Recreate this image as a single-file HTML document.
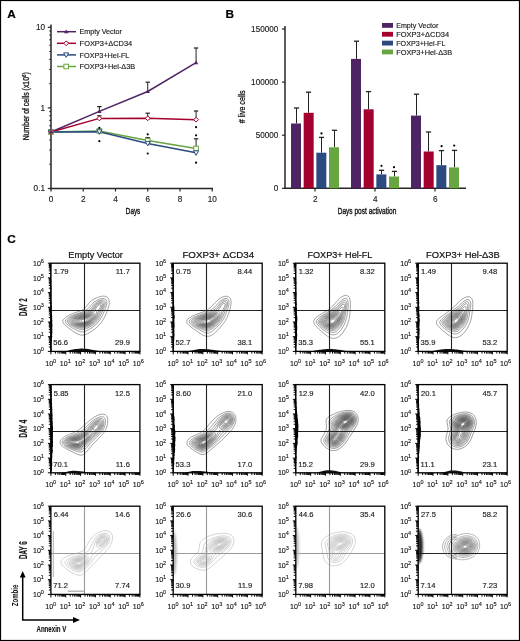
<!DOCTYPE html>
<html><head><meta charset="utf-8"><style>
html,body{margin:0;padding:0;background:#fff;}
svg{display:block;font-family:"Liberation Sans", sans-serif;will-change:transform;}
</style></head><body>
<svg width="520" height="641" viewBox="0 0 520 641">
<defs><filter id="bl" x="-50%" y="-20%" width="200%" height="140%"><feGaussianBlur stdDeviation="1.1"/></filter></defs>
<rect x="0.5" y="0.5" width="519" height="640" fill="#fff" stroke="#000" stroke-width="1.2"/>
<text x="7.20" y="17.60" font-size="11.8" font-weight="bold" fill="#000" stroke="#000" stroke-width="0.2" >A</text>
<text x="225.60" y="17.60" font-size="11.8" font-weight="bold" fill="#000" stroke="#000" stroke-width="0.2" >B</text>
<text x="7.20" y="243.30" font-size="11.8" font-weight="bold" fill="#000" stroke="#000" stroke-width="0.2" >C</text>
<line x1="51.0" y1="24.5" x2="51.0" y2="189.2" stroke="#262626" stroke-width="1.5"/>
<line x1="50.3" y1="188.6" x2="213" y2="188.6" stroke="#262626" stroke-width="1.5"/>
<line x1="47.8" y1="27.30" x2="51.0" y2="27.30" stroke="#262626" stroke-width="1.2"/>
<line x1="47.8" y1="107.90" x2="51.0" y2="107.90" stroke="#262626" stroke-width="1.2"/>
<line x1="47.8" y1="188.50" x2="51.0" y2="188.50" stroke="#262626" stroke-width="1.2"/>
<line x1="49.2" y1="164.24" x2="51.0" y2="164.24" stroke="#262626" stroke-width="1"/>
<line x1="49.2" y1="150.04" x2="51.0" y2="150.04" stroke="#262626" stroke-width="1"/>
<line x1="49.2" y1="139.97" x2="51.0" y2="139.97" stroke="#262626" stroke-width="1"/>
<line x1="49.2" y1="132.16" x2="51.0" y2="132.16" stroke="#262626" stroke-width="1"/>
<line x1="49.2" y1="125.78" x2="51.0" y2="125.78" stroke="#262626" stroke-width="1"/>
<line x1="49.2" y1="120.39" x2="51.0" y2="120.39" stroke="#262626" stroke-width="1"/>
<line x1="49.2" y1="115.71" x2="51.0" y2="115.71" stroke="#262626" stroke-width="1"/>
<line x1="49.2" y1="111.59" x2="51.0" y2="111.59" stroke="#262626" stroke-width="1"/>
<line x1="49.2" y1="83.64" x2="51.0" y2="83.64" stroke="#262626" stroke-width="1"/>
<line x1="49.2" y1="69.44" x2="51.0" y2="69.44" stroke="#262626" stroke-width="1"/>
<line x1="49.2" y1="59.37" x2="51.0" y2="59.37" stroke="#262626" stroke-width="1"/>
<line x1="49.2" y1="51.56" x2="51.0" y2="51.56" stroke="#262626" stroke-width="1"/>
<line x1="49.2" y1="45.18" x2="51.0" y2="45.18" stroke="#262626" stroke-width="1"/>
<line x1="49.2" y1="39.79" x2="51.0" y2="39.79" stroke="#262626" stroke-width="1"/>
<line x1="49.2" y1="35.11" x2="51.0" y2="35.11" stroke="#262626" stroke-width="1"/>
<line x1="49.2" y1="30.99" x2="51.0" y2="30.99" stroke="#262626" stroke-width="1"/>
<text x="45.00" y="30.20" font-size="8.2" text-anchor="end" fill="#222" stroke="#222" stroke-width="0.15" >10</text>
<text x="45.00" y="110.80" font-size="8.2" text-anchor="end" fill="#222" stroke="#222" stroke-width="0.15" >1</text>
<text x="45.00" y="191.40" font-size="8.2" text-anchor="end" fill="#222" stroke="#222" stroke-width="0.15" >0.1</text>
<line x1="51.00" y1="188.6" x2="51.00" y2="191.5" stroke="#262626" stroke-width="1.2"/>
<text x="51.00" y="201.60" font-size="8.2" text-anchor="middle" fill="#222" stroke="#222" stroke-width="0.15" >0</text>
<line x1="83.24" y1="188.6" x2="83.24" y2="191.5" stroke="#262626" stroke-width="1.2"/>
<text x="83.24" y="201.60" font-size="8.2" text-anchor="middle" fill="#222" stroke="#222" stroke-width="0.15" >2</text>
<line x1="115.48" y1="188.6" x2="115.48" y2="191.5" stroke="#262626" stroke-width="1.2"/>
<text x="115.48" y="201.60" font-size="8.2" text-anchor="middle" fill="#222" stroke="#222" stroke-width="0.15" >4</text>
<line x1="147.72" y1="188.6" x2="147.72" y2="191.5" stroke="#262626" stroke-width="1.2"/>
<text x="147.72" y="201.60" font-size="8.2" text-anchor="middle" fill="#222" stroke="#222" stroke-width="0.15" >6</text>
<line x1="179.96" y1="188.6" x2="179.96" y2="191.5" stroke="#262626" stroke-width="1.2"/>
<text x="179.96" y="201.60" font-size="8.2" text-anchor="middle" fill="#222" stroke="#222" stroke-width="0.15" >8</text>
<line x1="212.20" y1="188.6" x2="212.20" y2="191.5" stroke="#262626" stroke-width="1.2"/>
<text x="212.20" y="201.60" font-size="8.2" text-anchor="middle" fill="#222" stroke="#222" stroke-width="0.15" >10</text>
<text x="125.80" y="214.40" font-size="9.2" fill="#111" stroke="#111" stroke-width="0.35" textLength="14.5" lengthAdjust="spacingAndGlyphs" >Days</text>
<text transform="translate(29.3,140.3) rotate(-90)" font-size="9" fill="#111" stroke="#111" stroke-width="0.3" textLength="68" lengthAdjust="spacingAndGlyphs">Number of cells (x10<tspan dy="-3" font-size="5.5">6</tspan><tspan dy="3">)</tspan></text>
<line x1="99.36" y1="106.6" x2="99.36" y2="111.4" stroke="#222" stroke-width="1"/>
<line x1="97.16" y1="106.6" x2="101.56" y2="106.6" stroke="#222" stroke-width="1.2"/>
<line x1="147.72" y1="82.2" x2="147.72" y2="91.5" stroke="#222" stroke-width="1"/>
<line x1="145.52" y1="82.2" x2="149.92" y2="82.2" stroke="#222" stroke-width="1.2"/>
<line x1="196.08" y1="48.0" x2="196.08" y2="62.6" stroke="#222" stroke-width="1"/>
<line x1="193.88" y1="48.0" x2="198.28" y2="48.0" stroke="#222" stroke-width="1.2"/>
<line x1="99.36" y1="115.8" x2="99.36" y2="118.4" stroke="#222" stroke-width="1"/>
<line x1="97.16" y1="115.8" x2="101.56" y2="115.8" stroke="#222" stroke-width="1.2"/>
<line x1="147.72" y1="113.2" x2="147.72" y2="118.3" stroke="#222" stroke-width="1"/>
<line x1="145.52" y1="113.2" x2="149.92" y2="113.2" stroke="#222" stroke-width="1.2"/>
<line x1="196.08" y1="111.0" x2="196.08" y2="119.7" stroke="#222" stroke-width="1"/>
<line x1="193.88" y1="111.0" x2="198.28" y2="111.0" stroke="#222" stroke-width="1.2"/>
<line x1="147.72" y1="137.6" x2="147.72" y2="140.6" stroke="#222" stroke-width="1"/>
<line x1="145.52" y1="137.6" x2="149.92" y2="137.6" stroke="#222" stroke-width="1.2"/>
<line x1="196.08" y1="138.8" x2="196.08" y2="148.5" stroke="#222" stroke-width="1"/>
<line x1="193.88" y1="138.8" x2="198.28" y2="138.8" stroke="#222" stroke-width="1.2"/>
<polyline points="51.00,132 99.36,111.4 147.72,91.5 196.08,62.6" fill="none" stroke="#4f2465" stroke-width="1.5"/>
<polyline points="51.00,132 99.36,118.4 147.72,118.3 196.08,119.7" fill="none" stroke="#a3002e" stroke-width="1.5"/>
<polyline points="51.00,132 99.36,131.0 147.72,140.6 196.08,148.5" fill="none" stroke="#66a540" stroke-width="1.5"/>
<polyline points="51.00,132 99.36,131.8 147.72,143.4 196.08,152.8" fill="none" stroke="#2b4a80" stroke-width="1.5"/>
<rect x="48.70" y="129.70" width="4.6" height="4.6" fill="#fff" stroke="#66a540" stroke-width="1"/>
<rect x="97.06" y="128.70" width="4.6" height="4.6" fill="#fff" stroke="#66a540" stroke-width="1"/>
<rect x="145.42" y="138.30" width="4.6" height="4.6" fill="#fff" stroke="#66a540" stroke-width="1"/>
<rect x="193.78" y="146.20" width="4.6" height="4.6" fill="#fff" stroke="#66a540" stroke-width="1"/>
<path d="M48.50,130.00 L53.50,130.00 L51.00,134.50 Z" fill="#fff" stroke="#2b4a80" stroke-width="1"/>
<path d="M96.86,129.80 L101.86,129.80 L99.36,134.30 Z" fill="#fff" stroke="#2b4a80" stroke-width="1"/>
<path d="M145.22,141.40 L150.22,141.40 L147.72,145.90 Z" fill="#fff" stroke="#2b4a80" stroke-width="1"/>
<path d="M193.58,150.80 L198.58,150.80 L196.08,155.30 Z" fill="#fff" stroke="#2b4a80" stroke-width="1"/>
<path d="M51.00,129.60 L53.40,132.00 L51.00,134.40 L48.60,132.00 Z" fill="#fff" stroke="#a3002e" stroke-width="1"/>
<path d="M99.36,116.00 L101.76,118.40 L99.36,120.80 L96.96,118.40 Z" fill="#fff" stroke="#a3002e" stroke-width="1"/>
<path d="M147.72,115.90 L150.12,118.30 L147.72,120.70 L145.32,118.30 Z" fill="#fff" stroke="#a3002e" stroke-width="1"/>
<path d="M196.08,117.30 L198.48,119.70 L196.08,122.10 L193.68,119.70 Z" fill="#fff" stroke="#a3002e" stroke-width="1"/>
<path d="M48.80,133.60 L53.20,133.60 L51.00,129.80 Z" fill="#4f2465"/>
<path d="M97.16,113.00 L101.56,113.00 L99.36,109.20 Z" fill="#4f2465"/>
<path d="M145.52,93.10 L149.92,93.10 L147.72,89.30 Z" fill="#4f2465"/>
<path d="M193.88,64.20 L198.28,64.20 L196.08,60.40 Z" fill="#4f2465"/>
<circle cx="99.36" cy="127.8" r="1.1" fill="#000"/>
<circle cx="99.36" cy="141.2" r="1.1" fill="#000"/>
<circle cx="147.72" cy="134.3" r="1.1" fill="#000"/>
<circle cx="147.72" cy="153.5" r="1.1" fill="#000"/>
<circle cx="196.08" cy="127.2" r="1.1" fill="#000"/>
<circle cx="196.08" cy="135.3" r="1.1" fill="#000"/>
<circle cx="196.08" cy="162.7" r="1.1" fill="#000"/>
<line x1="57" y1="31.70" x2="76" y2="31.70" stroke="#4f2465" stroke-width="1.5"/>
<path d="M64.00,33.30 L68.40,33.30 L66.20,29.50 Z" fill="#4f2465"/>
<text x="79.60" y="34.40" font-size="7.5" fill="#1a1a1a" stroke="#1a1a1a" stroke-width="0.15" textLength="42.3" lengthAdjust="spacingAndGlyphs" >Empty Vector</text>
<line x1="57" y1="43.30" x2="76" y2="43.30" stroke="#a3002e" stroke-width="1.5"/>
<path d="M66.20,40.90 L68.60,43.30 L66.20,45.70 L63.80,43.30 Z" fill="#fff" stroke="#a3002e" stroke-width="1"/>
<text x="79.60" y="46.00" font-size="7.5" fill="#1a1a1a" stroke="#1a1a1a" stroke-width="0.15" textLength="52.6" lengthAdjust="spacingAndGlyphs" >FOXP3+ΔCD34</text>
<line x1="57" y1="54.90" x2="76" y2="54.90" stroke="#2b4a80" stroke-width="1.5"/>
<path d="M63.70,52.90 L68.70,52.90 L66.20,57.40 Z" fill="#fff" stroke="#2b4a80" stroke-width="1"/>
<text x="79.60" y="57.60" font-size="7.5" fill="#1a1a1a" stroke="#1a1a1a" stroke-width="0.15" textLength="49.8" lengthAdjust="spacingAndGlyphs" >FOXP3+Hel-FL</text>
<line x1="57" y1="66.50" x2="76" y2="66.50" stroke="#66a540" stroke-width="1.5"/>
<rect x="63.90" y="64.20" width="4.6" height="4.6" fill="#fff" stroke="#66a540" stroke-width="1"/>
<text x="79.60" y="69.20" font-size="7.5" fill="#1a1a1a" stroke="#1a1a1a" stroke-width="0.15" textLength="55.6" lengthAdjust="spacingAndGlyphs" >FOXP3+Hel-Δ3B</text>
<line x1="285.0" y1="26" x2="285.0" y2="189" stroke="#262626" stroke-width="1.5"/>
<line x1="284.3" y1="188.3" x2="466" y2="188.3" stroke="#262626" stroke-width="1.5"/>
<line x1="282.0" y1="188.30" x2="285.0" y2="188.30" stroke="#262626" stroke-width="1.2"/>
<text x="278.30" y="191.20" font-size="8.3" text-anchor="end" fill="#1a1a1a" stroke="#1a1a1a" stroke-width="0.15" textLength="4.6" lengthAdjust="spacingAndGlyphs" >0</text>
<line x1="282.0" y1="135.20" x2="285.0" y2="135.20" stroke="#262626" stroke-width="1.2"/>
<text x="278.30" y="138.10" font-size="8.3" text-anchor="end" fill="#1a1a1a" stroke="#1a1a1a" stroke-width="0.15" textLength="22.6" lengthAdjust="spacingAndGlyphs" >50000</text>
<line x1="282.0" y1="82.10" x2="285.0" y2="82.10" stroke="#262626" stroke-width="1.2"/>
<text x="278.30" y="85.00" font-size="8.3" text-anchor="end" fill="#1a1a1a" stroke="#1a1a1a" stroke-width="0.15" textLength="27.2" lengthAdjust="spacingAndGlyphs" >100000</text>
<line x1="282.0" y1="29.00" x2="285.0" y2="29.00" stroke="#262626" stroke-width="1.2"/>
<text x="278.30" y="31.90" font-size="8.3" text-anchor="end" fill="#1a1a1a" stroke="#1a1a1a" stroke-width="0.15" textLength="27.2" lengthAdjust="spacingAndGlyphs" >150000</text>
<line x1="315" y1="188.3" x2="315" y2="191.6" stroke="#262626" stroke-width="1.2"/>
<text x="315.20" y="201.50" font-size="8.2" text-anchor="middle" fill="#222" stroke="#222" stroke-width="0.15" >2</text>
<line x1="375" y1="188.3" x2="375" y2="191.6" stroke="#262626" stroke-width="1.2"/>
<text x="375.20" y="201.50" font-size="8.2" text-anchor="middle" fill="#222" stroke="#222" stroke-width="0.15" >4</text>
<line x1="435" y1="188.3" x2="435" y2="191.6" stroke="#262626" stroke-width="1.2"/>
<text x="435.20" y="201.50" font-size="8.2" text-anchor="middle" fill="#222" stroke="#222" stroke-width="0.15" >6</text>
<text x="337.70" y="214.20" font-size="9.2" fill="#111" stroke="#111" stroke-width="0.35" textLength="58.6" lengthAdjust="spacingAndGlyphs" >Days post activation</text>
<text transform="translate(245.0,123.2) rotate(-90)" font-size="9" fill="#111" stroke="#111" stroke-width="0.3" textLength="32.8" lengthAdjust="spacingAndGlyphs"># live cells</text>
<line x1="296.50" y1="108.0" x2="296.50" y2="123.5" stroke="#222" stroke-width="1"/>
<line x1="293.90" y1="108.0" x2="299.10" y2="108.0" stroke="#222" stroke-width="1.3"/>
<rect x="291.00" y="123.5" width="10" height="64.80" fill="#4f2465"/>
<line x1="308.50" y1="92.2" x2="308.50" y2="112.8" stroke="#222" stroke-width="1"/>
<line x1="305.90" y1="92.2" x2="311.10" y2="92.2" stroke="#222" stroke-width="1.3"/>
<rect x="303.67" y="112.8" width="10" height="75.50" fill="#a3002e"/>
<line x1="321.50" y1="137.4" x2="321.50" y2="152.7" stroke="#222" stroke-width="1"/>
<line x1="318.90" y1="137.4" x2="324.10" y2="137.4" stroke="#222" stroke-width="1.3"/>
<rect x="316.34" y="152.7" width="10" height="35.60" fill="#2b4a80"/>
<line x1="334.50" y1="130.3" x2="334.50" y2="147.3" stroke="#222" stroke-width="1"/>
<line x1="331.90" y1="130.3" x2="337.10" y2="130.3" stroke="#222" stroke-width="1.3"/>
<rect x="329.01" y="147.3" width="10" height="41.00" fill="#66a540"/>
<line x1="356.50" y1="41.2" x2="356.50" y2="58.9" stroke="#222" stroke-width="1"/>
<line x1="353.90" y1="41.2" x2="359.10" y2="41.2" stroke="#222" stroke-width="1.3"/>
<rect x="351.00" y="58.9" width="10" height="129.40" fill="#4f2465"/>
<line x1="368.50" y1="91.6" x2="368.50" y2="109.3" stroke="#222" stroke-width="1"/>
<line x1="365.90" y1="91.6" x2="371.10" y2="91.6" stroke="#222" stroke-width="1.3"/>
<rect x="363.67" y="109.3" width="10" height="79.00" fill="#a3002e"/>
<line x1="381.50" y1="170.3" x2="381.50" y2="174.4" stroke="#222" stroke-width="1"/>
<line x1="378.90" y1="170.3" x2="384.10" y2="170.3" stroke="#222" stroke-width="1.3"/>
<rect x="376.34" y="174.4" width="10" height="13.90" fill="#2b4a80"/>
<line x1="394.50" y1="171.4" x2="394.50" y2="176.5" stroke="#222" stroke-width="1"/>
<line x1="391.90" y1="171.4" x2="397.10" y2="171.4" stroke="#222" stroke-width="1.3"/>
<rect x="389.01" y="176.5" width="10" height="11.80" fill="#66a540"/>
<line x1="416.50" y1="94.2" x2="416.50" y2="115.6" stroke="#222" stroke-width="1"/>
<line x1="413.90" y1="94.2" x2="419.10" y2="94.2" stroke="#222" stroke-width="1.3"/>
<rect x="411.00" y="115.6" width="10" height="72.70" fill="#4f2465"/>
<line x1="428.50" y1="132.0" x2="428.50" y2="151.5" stroke="#222" stroke-width="1"/>
<line x1="425.90" y1="132.0" x2="431.10" y2="132.0" stroke="#222" stroke-width="1.3"/>
<rect x="423.67" y="151.5" width="10" height="36.80" fill="#a3002e"/>
<line x1="441.50" y1="150.6" x2="441.50" y2="165.2" stroke="#222" stroke-width="1"/>
<line x1="438.90" y1="150.6" x2="444.10" y2="150.6" stroke="#222" stroke-width="1.3"/>
<rect x="436.34" y="165.2" width="10" height="23.10" fill="#2b4a80"/>
<line x1="454.50" y1="150.4" x2="454.50" y2="167.4" stroke="#222" stroke-width="1"/>
<line x1="451.90" y1="150.4" x2="457.10" y2="150.4" stroke="#222" stroke-width="1.3"/>
<rect x="449.01" y="167.4" width="10" height="20.90" fill="#66a540"/>
<circle cx="321.5" cy="133.4" r="1.1" fill="#000"/>
<circle cx="381.5" cy="165.8" r="1.1" fill="#000"/>
<circle cx="394" cy="167.2" r="1.1" fill="#000"/>
<circle cx="441.6" cy="146.2" r="1.1" fill="#000"/>
<circle cx="454.2" cy="145.6" r="1.1" fill="#000"/>
<rect x="382" y="23.00" width="11" height="4.8" fill="#4f2465"/>
<text x="396.20" y="28.00" font-size="7.4" fill="#1a1a1a" stroke="#1a1a1a" stroke-width="0.15" textLength="42.1" lengthAdjust="spacingAndGlyphs" >Empty Vector</text>
<rect x="382" y="31.85" width="11" height="4.8" fill="#a3002e"/>
<text x="396.20" y="36.85" font-size="7.4" fill="#1a1a1a" stroke="#1a1a1a" stroke-width="0.15" textLength="52.9" lengthAdjust="spacingAndGlyphs" >FOXP3+ΔCD34</text>
<rect x="382" y="40.70" width="11" height="4.8" fill="#2b4a80"/>
<text x="396.20" y="45.70" font-size="7.4" fill="#1a1a1a" stroke="#1a1a1a" stroke-width="0.15" textLength="49.2" lengthAdjust="spacingAndGlyphs" >FOXP3+Hel-FL</text>
<rect x="382" y="49.55" width="11" height="4.8" fill="#66a540"/>
<text x="396.20" y="54.55" font-size="7.4" fill="#1a1a1a" stroke="#1a1a1a" stroke-width="0.15" textLength="55.9" lengthAdjust="spacingAndGlyphs" >FOXP3+Hel-Δ3B</text>
<text x="68.30" y="258.30" font-size="9.1" fill="#111" stroke="#111" stroke-width="0.2" textLength="54.6" lengthAdjust="spacingAndGlyphs" >Empty Vector</text>
<text x="182.40" y="258.30" font-size="9.1" fill="#111" stroke="#111" stroke-width="0.2" textLength="71.8" lengthAdjust="spacingAndGlyphs" >FOXP3+ ΔCD34</text>
<text x="307.50" y="258.30" font-size="9.1" fill="#111" stroke="#111" stroke-width="0.2" textLength="64.9" lengthAdjust="spacingAndGlyphs" >FOXP3+ Hel-FL</text>
<text x="426.00" y="258.30" font-size="9.1" fill="#111" stroke="#111" stroke-width="0.2" textLength="73.8" lengthAdjust="spacingAndGlyphs" >FOXP3+ Hel-Δ3B</text>
<text transform="translate(27.3,307.20) rotate(-90)" font-size="10.6" font-weight="bold" fill="#111" stroke="#111" stroke-width="0.15" text-anchor="middle" textLength="17.8" lengthAdjust="spacingAndGlyphs">DAY 2</text>
<text transform="translate(27.3,428.60) rotate(-90)" font-size="10.6" font-weight="bold" fill="#111" stroke="#111" stroke-width="0.15" text-anchor="middle" textLength="17.8" lengthAdjust="spacingAndGlyphs">DAY 4</text>
<text transform="translate(27.3,550.20) rotate(-90)" font-size="10.6" font-weight="bold" fill="#111" stroke="#111" stroke-width="0.15" text-anchor="middle" textLength="17.8" lengthAdjust="spacingAndGlyphs">DAY 6</text>
<path d="M82.9 335.2 80.2 335.0 77.2 333.8 73.2 331.4 67.2 327.0 64.6 324.7 63.0 322.7 62.7 321.2 63.2 319.7 65.8 317.2 69.2 315.0 72.4 313.6 80.5 310.9 83.4 309.4 85.4 307.7 88.5 303.7 90.1 301.9 92.4 300.1 94.9 298.6 98.7 297.0 102.2 296.1 104.9 296.2 106.9 296.9 108.2 298.2 109.0 299.9 109.3 302.2 109.1 304.7 108.2 308.2 106.5 312.9 104.7 316.9 103.0 319.9 101.1 322.7 98.9 325.3 94.2 329.6 87.9 333.6 85.2 334.7 82.9 335.2Z M82.7 332.0 80.7 331.8 77.9 330.8 72.4 327.9 68.4 325.3 66.5 323.7 65.5 322.2 65.4 320.9 66.0 319.7 68.2 317.6 71.2 315.8 74.2 314.6 82.4 311.9 86.0 310.2 88.5 308.2 93.1 302.9 95.2 301.3 97.2 300.1 99.7 299.0 101.9 298.5 103.9 298.5 105.4 299.1 106.3 300.2 106.8 301.7 106.8 303.7 106.3 305.9 105.3 308.9 102.2 315.9 99.7 320.4 96.4 324.2 92.4 327.4 86.4 330.8 84.4 331.6 82.7 332.0Z M82.9 329.7 80.9 329.7 78.2 328.8 73.9 327.0 70.4 325.1 68.5 323.7 67.5 322.4 67.2 321.2 67.7 319.9 69.7 318.0 72.7 316.2 76.4 314.8 84.1 312.4 88.3 310.4 90.5 308.7 94.6 303.7 97.9 301.3 99.9 300.4 101.7 300.0 103.2 300.0 104.2 300.4 105.0 301.4 105.3 302.7 105.2 304.2 104.8 306.2 99.6 317.4 98.0 320.2 95.2 323.3 91.7 325.9 86.4 328.6 82.9 329.7Z M83.4 328.2 81.4 328.3 79.2 327.9 75.4 326.6 72.2 325.0 70.1 323.7 69.0 322.4 68.6 321.4 69.0 320.2 70.7 318.4 73.7 316.7 77.4 315.3 85.1 312.9 89.9 310.9 91.9 309.2 95.4 304.4 98.4 302.2 99.9 301.5 101.4 301.2 102.7 301.3 103.4 301.7 103.9 302.4 104.1 303.4 103.6 306.4 102.5 308.7 99.9 313.2 97.9 317.9 96.5 320.2 94.2 322.7 91.2 324.9 86.9 327.0 83.4 328.2Z M83.4 327.2 81.4 327.4 79.4 327.0 76.2 326.0 73.4 324.8 71.5 323.7 70.4 322.7 69.9 321.7 70.1 320.4 71.6 318.7 74.7 317.0 78.4 315.6 86.5 313.2 90.9 311.4 92.7 310.0 95.3 305.9 97.4 303.8 100.2 302.4 101.4 302.3 102.4 302.6 102.9 303.2 103.1 304.2 102.5 306.7 101.5 308.7 98.9 312.7 97.0 317.4 95.6 319.9 93.4 322.2 90.4 324.4 86.9 326.1 83.4 327.2Z M83.7 326.5 81.9 326.7 79.9 326.4 76.9 325.6 74.4 324.6 72.4 323.4 71.4 322.4 71.0 321.4 71.2 320.4 72.9 318.7 75.9 317.1 78.9 316.0 88.7 313.2 91.8 311.9 93.6 310.4 95.9 306.6 97.6 304.7 99.9 303.5 100.9 303.4 101.6 303.7 101.9 304.2 102.0 304.9 101.6 306.7 100.7 308.5 97.8 312.4 96.1 317.4 94.6 319.9 92.7 321.9 90.2 323.7 86.9 325.4 83.7 326.5Z M83.2 326.0 81.4 326.1 79.4 325.8 74.7 324.1 73.2 323.2 72.2 322.2 72.0 321.4 72.2 320.4 74.0 318.7 77.4 317.1 90.4 313.3 93.3 312.2 94.9 310.9 96.4 307.6 97.7 305.9 99.4 304.8 100.2 304.7 100.6 304.9 100.8 305.7 100.5 306.9 99.4 308.7 96.6 311.9 95.3 317.2 94.6 318.7 93.6 320.2 91.7 322.0 89.2 323.7 85.9 325.2 83.2 326.0Z M82.9 325.5 79.7 325.3 75.6 323.9 73.4 322.4 73.0 321.7 73.1 320.7 73.8 319.7 75.2 318.7 79.4 316.9 92.4 313.6 93.7 313.4 94.5 313.7 94.9 315.2 94.6 317.2 93.7 318.9 92.3 320.7 90.4 322.3 88.2 323.6 85.4 324.8 82.9 325.5Z M83.2 325.0 80.2 324.9 76.3 323.7 75.0 322.9 74.2 322.2 73.9 321.4 74.0 320.7 74.9 319.7 76.2 318.8 80.7 317.0 90.9 314.6 92.7 314.4 93.7 314.9 94.0 316.2 93.7 317.7 92.9 319.2 91.6 320.7 89.9 322.1 87.9 323.3 85.4 324.4 83.2 325.0Z M83.4 324.5 80.7 324.6 77.2 323.5 75.2 322.2 74.9 321.4 75.0 320.7 75.9 319.7 77.4 318.8 81.5 317.2 89.9 315.3 91.7 315.2 92.8 315.7 93.1 316.7 92.9 317.9 92.0 319.4 90.9 320.7 87.6 322.9 83.4 324.5Z M82.4 324.2 79.9 324.0 77.2 322.9 76.0 321.9 75.8 321.4 76.0 320.7 76.7 319.9 78.2 318.9 82.4 317.4 89.7 315.9 91.2 316.0 92.0 316.4 92.3 317.2 92.0 318.4 91.2 319.7 89.9 321.0 88.2 322.2 86.2 323.2 84.2 323.9 82.4 324.2Z M83.2 323.7 80.9 323.7 78.7 323.1 77.2 322.0 76.9 321.4 77.0 320.9 77.5 320.2 78.9 319.2 82.4 317.9 88.9 316.6 90.4 316.6 91.2 317.0 91.4 317.7 91.2 318.7 89.5 320.7 86.7 322.5 83.2 323.7Z M83.4 323.2 81.4 323.3 79.7 322.9 78.2 321.9 78.1 320.9 78.6 320.2 79.8 319.4 83.2 318.2 88.2 317.3 89.4 317.3 90.3 317.7 90.4 318.2 90.3 318.9 88.8 320.7 86.4 322.2 83.4 323.2Z M83.4 322.7 81.9 322.8 80.3 322.4 79.4 321.7 79.3 320.9 80.7 319.7 83.7 318.6 87.7 318.0 88.7 318.1 89.2 318.4 89.3 318.9 88.9 319.7 87.6 320.9 85.7 322.0 83.4 322.7Z M84.2 322.0 82.7 322.2 81.7 322.0 80.9 321.6 80.8 320.9 82.0 319.9 84.2 319.2 86.7 318.9 87.7 319.2 87.6 319.9 86.8 320.7 84.2 322.0Z" fill="none" stroke="#484848" stroke-width="0.5"/>
<line x1="84.5" y1="263.2" x2="84.5" y2="351.4" stroke="#222" stroke-width="1.1"/>
<line x1="50.9" y1="310.5" x2="139.9" y2="310.5" stroke="#222" stroke-width="1.1"/>
<path d="M50.30,263.20 L51.21,263.20 L51.13,264.67 L51.38,266.14 L51.10,267.61 L51.32,269.08 L51.23,270.55 L51.10,272.02 L51.31,273.49 L51.10,274.96 L51.27,276.43 L51.10,277.90 L51.11,279.37 L51.28,280.84 L51.49,282.31 L51.14,283.78 L51.20,285.25 L51.41,286.72 L51.58,288.19 L51.41,289.66 L51.34,291.13 L51.65,292.60 L51.21,294.07 L51.64,295.54 L51.39,297.01 L51.35,298.48 L51.38,299.95 L51.52,301.42 L51.82,302.89 L51.55,304.36 L51.80,305.83 L51.89,307.30 L51.81,308.77 L51.95,310.24 L51.77,311.71 L51.82,313.18 L51.95,314.65 L52.23,316.12 L52.15,317.59 L52.13,319.06 L52.30,320.53 L52.26,322.00 L52.19,323.47 L52.45,324.94 L52.40,326.41 L52.16,327.88 L52.30,329.35 L52.25,330.82 L52.39,332.29 L52.27,333.76 L52.01,335.23 L52.30,336.70 L51.82,338.17 L51.91,339.64 L52.02,341.11 L51.66,342.58 L51.77,344.05 L51.50,345.52 L51.76,346.99 L51.76,348.46 L51.62,349.93 L51.73,351.40 L50.30,351.40Z" fill="#000"/>
<path d="M61.90,351.40 L61.90,351.40 L63.27,351.30 L64.63,351.12 L66.00,350.90 L67.37,350.65 L68.73,350.38 L70.10,350.10 L71.47,349.82 L72.83,349.56 L74.20,349.31 L75.57,349.09 L76.93,348.91 L78.30,348.77 L79.67,348.66 L81.03,348.61 L82.40,348.60 L83.77,348.64 L85.13,348.72 L86.50,348.84 L87.87,349.00 L89.23,349.19 L90.60,349.41 L91.97,349.65 L93.33,349.91 L94.70,350.18 L96.07,350.44 L97.43,350.70 L98.80,350.94 L100.17,351.14 L101.53,351.31 L102.90,351.40Z" fill="#111"/>
<rect x="50.9" y="263.2" width="89.0" height="88.2" fill="none" stroke="#000" stroke-width="1.3"/>
<path d="M47.90 351.40H50.90M50.90 351.40V354.40M48.80 346.97H50.90M55.37 351.40V353.60M48.80 344.39H50.90M57.98 351.40V353.60M48.80 342.55H50.90M59.83 351.40V353.60M48.80 341.13H50.90M61.27 351.40V353.60M48.80 339.96H50.90M62.44 351.40V353.60M48.80 338.98H50.90M63.44 351.40V353.60M48.80 338.12H50.90M64.30 351.40V353.60M48.80 337.37H50.90M65.05 351.40V353.60M47.90 336.70H50.90M65.73 351.40V354.40M48.80 332.27H50.90M70.20 351.40V353.60M48.80 329.69H50.90M72.81 351.40V353.60M48.80 327.85H50.90M74.66 351.40V353.60M48.80 326.43H50.90M76.10 351.40V353.60M48.80 325.26H50.90M77.28 351.40V353.60M48.80 324.28H50.90M78.27 351.40V353.60M48.80 323.42H50.90M79.13 351.40V353.60M48.80 322.67H50.90M79.89 351.40V353.60M47.90 322.00H50.90M80.57 351.40V354.40M48.80 317.57H50.90M85.03 351.40V353.60M48.80 314.99H50.90M87.64 351.40V353.60M48.80 313.15H50.90M89.50 351.40V353.60M48.80 311.73H50.90M90.93 351.40V353.60M48.80 310.56H50.90M92.11 351.40V353.60M48.80 309.58H50.90M93.10 351.40V353.60M48.80 308.72H50.90M93.96 351.40V353.60M48.80 307.97H50.90M94.72 351.40V353.60M47.90 307.30H50.90M95.40 351.40V354.40M48.80 302.87H50.90M99.87 351.40V353.60M48.80 300.29H50.90M102.48 351.40V353.60M48.80 298.45H50.90M104.33 351.40V353.60M48.80 297.03H50.90M105.77 351.40V353.60M48.80 295.86H50.90M106.94 351.40V353.60M48.80 294.88H50.90M107.94 351.40V353.60M48.80 294.02H50.90M108.80 351.40V353.60M48.80 293.27H50.90M109.55 351.40V353.60M47.90 292.60H50.90M110.23 351.40V354.40M48.80 288.17H50.90M114.70 351.40V353.60M48.80 285.59H50.90M117.31 351.40V353.60M48.80 283.75H50.90M119.16 351.40V353.60M48.80 282.33H50.90M120.60 351.40V353.60M48.80 281.16H50.90M121.78 351.40V353.60M48.80 280.18H50.90M122.77 351.40V353.60M48.80 279.32H50.90M123.63 351.40V353.60M48.80 278.57H50.90M124.39 351.40V353.60M47.90 277.90H50.90M125.07 351.40V354.40M48.80 273.47H50.90M129.53 351.40V353.60M48.80 270.89H50.90M132.14 351.40V353.60M48.80 269.05H50.90M134.00 351.40V353.60M48.80 267.63H50.90M135.43 351.40V353.60M48.80 266.46H50.90M136.61 351.40V353.60M48.80 265.48H50.90M137.60 351.40V353.60M48.80 264.62H50.90M138.46 351.40V353.60M48.80 263.87H50.90M139.22 351.40V353.60M47.90 263.20H50.90M139.90 351.40V354.40" stroke="#000" stroke-width="1" fill="none"/>
<g font-size="7.1" fill="#111" stroke="#111" stroke-width="0.12"><text x="33.00" y="354.00" textLength="7.9" lengthAdjust="spacingAndGlyphs">10</text><text x="40.80" y="351.10" font-size="5.5">0</text><text x="45.20" y="365.70" textLength="7.9" lengthAdjust="spacingAndGlyphs">10</text><text x="53.10" y="363.00" font-size="5.5">0</text><text x="33.00" y="339.30" textLength="7.9" lengthAdjust="spacingAndGlyphs">10</text><text x="40.80" y="336.40" font-size="5.5">1</text><text x="59.80" y="365.70" textLength="7.9" lengthAdjust="spacingAndGlyphs">10</text><text x="67.70" y="363.00" font-size="5.5">1</text><text x="33.00" y="324.60" textLength="7.9" lengthAdjust="spacingAndGlyphs">10</text><text x="40.80" y="321.70" font-size="5.5">2</text><text x="74.40" y="365.70" textLength="7.9" lengthAdjust="spacingAndGlyphs">10</text><text x="82.30" y="363.00" font-size="5.5">2</text><text x="33.00" y="309.90" textLength="7.9" lengthAdjust="spacingAndGlyphs">10</text><text x="40.80" y="307.00" font-size="5.5">3</text><text x="89.00" y="365.70" textLength="7.9" lengthAdjust="spacingAndGlyphs">10</text><text x="96.90" y="363.00" font-size="5.5">3</text><text x="33.00" y="295.20" textLength="7.9" lengthAdjust="spacingAndGlyphs">10</text><text x="40.80" y="292.30" font-size="5.5">4</text><text x="103.60" y="365.70" textLength="7.9" lengthAdjust="spacingAndGlyphs">10</text><text x="111.50" y="363.00" font-size="5.5">4</text><text x="33.00" y="280.50" textLength="7.9" lengthAdjust="spacingAndGlyphs">10</text><text x="40.80" y="277.60" font-size="5.5">5</text><text x="118.20" y="365.70" textLength="7.9" lengthAdjust="spacingAndGlyphs">10</text><text x="126.10" y="363.00" font-size="5.5">5</text><text x="33.00" y="265.80" textLength="7.9" lengthAdjust="spacingAndGlyphs">10</text><text x="40.80" y="262.90" font-size="5.5">6</text><text x="132.80" y="365.70" textLength="7.9" lengthAdjust="spacingAndGlyphs">10</text><text x="140.70" y="363.00" font-size="5.5">6</text></g>
<g font-size="7.6" fill="#1a1a1a" stroke="#1a1a1a" stroke-width="0.1">
<text x="53.80" y="274.40" font-size="7.6" fill="#1a1a1a" stroke="#1a1a1a" stroke-width="0.15" >1.79</text>
<text x="129.90" y="274.40" font-size="7.6" text-anchor="end" fill="#1a1a1a" stroke="#1a1a1a" stroke-width="0.15" >11.7</text>
<text x="53.30" y="345.10" font-size="7.6" fill="#1a1a1a" stroke="#1a1a1a" stroke-width="0.15" >56.6</text>
<text x="129.90" y="345.10" font-size="7.6" text-anchor="end" fill="#1a1a1a" stroke="#1a1a1a" stroke-width="0.15" >29.9</text>
</g>
<path d="M209.2 336.2 206.4 336.4 203.4 335.4 200.4 333.6 192.7 328.3 189.2 325.6 187.5 323.9 186.7 322.2 187.0 320.4 187.7 319.3 188.9 318.2 192.7 315.9 195.7 314.6 204.4 311.4 207.7 309.7 210.8 307.2 217.9 299.9 220.9 297.7 222.9 296.8 224.9 296.3 226.7 296.2 228.2 296.6 229.4 297.5 230.4 298.9 231.0 300.9 231.1 303.4 230.6 306.7 229.8 309.9 228.6 313.9 227.0 317.7 225.4 320.7 223.6 323.4 218.1 329.9 213.2 334.2 211.2 335.5 209.2 336.2Z M208.7 333.0 206.7 333.1 204.7 332.6 194.4 327.1 191.7 325.2 189.9 323.4 189.2 321.9 189.4 320.7 191.2 318.8 194.4 316.8 197.9 315.3 206.7 312.2 211.8 309.4 214.7 307.2 219.6 301.7 222.2 299.6 224.9 298.5 226.2 298.5 227.2 298.8 228.2 299.6 228.8 300.9 229.0 302.7 228.9 304.9 227.8 308.7 224.8 316.4 223.7 318.9 220.8 323.2 216.7 327.5 211.9 331.4 210.2 332.4 208.7 333.0Z M208.4 330.8 206.7 330.9 204.7 330.4 199.7 328.4 195.7 326.4 193.2 324.7 191.6 323.2 191.0 321.9 191.3 320.7 193.0 318.9 196.2 317.1 208.2 312.7 214.0 309.9 216.7 307.8 220.2 303.2 222.0 301.4 224.4 300.2 225.4 300.1 226.4 300.4 227.2 301.2 227.6 302.4 227.6 303.9 227.3 305.7 222.8 316.9 221.6 319.4 219.2 322.8 215.9 326.0 211.7 329.1 208.4 330.8Z M208.4 329.2 206.7 329.4 204.7 329.1 200.9 327.8 197.2 326.1 194.7 324.6 193.1 323.2 192.5 321.9 192.7 320.9 194.4 319.1 197.7 317.3 209.2 313.2 215.6 310.4 217.9 308.5 220.7 304.4 222.2 302.7 224.2 301.6 224.9 301.6 225.7 301.8 226.2 302.4 226.4 303.4 226.1 305.9 223.1 312.2 221.4 317.2 220.1 319.7 217.8 322.7 214.9 325.4 211.4 327.8 208.4 329.2Z M208.2 328.2 206.4 328.4 204.4 328.0 200.7 326.9 197.7 325.6 195.7 324.4 194.4 323.2 193.8 321.9 194.0 320.9 195.8 319.2 199.2 317.4 214.2 312.2 217.0 310.9 219.1 309.2 221.3 305.4 222.4 304.1 223.7 303.3 224.7 303.4 225.1 304.4 224.8 306.2 221.9 311.4 220.4 316.9 218.9 319.9 216.9 322.4 214.2 324.9 210.9 327.0 208.2 328.2Z M207.9 327.5 206.2 327.6 204.2 327.3 200.9 326.3 198.2 325.1 196.4 323.9 195.3 322.9 194.9 321.9 195.1 320.9 196.0 319.9 197.4 319.0 201.9 316.9 217.7 312.0 218.7 311.7 219.4 311.8 219.7 312.2 219.9 313.2 219.7 315.9 219.0 318.2 217.7 320.4 215.7 322.7 213.2 324.8 210.2 326.6 207.9 327.5Z M206.9 327.0 205.2 326.9 202.9 326.3 198.7 324.7 196.4 322.9 195.9 321.9 196.1 321.2 196.9 320.2 198.3 319.2 203.4 316.9 214.7 313.6 216.9 313.3 218.2 313.5 218.8 314.7 218.6 316.9 217.8 318.9 216.3 321.2 214.2 323.3 211.7 325.1 208.9 326.5 206.9 327.0Z M207.9 326.3 206.4 326.4 204.7 326.2 199.9 324.7 198.4 323.9 197.4 322.9 196.9 321.9 197.1 321.2 198.0 320.2 199.5 319.2 204.7 317.0 214.4 314.4 216.4 314.2 217.4 314.7 217.9 315.7 217.7 317.4 217.0 319.2 215.8 320.9 214.1 322.7 211.9 324.3 209.7 325.6 207.9 326.3Z M207.9 325.8 206.4 325.9 204.9 325.8 200.9 324.6 199.4 323.9 198.3 322.9 197.9 322.2 198.0 321.4 198.7 320.4 200.2 319.4 204.9 317.4 213.7 315.2 215.4 315.0 216.6 315.4 217.1 316.4 216.9 317.7 216.3 319.2 215.1 320.9 213.6 322.4 211.7 323.9 209.7 325.1 207.9 325.8Z M206.9 325.5 204.2 325.2 200.9 324.1 199.1 322.7 198.9 322.2 199.0 321.4 199.8 320.4 201.2 319.5 205.7 317.7 213.2 315.9 214.9 315.8 215.8 316.2 216.2 317.2 216.0 318.4 215.2 319.9 214.0 321.4 212.3 322.9 210.4 324.2 208.7 325.1 206.9 325.5Z M207.4 325.0 204.9 324.9 201.8 323.9 200.1 322.7 199.9 322.2 200.0 321.4 200.6 320.7 202.0 319.7 206.4 317.9 212.7 316.5 214.2 316.5 215.1 316.9 215.4 317.7 215.2 318.7 214.6 319.9 213.4 321.4 210.4 323.7 207.4 325.0Z M207.7 324.5 205.4 324.6 202.5 323.7 201.1 322.7 200.9 322.2 201.0 321.4 201.6 320.7 202.9 319.8 206.7 318.4 211.9 317.2 213.4 317.2 214.2 317.6 214.5 318.2 214.4 318.9 213.0 321.2 210.4 323.3 207.7 324.5Z M207.9 324.0 206.2 324.2 203.9 323.7 202.3 322.7 202.0 321.7 202.5 320.9 203.6 320.2 206.6 318.9 210.9 318.0 212.4 317.9 213.2 318.2 213.5 318.7 213.5 319.4 212.3 321.2 210.2 322.9 207.9 324.0Z M207.7 323.5 206.2 323.6 204.4 323.2 203.3 322.4 203.2 321.7 204.5 320.4 206.9 319.4 210.4 318.7 211.4 318.7 212.2 319.0 212.4 319.4 212.4 319.9 211.3 321.4 209.6 322.7 207.7 323.5Z M207.2 323.0 206.2 322.9 205.2 322.6 204.7 322.0 204.9 321.4 205.9 320.6 207.9 319.9 209.9 319.6 210.9 319.9 210.9 320.7 210.0 321.7 208.7 322.5 207.2 323.0Z" fill="none" stroke="#484848" stroke-width="0.5"/>
<line x1="206.5" y1="263.2" x2="206.5" y2="351.4" stroke="#222" stroke-width="1.1"/>
<line x1="173.2" y1="310.5" x2="262.2" y2="310.5" stroke="#222" stroke-width="1.1"/>
<path d="M172.60,263.20 L173.51,263.20 L173.70,264.67 L173.65,266.14 L173.64,267.61 L173.58,269.08 L173.77,270.55 L173.83,272.02 L173.59,273.49 L173.69,274.96 L173.40,276.43 L173.72,277.90 L173.69,279.37 L173.87,280.84 L173.79,282.31 L173.53,283.78 L173.59,285.25 L173.75,286.72 L173.44,288.19 L173.68,289.66 L173.55,291.13 L173.55,292.60 L173.55,294.07 L173.94,295.54 L173.66,297.01 L173.76,298.48 L173.87,299.95 L174.16,301.42 L173.82,302.89 L174.05,304.36 L174.16,305.83 L174.38,307.30 L174.41,308.77 L174.49,310.24 L174.25,311.71 L174.37,313.18 L174.39,314.65 L174.69,316.12 L174.77,317.59 L174.39,319.06 L174.42,320.53 L174.46,322.00 L174.47,323.47 L174.59,324.94 L174.62,326.41 L174.44,327.88 L174.28,329.35 L174.45,330.82 L174.38,332.29 L174.43,333.76 L174.57,335.23 L174.38,336.70 L174.24,338.17 L174.23,339.64 L174.20,341.11 L173.84,342.58 L174.21,344.05 L174.10,345.52 L174.10,346.99 L174.02,348.46 L173.77,349.93 L173.74,351.40 L172.60,351.40Z" fill="#000"/>
<path d="M186.20,351.40 L186.20,351.40 L187.52,351.28 L188.84,351.07 L190.16,350.81 L191.48,350.53 L192.80,350.23 L194.12,349.94 L195.44,349.67 L196.76,349.43 L198.08,349.24 L199.40,349.10 L200.72,349.02 L202.04,349.00 L203.36,349.02 L204.68,349.07 L206.00,349.14 L207.32,349.23 L208.64,349.35 L209.96,349.49 L211.28,349.65 L212.60,349.82 L213.92,350.00 L215.24,350.18 L216.56,350.38 L217.88,350.57 L219.20,350.75 L220.52,350.93 L221.84,351.09 L223.16,351.23 L224.48,351.34 L225.80,351.40Z" fill="#111"/>
<rect x="173.2" y="263.2" width="89.0" height="88.2" fill="none" stroke="#000" stroke-width="1.3"/>
<path d="M170.20 351.40H173.20M173.20 351.40V354.40M171.10 346.97H173.20M177.67 351.40V353.60M171.10 344.39H173.20M180.28 351.40V353.60M171.10 342.55H173.20M182.13 351.40V353.60M171.10 341.13H173.20M183.57 351.40V353.60M171.10 339.96H173.20M184.74 351.40V353.60M171.10 338.98H173.20M185.74 351.40V353.60M171.10 338.12H173.20M186.60 351.40V353.60M171.10 337.37H173.20M187.35 351.40V353.60M170.20 336.70H173.20M188.03 351.40V354.40M171.10 332.27H173.20M192.50 351.40V353.60M171.10 329.69H173.20M195.11 351.40V353.60M171.10 327.85H173.20M196.96 351.40V353.60M171.10 326.43H173.20M198.40 351.40V353.60M171.10 325.26H173.20M199.58 351.40V353.60M171.10 324.28H173.20M200.57 351.40V353.60M171.10 323.42H173.20M201.43 351.40V353.60M171.10 322.67H173.20M202.19 351.40V353.60M170.20 322.00H173.20M202.87 351.40V354.40M171.10 317.57H173.20M207.33 351.40V353.60M171.10 314.99H173.20M209.94 351.40V353.60M171.10 313.15H173.20M211.80 351.40V353.60M171.10 311.73H173.20M213.23 351.40V353.60M171.10 310.56H173.20M214.41 351.40V353.60M171.10 309.58H173.20M215.40 351.40V353.60M171.10 308.72H173.20M216.26 351.40V353.60M171.10 307.97H173.20M217.02 351.40V353.60M170.20 307.30H173.20M217.70 351.40V354.40M171.10 302.87H173.20M222.17 351.40V353.60M171.10 300.29H173.20M224.78 351.40V353.60M171.10 298.45H173.20M226.63 351.40V353.60M171.10 297.03H173.20M228.07 351.40V353.60M171.10 295.86H173.20M229.24 351.40V353.60M171.10 294.88H173.20M230.24 351.40V353.60M171.10 294.02H173.20M231.10 351.40V353.60M171.10 293.27H173.20M231.85 351.40V353.60M170.20 292.60H173.20M232.53 351.40V354.40M171.10 288.17H173.20M237.00 351.40V353.60M171.10 285.59H173.20M239.61 351.40V353.60M171.10 283.75H173.20M241.46 351.40V353.60M171.10 282.33H173.20M242.90 351.40V353.60M171.10 281.16H173.20M244.08 351.40V353.60M171.10 280.18H173.20M245.07 351.40V353.60M171.10 279.32H173.20M245.93 351.40V353.60M171.10 278.57H173.20M246.69 351.40V353.60M170.20 277.90H173.20M247.37 351.40V354.40M171.10 273.47H173.20M251.83 351.40V353.60M171.10 270.89H173.20M254.44 351.40V353.60M171.10 269.05H173.20M256.30 351.40V353.60M171.10 267.63H173.20M257.73 351.40V353.60M171.10 266.46H173.20M258.91 351.40V353.60M171.10 265.48H173.20M259.90 351.40V353.60M171.10 264.62H173.20M260.76 351.40V353.60M171.10 263.87H173.20M261.52 351.40V353.60M170.20 263.20H173.20M262.20 351.40V354.40" stroke="#000" stroke-width="1" fill="none"/>
<g font-size="7.1" fill="#111" stroke="#111" stroke-width="0.12"><text x="155.30" y="354.00" textLength="7.9" lengthAdjust="spacingAndGlyphs">10</text><text x="163.10" y="351.10" font-size="5.5">0</text><text x="167.50" y="365.70" textLength="7.9" lengthAdjust="spacingAndGlyphs">10</text><text x="175.40" y="363.00" font-size="5.5">0</text><text x="155.30" y="339.30" textLength="7.9" lengthAdjust="spacingAndGlyphs">10</text><text x="163.10" y="336.40" font-size="5.5">1</text><text x="182.10" y="365.70" textLength="7.9" lengthAdjust="spacingAndGlyphs">10</text><text x="190.00" y="363.00" font-size="5.5">1</text><text x="155.30" y="324.60" textLength="7.9" lengthAdjust="spacingAndGlyphs">10</text><text x="163.10" y="321.70" font-size="5.5">2</text><text x="196.70" y="365.70" textLength="7.9" lengthAdjust="spacingAndGlyphs">10</text><text x="204.60" y="363.00" font-size="5.5">2</text><text x="155.30" y="309.90" textLength="7.9" lengthAdjust="spacingAndGlyphs">10</text><text x="163.10" y="307.00" font-size="5.5">3</text><text x="211.30" y="365.70" textLength="7.9" lengthAdjust="spacingAndGlyphs">10</text><text x="219.20" y="363.00" font-size="5.5">3</text><text x="155.30" y="295.20" textLength="7.9" lengthAdjust="spacingAndGlyphs">10</text><text x="163.10" y="292.30" font-size="5.5">4</text><text x="225.90" y="365.70" textLength="7.9" lengthAdjust="spacingAndGlyphs">10</text><text x="233.80" y="363.00" font-size="5.5">4</text><text x="155.30" y="280.50" textLength="7.9" lengthAdjust="spacingAndGlyphs">10</text><text x="163.10" y="277.60" font-size="5.5">5</text><text x="240.50" y="365.70" textLength="7.9" lengthAdjust="spacingAndGlyphs">10</text><text x="248.40" y="363.00" font-size="5.5">5</text><text x="155.30" y="265.80" textLength="7.9" lengthAdjust="spacingAndGlyphs">10</text><text x="163.10" y="262.90" font-size="5.5">6</text><text x="255.10" y="365.70" textLength="7.9" lengthAdjust="spacingAndGlyphs">10</text><text x="263.00" y="363.00" font-size="5.5">6</text></g>
<g font-size="7.6" fill="#1a1a1a" stroke="#1a1a1a" stroke-width="0.1">
<text x="176.10" y="274.40" font-size="7.6" fill="#1a1a1a" stroke="#1a1a1a" stroke-width="0.15" >0.75</text>
<text x="252.20" y="274.40" font-size="7.6" text-anchor="end" fill="#1a1a1a" stroke="#1a1a1a" stroke-width="0.15" >8.44</text>
<text x="175.60" y="345.10" font-size="7.6" fill="#1a1a1a" stroke="#1a1a1a" stroke-width="0.15" >52.7</text>
<text x="252.20" y="345.10" font-size="7.6" text-anchor="end" fill="#1a1a1a" stroke="#1a1a1a" stroke-width="0.15" >38.1</text>
</g>
<path d="M335.1 338.2 332.6 338.4 330.1 337.7 327.6 336.3 324.1 333.6 318.6 328.9 315.3 325.4 313.8 322.9 313.7 320.9 314.7 318.9 317.3 316.6 319.8 314.9 326.6 310.9 330.3 308.2 334.0 304.7 338.9 299.2 341.1 297.2 344.1 295.6 345.6 295.3 346.8 295.4 348.3 296.3 349.3 297.7 350.0 299.7 350.4 302.7 350.4 306.4 349.9 313.7 349.4 317.7 348.7 320.9 347.6 324.2 346.2 327.4 342.7 332.9 340.9 334.9 339.1 336.4 337.1 337.6 335.1 338.2Z M334.8 334.7 332.8 334.9 330.6 334.3 326.3 331.8 322.6 329.3 319.6 326.8 317.4 324.4 316.4 322.7 316.3 320.9 317.4 319.2 320.1 316.8 329.5 310.9 335.2 306.7 342.1 299.6 344.1 298.4 345.8 298.3 346.8 298.9 347.6 300.2 348.1 302.2 348.3 304.7 348.2 307.2 346.9 316.2 345.9 320.4 343.9 325.2 340.8 330.1 337.8 333.2 336.3 334.1 334.8 334.7Z M333.6 332.5 331.8 332.3 329.3 331.3 325.3 329.3 322.3 327.3 320.1 325.4 318.6 323.7 318.0 322.2 318.2 320.9 319.3 319.2 321.8 316.9 336.4 307.7 338.1 306.1 341.1 302.4 342.6 301.1 344.1 300.4 345.3 300.4 346.1 301.1 346.6 302.2 346.9 303.9 346.9 305.9 344.9 317.4 343.9 320.9 341.9 324.9 339.0 328.9 336.1 331.6 334.8 332.2 333.6 332.5Z M333.6 330.7 331.8 330.6 329.3 329.8 326.1 328.4 323.3 326.7 321.3 325.1 319.9 323.4 319.4 322.2 319.6 320.9 320.7 319.2 322.8 317.4 326.3 315.0 336.3 309.2 338.4 307.4 342.3 303.0 343.6 302.3 344.6 302.3 345.1 302.7 345.5 303.7 345.7 306.4 343.7 317.4 342.7 320.7 340.9 324.2 338.4 327.4 335.8 329.8 333.6 330.7Z M333.3 329.5 331.6 329.4 328.8 328.6 326.3 327.5 324.1 326.2 322.3 324.9 321.0 323.4 320.5 322.2 320.7 320.9 322.0 319.2 324.3 317.2 328.8 314.4 337.3 309.7 339.1 308.2 342.1 304.8 343.1 304.2 343.8 304.2 344.5 305.2 344.5 306.9 342.7 317.4 341.7 320.7 340.1 323.7 337.8 326.5 335.3 328.7 333.3 329.5Z M333.3 328.5 331.6 328.5 329.3 327.9 327.1 327.1 324.8 325.9 322.9 324.4 321.9 323.2 321.5 321.9 321.7 320.9 323.3 318.9 326.1 316.8 330.6 314.1 337.9 310.4 339.6 309.2 341.8 307.2 342.6 306.9 342.9 307.2 343.0 308.2 342.2 315.4 341.7 318.2 341.0 320.4 339.5 323.2 337.5 325.7 335.3 327.6 333.3 328.5Z M333.1 327.7 331.3 327.7 329.1 327.1 327.1 326.4 325.1 325.3 323.7 324.2 322.7 322.9 322.4 321.9 322.7 320.9 323.6 319.7 324.9 318.4 329.1 315.6 333.8 313.2 339.8 310.6 340.8 310.5 341.3 310.9 341.5 311.7 341.5 314.9 341.1 317.7 340.2 320.4 338.8 323.0 336.8 325.4 334.8 327.0 333.1 327.7Z M333.3 327.0 331.8 327.1 329.8 326.7 327.8 326.1 325.8 325.1 324.3 323.9 323.6 322.9 323.3 321.9 323.6 321.0 324.5 319.7 325.9 318.4 330.3 315.6 336.6 312.9 338.8 312.2 339.8 312.3 340.5 313.2 340.8 315.2 340.5 317.7 339.7 320.2 338.5 322.4 336.8 324.6 335.1 326.1 333.3 327.0Z M332.8 326.5 331.3 326.5 329.6 326.1 326.1 324.6 325.0 323.7 324.3 322.7 324.2 321.9 324.4 320.9 325.4 319.7 326.8 318.4 331.1 315.8 336.1 313.8 338.1 313.4 339.1 313.5 339.8 314.3 340.1 316.2 339.7 318.4 338.9 320.7 337.7 322.7 335.9 324.7 334.3 325.9 332.8 326.5Z M332.3 326.0 329.3 325.5 326.5 324.2 325.1 322.7 325.0 321.9 325.3 320.9 326.3 319.7 327.6 318.6 331.6 316.2 336.1 314.5 337.6 314.3 338.6 314.5 339.2 315.4 339.4 316.9 339.0 318.9 338.2 320.9 336.9 322.9 335.3 324.6 333.8 325.6 332.3 326.0Z M332.3 325.5 329.6 325.1 327.1 323.9 326.3 323.2 325.9 322.4 325.9 321.7 326.1 320.9 328.3 318.7 331.8 316.7 335.6 315.4 337.1 315.2 337.9 315.4 338.6 316.2 338.7 317.7 338.3 319.4 337.6 321.1 336.5 322.7 335.0 324.2 333.8 325.0 332.3 325.5Z M332.1 325.0 329.6 324.6 327.6 323.5 326.7 322.2 327.0 320.9 329.0 318.9 332.1 317.2 335.3 316.1 336.6 316.1 337.3 316.3 337.9 316.9 338.0 318.2 337.7 319.7 337.0 321.2 335.9 322.7 334.6 324.0 333.3 324.7 332.1 325.0Z M333.1 324.2 331.1 324.4 329.0 323.7 328.3 323.2 327.7 322.4 327.8 321.2 329.3 319.6 331.9 317.9 334.8 317.0 336.6 317.1 337.1 317.5 337.3 318.4 336.6 320.7 335.0 322.9 333.1 324.2Z M332.8 323.7 331.1 323.8 329.5 323.2 328.7 322.2 328.9 321.2 330.1 319.9 332.1 318.6 334.3 317.9 335.8 318.0 336.2 318.4 336.4 319.2 335.8 320.9 334.5 322.7 332.8 323.7Z M332.8 323.0 331.6 323.1 330.5 322.7 330.0 321.9 330.2 321.2 331.1 320.2 332.4 319.4 333.8 319.0 334.8 319.1 335.3 319.7 335.0 320.9 334.0 322.2 332.8 323.0Z" fill="none" stroke="#484848" stroke-width="0.5"/>
<line x1="329.5" y1="263.2" x2="329.5" y2="351.4" stroke="#222" stroke-width="1.1"/>
<line x1="295.8" y1="310.5" x2="384.8" y2="310.5" stroke="#222" stroke-width="1.1"/>
<path d="M295.20,263.20 L296.00,263.20 L296.27,264.67 L296.00,266.14 L296.00,267.61 L296.06,269.08 L296.03,270.55 L296.12,272.02 L296.00,273.49 L296.00,274.96 L296.04,276.43 L296.02,277.90 L296.15,279.37 L296.00,280.84 L296.42,282.31 L296.30,283.78 L296.08,285.25 L296.14,286.72 L296.20,288.19 L296.23,289.66 L296.13,291.13 L296.52,292.60 L296.62,294.07 L296.39,295.54 L296.43,297.01 L296.28,298.48 L296.33,299.95 L296.50,301.42 L296.51,302.89 L296.84,304.36 L296.57,305.83 L296.55,307.30 L297.08,308.77 L296.92,310.24 L296.78,311.71 L297.03,313.18 L296.82,314.65 L297.12,316.12 L297.38,317.59 L297.35,319.06 L297.28,320.53 L297.08,322.00 L297.13,323.47 L297.03,324.94 L297.31,326.41 L297.17,327.88 L297.26,329.35 L297.00,330.82 L296.90,332.29 L297.15,333.76 L297.18,335.23 L297.06,336.70 L296.98,338.17 L296.93,339.64 L296.84,341.11 L296.52,342.58 L296.62,344.05 L296.49,345.52 L296.28,346.99 L296.23,348.46 L296.32,349.93 L296.27,351.40 L295.20,351.40Z" fill="#000"/>
<path d="M308.30,351.40 L308.30,351.40 L309.71,351.32 L311.12,351.17 L312.53,350.99 L313.94,350.78 L315.35,350.55 L316.76,350.32 L318.17,350.08 L319.58,349.86 L320.99,349.65 L322.40,349.46 L323.81,349.30 L325.22,349.17 L326.63,349.08 L328.04,349.02 L329.45,349.00 L330.86,349.02 L332.27,349.08 L333.68,349.18 L335.09,349.31 L336.50,349.47 L337.91,349.66 L339.32,349.87 L340.73,350.09 L342.14,350.32 L343.55,350.55 L344.96,350.78 L346.37,350.99 L347.78,351.17 L349.19,351.32 L350.60,351.40Z" fill="#111"/>
<rect x="295.8" y="263.2" width="89.0" height="88.2" fill="none" stroke="#000" stroke-width="1.3"/>
<path d="M292.80 351.40H295.80M295.80 351.40V354.40M293.70 346.97H295.80M300.27 351.40V353.60M293.70 344.39H295.80M302.88 351.40V353.60M293.70 342.55H295.80M304.73 351.40V353.60M293.70 341.13H295.80M306.17 351.40V353.60M293.70 339.96H295.80M307.34 351.40V353.60M293.70 338.98H295.80M308.34 351.40V353.60M293.70 338.12H295.80M309.20 351.40V353.60M293.70 337.37H295.80M309.95 351.40V353.60M292.80 336.70H295.80M310.63 351.40V354.40M293.70 332.27H295.80M315.10 351.40V353.60M293.70 329.69H295.80M317.71 351.40V353.60M293.70 327.85H295.80M319.56 351.40V353.60M293.70 326.43H295.80M321.00 351.40V353.60M293.70 325.26H295.80M322.18 351.40V353.60M293.70 324.28H295.80M323.17 351.40V353.60M293.70 323.42H295.80M324.03 351.40V353.60M293.70 322.67H295.80M324.79 351.40V353.60M292.80 322.00H295.80M325.47 351.40V354.40M293.70 317.57H295.80M329.93 351.40V353.60M293.70 314.99H295.80M332.54 351.40V353.60M293.70 313.15H295.80M334.40 351.40V353.60M293.70 311.73H295.80M335.83 351.40V353.60M293.70 310.56H295.80M337.01 351.40V353.60M293.70 309.58H295.80M338.00 351.40V353.60M293.70 308.72H295.80M338.86 351.40V353.60M293.70 307.97H295.80M339.62 351.40V353.60M292.80 307.30H295.80M340.30 351.40V354.40M293.70 302.87H295.80M344.77 351.40V353.60M293.70 300.29H295.80M347.38 351.40V353.60M293.70 298.45H295.80M349.23 351.40V353.60M293.70 297.03H295.80M350.67 351.40V353.60M293.70 295.86H295.80M351.84 351.40V353.60M293.70 294.88H295.80M352.84 351.40V353.60M293.70 294.02H295.80M353.70 351.40V353.60M293.70 293.27H295.80M354.45 351.40V353.60M292.80 292.60H295.80M355.13 351.40V354.40M293.70 288.17H295.80M359.60 351.40V353.60M293.70 285.59H295.80M362.21 351.40V353.60M293.70 283.75H295.80M364.06 351.40V353.60M293.70 282.33H295.80M365.50 351.40V353.60M293.70 281.16H295.80M366.68 351.40V353.60M293.70 280.18H295.80M367.67 351.40V353.60M293.70 279.32H295.80M368.53 351.40V353.60M293.70 278.57H295.80M369.29 351.40V353.60M292.80 277.90H295.80M369.97 351.40V354.40M293.70 273.47H295.80M374.43 351.40V353.60M293.70 270.89H295.80M377.04 351.40V353.60M293.70 269.05H295.80M378.90 351.40V353.60M293.70 267.63H295.80M380.33 351.40V353.60M293.70 266.46H295.80M381.51 351.40V353.60M293.70 265.48H295.80M382.50 351.40V353.60M293.70 264.62H295.80M383.36 351.40V353.60M293.70 263.87H295.80M384.12 351.40V353.60M292.80 263.20H295.80M384.80 351.40V354.40" stroke="#000" stroke-width="1" fill="none"/>
<g font-size="7.1" fill="#111" stroke="#111" stroke-width="0.12"><text x="277.90" y="354.00" textLength="7.9" lengthAdjust="spacingAndGlyphs">10</text><text x="285.70" y="351.10" font-size="5.5">0</text><text x="290.10" y="365.70" textLength="7.9" lengthAdjust="spacingAndGlyphs">10</text><text x="298.00" y="363.00" font-size="5.5">0</text><text x="277.90" y="339.30" textLength="7.9" lengthAdjust="spacingAndGlyphs">10</text><text x="285.70" y="336.40" font-size="5.5">1</text><text x="304.70" y="365.70" textLength="7.9" lengthAdjust="spacingAndGlyphs">10</text><text x="312.60" y="363.00" font-size="5.5">1</text><text x="277.90" y="324.60" textLength="7.9" lengthAdjust="spacingAndGlyphs">10</text><text x="285.70" y="321.70" font-size="5.5">2</text><text x="319.30" y="365.70" textLength="7.9" lengthAdjust="spacingAndGlyphs">10</text><text x="327.20" y="363.00" font-size="5.5">2</text><text x="277.90" y="309.90" textLength="7.9" lengthAdjust="spacingAndGlyphs">10</text><text x="285.70" y="307.00" font-size="5.5">3</text><text x="333.90" y="365.70" textLength="7.9" lengthAdjust="spacingAndGlyphs">10</text><text x="341.80" y="363.00" font-size="5.5">3</text><text x="277.90" y="295.20" textLength="7.9" lengthAdjust="spacingAndGlyphs">10</text><text x="285.70" y="292.30" font-size="5.5">4</text><text x="348.50" y="365.70" textLength="7.9" lengthAdjust="spacingAndGlyphs">10</text><text x="356.40" y="363.00" font-size="5.5">4</text><text x="277.90" y="280.50" textLength="7.9" lengthAdjust="spacingAndGlyphs">10</text><text x="285.70" y="277.60" font-size="5.5">5</text><text x="363.10" y="365.70" textLength="7.9" lengthAdjust="spacingAndGlyphs">10</text><text x="371.00" y="363.00" font-size="5.5">5</text><text x="277.90" y="265.80" textLength="7.9" lengthAdjust="spacingAndGlyphs">10</text><text x="285.70" y="262.90" font-size="5.5">6</text><text x="377.70" y="365.70" textLength="7.9" lengthAdjust="spacingAndGlyphs">10</text><text x="385.60" y="363.00" font-size="5.5">6</text></g>
<g font-size="7.6" fill="#1a1a1a" stroke="#1a1a1a" stroke-width="0.1">
<text x="298.70" y="274.40" font-size="7.6" fill="#1a1a1a" stroke="#1a1a1a" stroke-width="0.15" >1.32</text>
<text x="374.80" y="274.40" font-size="7.6" text-anchor="end" fill="#1a1a1a" stroke="#1a1a1a" stroke-width="0.15" >8.32</text>
<text x="298.20" y="345.10" font-size="7.6" fill="#1a1a1a" stroke="#1a1a1a" stroke-width="0.15" >35.3</text>
<text x="374.80" y="345.10" font-size="7.6" text-anchor="end" fill="#1a1a1a" stroke="#1a1a1a" stroke-width="0.15" >55.1</text>
</g>
<path d="M455.7 337.7 453.4 337.5 450.7 336.4 447.9 334.6 442.9 330.6 439.8 327.7 437.1 324.7 436.4 322.9 436.5 321.4 437.5 319.9 439.2 318.2 450.1 310.2 455.2 305.7 459.9 300.8 461.9 299.1 463.9 297.9 466.2 297.0 468.2 296.7 469.7 296.9 470.9 297.6 472.0 298.9 472.6 300.9 472.9 303.7 472.7 307.7 471.8 315.4 471.2 318.9 470.3 321.9 467.6 327.9 465.8 330.7 463.9 333.0 461.9 334.9 459.7 336.4 457.7 337.3 455.7 337.7Z M456.2 334.0 454.2 334.0 452.2 333.4 449.2 331.8 445.4 329.3 442.6 326.9 440.6 324.7 439.8 323.2 439.8 321.7 440.9 319.9 443.2 317.7 458.2 306.4 463.7 301.2 466.4 299.7 467.7 299.5 468.7 299.7 469.7 300.4 470.2 301.4 470.7 303.2 470.8 305.2 469.0 316.7 467.9 320.9 465.7 325.4 462.7 329.6 459.7 332.3 457.9 333.3 456.2 334.0Z M455.9 331.7 454.2 331.8 452.2 331.2 448.9 329.7 445.9 327.7 443.8 325.9 442.3 324.2 441.8 322.7 442.0 321.4 443.4 319.4 445.8 317.2 452.7 312.0 459.6 307.4 464.4 302.7 466.2 301.7 467.7 301.7 468.4 302.3 468.9 303.2 469.2 305.9 467.3 317.2 466.3 320.7 464.6 324.2 461.9 327.7 458.9 330.3 457.4 331.2 455.9 331.7Z M455.7 330.2 454.2 330.3 452.2 329.8 449.4 328.6 446.7 326.9 444.9 325.4 443.7 323.9 443.3 322.7 443.6 321.4 444.3 320.2 445.7 318.7 449.9 315.1 454.2 312.1 460.4 308.4 464.9 304.2 465.9 303.7 466.8 303.7 467.6 304.7 467.7 306.9 466.8 311.7 466.1 317.4 465.0 320.9 463.2 324.2 460.9 326.9 458.2 329.2 455.7 330.2Z M455.2 329.2 453.7 329.1 451.7 328.6 449.2 327.4 447.2 326.2 445.8 324.9 444.8 323.7 444.6 322.7 444.8 321.4 445.6 320.2 447.2 318.4 451.9 314.5 455.4 312.3 461.2 309.2 464.7 306.5 465.7 306.4 466.0 306.9 466.1 307.9 465.4 315.9 464.9 318.7 464.1 320.9 462.3 323.9 460.1 326.4 457.4 328.4 455.2 329.2Z M455.7 328.2 454.2 328.4 452.4 328.0 450.2 327.1 448.2 325.9 446.7 324.7 445.9 323.7 445.6 322.7 445.9 321.4 446.8 319.9 448.5 318.2 453.4 314.3 458.4 311.6 462.4 309.8 463.7 309.6 464.2 310.0 464.4 310.7 464.7 314.4 464.4 317.7 463.5 320.4 462.1 322.9 460.1 325.4 457.7 327.4 455.7 328.2Z M455.7 327.5 454.2 327.6 452.7 327.3 450.7 326.6 448.7 325.5 447.5 324.4 446.8 323.4 446.6 322.4 446.8 321.4 447.8 319.9 449.5 318.2 454.2 314.6 459.4 312.0 461.4 311.4 462.7 311.4 463.2 311.7 463.6 312.4 463.9 314.9 463.7 317.7 462.8 320.4 461.6 322.7 459.7 324.9 457.7 326.6 455.7 327.5Z M455.2 327.0 453.9 327.0 452.4 326.6 450.7 325.9 449.1 324.9 448.2 324.1 447.6 323.2 447.5 322.4 447.7 321.4 448.5 320.2 450.1 318.4 454.4 315.1 459.2 312.8 460.9 312.4 461.9 312.5 462.8 313.4 463.2 315.7 462.9 318.2 462.1 320.7 460.7 322.9 458.9 324.9 456.9 326.3 455.2 327.0Z M455.9 326.2 454.7 326.4 453.4 326.3 451.7 325.8 450.2 325.0 449.2 324.2 448.5 323.2 448.4 322.4 448.6 321.4 449.6 319.9 450.9 318.5 454.7 315.6 458.9 313.6 460.4 313.3 461.4 313.5 462.2 314.2 462.6 315.9 462.4 317.9 461.7 320.2 460.6 322.2 459.2 323.9 457.4 325.4 455.9 326.2Z M455.7 325.7 453.4 325.8 450.7 324.6 449.4 323.2 449.2 322.4 449.4 321.4 450.2 320.2 451.6 318.7 454.9 316.1 458.7 314.4 459.9 314.2 460.9 314.3 461.7 315.2 462.0 316.4 461.8 318.2 461.2 320.2 460.2 321.9 458.7 323.7 457.2 325.0 455.7 325.7Z M455.7 325.2 454.7 325.4 453.4 325.3 451.1 324.2 450.4 323.4 450.1 322.7 450.4 321.2 452.2 318.9 455.2 316.6 458.4 315.1 459.7 315.0 460.4 315.1 461.0 315.7 461.4 316.9 461.2 318.4 460.7 320.2 459.7 321.9 458.4 323.4 456.9 324.6 455.7 325.2Z M455.4 324.8 453.4 324.7 451.7 323.8 450.9 322.7 451.2 321.2 452.9 319.0 455.4 317.1 458.2 315.9 459.2 315.7 459.9 315.9 460.5 316.4 460.8 317.7 460.6 318.9 460.0 320.4 457.9 323.2 456.7 324.2 455.4 324.8Z M455.4 324.2 453.7 324.2 452.3 323.4 451.8 322.4 452.2 320.9 453.7 319.1 455.9 317.4 457.9 316.6 459.4 316.7 459.9 317.3 460.1 318.2 459.4 320.5 457.6 322.9 455.4 324.2Z M454.7 323.7 453.7 323.4 452.9 322.7 452.8 321.7 453.4 320.4 454.7 319.1 456.4 317.9 457.9 317.4 458.9 317.6 459.3 318.2 459.3 318.9 458.4 321.2 456.7 323.0 455.7 323.5 454.7 323.7Z M455.7 322.8 454.7 322.8 454.1 322.4 453.9 321.7 454.1 320.9 454.9 319.9 455.9 319.1 457.2 318.5 457.9 318.5 458.4 319.2 458.0 320.7 456.9 322.0 455.7 322.8Z" fill="none" stroke="#484848" stroke-width="0.5"/>
<line x1="451.5" y1="263.2" x2="451.5" y2="351.4" stroke="#222" stroke-width="1.1"/>
<line x1="418.2" y1="310.5" x2="507.2" y2="310.5" stroke="#222" stroke-width="1.1"/>
<path d="M417.60,263.20 L418.70,263.20 L418.83,264.67 L418.57,266.14 L418.82,267.61 L418.85,269.08 L418.83,270.55 L418.54,272.02 L418.47,273.49 L418.47,274.96 L418.46,276.43 L418.47,277.90 L418.68,279.37 L418.82,280.84 L418.80,282.31 L418.63,283.78 L418.73,285.25 L418.81,286.72 L418.47,288.19 L418.78,289.66 L418.92,291.13 L418.89,292.60 L418.90,294.07 L418.79,295.54 L418.68,297.01 L419.03,298.48 L418.84,299.95 L419.13,301.42 L419.26,302.89 L419.03,304.36 L419.09,305.83 L419.42,307.30 L419.36,308.77 L419.14,310.24 L419.17,311.71 L419.24,313.18 L419.66,314.65 L419.65,316.12 L419.36,317.59 L419.73,319.06 L419.83,320.53 L419.68,322.00 L419.53,323.47 L419.62,324.94 L419.39,326.41 L419.31,327.88 L419.76,329.35 L419.56,330.82 L419.46,332.29 L419.61,333.76 L419.31,335.23 L419.47,336.70 L419.39,338.17 L419.03,339.64 L418.99,341.11 L418.96,342.58 L418.88,344.05 L419.00,345.52 L418.79,346.99 L418.83,348.46 L418.64,349.93 L419.00,351.40 L417.60,351.40Z" fill="#000"/>
<path d="M428.20,351.40 L428.20,351.40 L429.63,351.31 L431.07,351.15 L432.50,350.94 L433.93,350.71 L435.37,350.46 L436.80,350.21 L438.23,349.97 L439.67,349.73 L441.10,349.52 L442.53,349.34 L443.97,349.19 L445.40,349.09 L446.83,349.02 L448.27,349.00 L449.70,349.02 L451.13,349.07 L452.57,349.16 L454.00,349.27 L455.43,349.42 L456.87,349.59 L458.30,349.77 L459.73,349.98 L461.17,350.19 L462.60,350.41 L464.03,350.63 L465.47,350.83 L466.90,351.03 L468.33,351.19 L469.77,351.33 L471.20,351.40Z" fill="#111"/>
<rect x="418.2" y="263.2" width="89.0" height="88.2" fill="none" stroke="#000" stroke-width="1.3"/>
<path d="M415.20 351.40H418.20M418.20 351.40V354.40M416.10 346.97H418.20M422.67 351.40V353.60M416.10 344.39H418.20M425.28 351.40V353.60M416.10 342.55H418.20M427.13 351.40V353.60M416.10 341.13H418.20M428.57 351.40V353.60M416.10 339.96H418.20M429.74 351.40V353.60M416.10 338.98H418.20M430.74 351.40V353.60M416.10 338.12H418.20M431.60 351.40V353.60M416.10 337.37H418.20M432.35 351.40V353.60M415.20 336.70H418.20M433.03 351.40V354.40M416.10 332.27H418.20M437.50 351.40V353.60M416.10 329.69H418.20M440.11 351.40V353.60M416.10 327.85H418.20M441.96 351.40V353.60M416.10 326.43H418.20M443.40 351.40V353.60M416.10 325.26H418.20M444.58 351.40V353.60M416.10 324.28H418.20M445.57 351.40V353.60M416.10 323.42H418.20M446.43 351.40V353.60M416.10 322.67H418.20M447.19 351.40V353.60M415.20 322.00H418.20M447.87 351.40V354.40M416.10 317.57H418.20M452.33 351.40V353.60M416.10 314.99H418.20M454.94 351.40V353.60M416.10 313.15H418.20M456.80 351.40V353.60M416.10 311.73H418.20M458.23 351.40V353.60M416.10 310.56H418.20M459.41 351.40V353.60M416.10 309.58H418.20M460.40 351.40V353.60M416.10 308.72H418.20M461.26 351.40V353.60M416.10 307.97H418.20M462.02 351.40V353.60M415.20 307.30H418.20M462.70 351.40V354.40M416.10 302.87H418.20M467.17 351.40V353.60M416.10 300.29H418.20M469.78 351.40V353.60M416.10 298.45H418.20M471.63 351.40V353.60M416.10 297.03H418.20M473.07 351.40V353.60M416.10 295.86H418.20M474.24 351.40V353.60M416.10 294.88H418.20M475.24 351.40V353.60M416.10 294.02H418.20M476.10 351.40V353.60M416.10 293.27H418.20M476.85 351.40V353.60M415.20 292.60H418.20M477.53 351.40V354.40M416.10 288.17H418.20M482.00 351.40V353.60M416.10 285.59H418.20M484.61 351.40V353.60M416.10 283.75H418.20M486.46 351.40V353.60M416.10 282.33H418.20M487.90 351.40V353.60M416.10 281.16H418.20M489.08 351.40V353.60M416.10 280.18H418.20M490.07 351.40V353.60M416.10 279.32H418.20M490.93 351.40V353.60M416.10 278.57H418.20M491.69 351.40V353.60M415.20 277.90H418.20M492.37 351.40V354.40M416.10 273.47H418.20M496.83 351.40V353.60M416.10 270.89H418.20M499.44 351.40V353.60M416.10 269.05H418.20M501.30 351.40V353.60M416.10 267.63H418.20M502.73 351.40V353.60M416.10 266.46H418.20M503.91 351.40V353.60M416.10 265.48H418.20M504.90 351.40V353.60M416.10 264.62H418.20M505.76 351.40V353.60M416.10 263.87H418.20M506.52 351.40V353.60M415.20 263.20H418.20M507.20 351.40V354.40" stroke="#000" stroke-width="1" fill="none"/>
<g font-size="7.1" fill="#111" stroke="#111" stroke-width="0.12"><text x="400.30" y="354.00" textLength="7.9" lengthAdjust="spacingAndGlyphs">10</text><text x="408.10" y="351.10" font-size="5.5">0</text><text x="412.50" y="365.70" textLength="7.9" lengthAdjust="spacingAndGlyphs">10</text><text x="420.40" y="363.00" font-size="5.5">0</text><text x="400.30" y="339.30" textLength="7.9" lengthAdjust="spacingAndGlyphs">10</text><text x="408.10" y="336.40" font-size="5.5">1</text><text x="427.10" y="365.70" textLength="7.9" lengthAdjust="spacingAndGlyphs">10</text><text x="435.00" y="363.00" font-size="5.5">1</text><text x="400.30" y="324.60" textLength="7.9" lengthAdjust="spacingAndGlyphs">10</text><text x="408.10" y="321.70" font-size="5.5">2</text><text x="441.70" y="365.70" textLength="7.9" lengthAdjust="spacingAndGlyphs">10</text><text x="449.60" y="363.00" font-size="5.5">2</text><text x="400.30" y="309.90" textLength="7.9" lengthAdjust="spacingAndGlyphs">10</text><text x="408.10" y="307.00" font-size="5.5">3</text><text x="456.30" y="365.70" textLength="7.9" lengthAdjust="spacingAndGlyphs">10</text><text x="464.20" y="363.00" font-size="5.5">3</text><text x="400.30" y="295.20" textLength="7.9" lengthAdjust="spacingAndGlyphs">10</text><text x="408.10" y="292.30" font-size="5.5">4</text><text x="470.90" y="365.70" textLength="7.9" lengthAdjust="spacingAndGlyphs">10</text><text x="478.80" y="363.00" font-size="5.5">4</text><text x="400.30" y="280.50" textLength="7.9" lengthAdjust="spacingAndGlyphs">10</text><text x="408.10" y="277.60" font-size="5.5">5</text><text x="485.50" y="365.70" textLength="7.9" lengthAdjust="spacingAndGlyphs">10</text><text x="493.40" y="363.00" font-size="5.5">5</text><text x="400.30" y="265.80" textLength="7.9" lengthAdjust="spacingAndGlyphs">10</text><text x="408.10" y="262.90" font-size="5.5">6</text><text x="500.10" y="365.70" textLength="7.9" lengthAdjust="spacingAndGlyphs">10</text><text x="508.00" y="363.00" font-size="5.5">6</text></g>
<g font-size="7.6" fill="#1a1a1a" stroke="#1a1a1a" stroke-width="0.1">
<text x="421.10" y="274.40" font-size="7.6" fill="#1a1a1a" stroke="#1a1a1a" stroke-width="0.15" >1.49</text>
<text x="497.20" y="274.40" font-size="7.6" text-anchor="end" fill="#1a1a1a" stroke="#1a1a1a" stroke-width="0.15" >9.48</text>
<text x="420.60" y="345.10" font-size="7.6" fill="#1a1a1a" stroke="#1a1a1a" stroke-width="0.15" >35.9</text>
<text x="497.20" y="345.10" font-size="7.6" text-anchor="end" fill="#1a1a1a" stroke="#1a1a1a" stroke-width="0.15" >53.2</text>
</g>
<path d="M81.9 455.1 79.9 455.1 77.4 454.3 68.4 450.0 63.9 447.4 61.6 445.5 60.3 443.9 60.0 442.1 60.5 440.4 62.2 438.4 65.2 436.2 67.7 435.0 74.5 432.4 78.5 430.1 82.3 427.1 89.7 420.3 94.7 416.8 97.9 415.2 100.7 414.3 103.4 414.2 105.4 414.8 106.6 415.9 107.3 417.1 107.6 418.6 107.8 420.9 107.6 423.4 107.1 425.9 106.2 428.4 105.3 430.4 103.8 432.6 101.6 435.4 93.1 444.1 85.9 452.5 83.9 454.3 81.9 455.1Z M80.9 452.1 78.4 451.8 72.7 450.0 68.9 448.5 66.2 447.0 63.9 445.3 62.4 443.6 62.1 442.1 62.6 440.6 64.4 438.7 67.2 437.0 77.3 433.1 81.9 430.6 85.1 428.1 91.1 421.9 95.4 418.8 98.2 417.5 100.4 416.8 102.4 416.7 103.9 417.2 104.7 417.9 105.2 419.1 105.5 420.9 105.4 422.9 104.6 426.9 102.9 430.4 100.2 433.7 92.2 441.4 84.2 450.2 82.4 451.6 80.9 452.1Z M80.9 450.1 78.9 450.2 74.9 449.5 71.4 448.4 68.2 447.0 65.7 445.4 64.1 443.9 63.5 442.4 63.8 441.1 65.4 439.4 67.9 437.7 79.2 433.6 83.9 431.1 86.7 428.9 91.9 422.9 95.7 420.2 97.9 419.1 99.9 418.5 101.7 418.4 102.8 418.9 103.5 419.6 103.8 420.6 103.9 423.9 103.1 427.1 101.5 430.1 98.9 433.1 92.4 439.0 83.9 448.1 82.4 449.4 80.9 450.1Z M80.7 448.9 78.7 449.1 75.4 448.6 72.4 447.9 69.4 446.8 67.0 445.4 65.4 443.9 64.8 442.6 64.9 441.4 66.2 439.8 68.7 438.2 79.7 434.4 85.4 431.4 87.8 429.4 92.4 423.9 95.9 421.1 99.4 419.8 100.9 419.7 101.9 420.1 102.5 420.9 102.8 421.9 102.8 424.6 102.0 427.4 100.5 429.9 98.2 432.4 93.2 436.7 83.4 447.0 81.9 448.3 80.7 448.9Z M79.9 448.1 77.9 448.2 74.7 447.8 71.9 447.1 69.7 446.1 67.5 444.9 66.2 443.6 65.7 442.4 65.9 441.4 67.2 439.9 69.4 438.6 80.4 434.9 86.6 431.6 88.6 429.9 92.9 424.5 96.2 422.0 99.2 420.8 100.4 420.9 101.2 421.2 101.6 421.9 101.9 422.8 101.8 425.1 101.1 427.4 99.7 429.6 97.7 431.7 92.9 435.6 83.2 446.1 81.4 447.5 79.9 448.1Z M79.9 447.4 77.9 447.6 75.2 447.3 72.7 446.7 70.4 445.9 68.6 444.9 67.2 443.6 66.6 442.4 66.8 441.4 68.0 440.1 70.2 438.8 80.2 435.6 86.7 432.4 89.2 430.6 92.6 425.9 95.0 423.6 96.7 422.5 98.2 421.9 99.4 421.8 100.4 422.2 101.0 423.4 101.0 425.4 100.3 427.4 98.9 429.4 97.2 431.2 92.7 434.6 88.5 439.6 82.9 445.4 81.4 446.7 79.9 447.4Z M79.4 446.9 77.7 447.0 75.2 446.7 70.9 445.5 69.2 444.6 68.1 443.6 67.5 442.6 67.6 441.6 68.6 440.4 70.7 439.2 80.7 436.0 88.2 432.4 90.1 430.9 92.9 426.6 94.9 424.5 97.7 422.9 98.9 422.8 99.7 423.1 100.2 424.1 100.1 425.6 99.5 427.4 98.3 429.1 96.4 430.9 92.2 433.9 88.4 438.9 82.4 445.1 80.9 446.3 79.4 446.9Z M79.2 446.4 77.4 446.5 75.2 446.3 71.4 445.2 69.8 444.4 68.7 443.4 68.3 442.4 68.4 441.6 69.4 440.4 71.4 439.4 80.7 436.6 86.2 434.0 90.4 432.4 91.1 431.6 93.0 427.6 94.7 425.6 95.9 424.6 97.2 424.0 98.2 423.8 98.9 424.0 99.3 424.9 99.2 426.1 98.7 427.4 97.7 428.8 95.4 430.7 91.4 432.7 89.3 436.6 87.2 439.4 81.9 444.9 80.7 445.8 79.2 446.4Z M94.2 430.1 93.4 429.9 93.3 429.4 93.7 428.2 94.4 427.0 96.4 425.2 97.4 424.9 98.0 425.1 98.3 425.6 98.2 426.4 97.5 427.9 95.9 429.3 94.2 430.1Z M79.2 445.9 75.7 445.9 71.9 444.9 70.4 444.1 69.5 443.4 69.0 442.4 69.2 441.6 70.4 440.4 72.7 439.3 80.7 437.1 86.9 434.4 88.2 434.2 88.9 434.4 89.1 435.1 88.8 436.1 87.0 438.9 81.7 444.5 80.4 445.4 79.2 445.9Z M79.2 445.4 76.2 445.5 72.7 444.7 70.3 443.4 69.9 442.6 69.8 441.9 70.9 440.7 73.2 439.6 80.7 437.7 85.9 435.5 86.9 435.3 87.7 435.5 87.8 436.1 87.6 436.9 86.1 439.1 81.5 444.1 80.4 444.9 79.2 445.4Z M78.4 445.1 75.7 445.1 72.9 444.4 70.9 443.1 70.6 442.4 70.6 441.9 71.6 440.9 73.8 439.9 80.7 438.2 85.2 436.5 85.9 436.4 86.4 436.6 86.4 437.4 85.9 438.4 81.9 443.1 80.2 444.5 78.4 445.1Z M78.7 444.6 76.2 444.7 73.5 444.1 71.8 443.1 71.4 442.4 71.5 441.9 72.6 440.9 74.9 439.9 83.7 438.0 84.6 438.1 84.2 439.4 81.5 442.9 80.2 444.0 78.7 444.6Z M78.9 444.1 76.9 444.3 74.4 443.9 72.8 443.1 72.4 442.6 72.3 442.1 73.2 441.1 75.4 440.3 80.4 439.4 82.4 439.4 82.7 439.8 82.5 440.4 81.5 442.1 80.3 443.4 78.9 444.1Z M77.7 443.9 75.9 443.8 74.4 443.4 73.6 442.9 73.4 442.1 74.4 441.2 76.4 440.5 79.7 440.1 80.7 440.2 81.2 440.5 81.1 441.6 80.1 442.9 78.9 443.6 77.7 443.9Z M78.4 443.2 77.2 443.3 75.7 443.1 74.8 442.6 74.7 442.1 75.2 441.6 76.7 441.1 78.7 440.9 79.7 441.1 80.0 441.6 79.8 442.1 79.2 442.8 78.4 443.2Z" fill="none" stroke="#484848" stroke-width="0.5"/>
<line x1="84.5" y1="384.6" x2="84.5" y2="472.8" stroke="#222" stroke-width="1.1"/>
<line x1="50.9" y1="431.5" x2="139.9" y2="431.5" stroke="#222" stroke-width="1.1"/>
<path d="M50.30,384.60 L51.43,384.60 L51.51,386.07 L51.60,387.54 L51.80,389.01 L51.59,390.48 L51.87,391.95 L51.70,393.42 L51.76,394.89 L51.80,396.36 L51.59,397.83 L51.85,399.30 L51.77,400.77 L51.73,402.24 L52.18,403.71 L51.93,405.18 L52.13,406.65 L52.32,408.12 L52.29,409.59 L52.23,411.06 L52.38,412.53 L52.46,414.00 L52.63,415.47 L52.34,416.94 L52.62,418.41 L52.51,419.88 L52.57,421.35 L52.86,422.82 L52.77,424.29 L52.83,425.76 L52.96,427.23 L53.06,428.70 L52.85,430.17 L52.94,431.64 L52.90,433.11 L52.91,434.58 L52.99,436.05 L52.87,437.52 L52.89,438.99 L52.84,440.46 L53.05,441.93 L52.90,443.40 L52.96,444.87 L52.95,446.34 L52.57,447.81 L52.67,449.28 L52.81,450.75 L52.71,452.22 L52.31,453.69 L52.24,455.16 L52.35,456.63 L52.11,458.10 L52.13,459.57 L51.99,461.04 L52.23,462.51 L52.23,463.98 L52.23,465.45 L51.81,466.92 L52.04,468.39 L51.96,469.86 L51.65,471.33 L51.98,472.80 L50.30,472.80Z" fill="#000"/>
<path d="M60.40,472.80 L60.40,472.80 L61.48,472.71 L62.57,472.55 L63.65,472.35 L64.73,472.13 L65.82,471.90 L66.90,471.66 L67.98,471.44 L69.07,471.24 L70.15,471.07 L71.23,470.94 L72.32,470.85 L73.40,470.81 L74.48,470.80 L75.57,470.83 L76.65,470.88 L77.73,470.95 L78.82,471.04 L79.90,471.15 L80.98,471.28 L82.07,471.42 L83.15,471.57 L84.23,471.74 L85.32,471.90 L86.40,472.07 L87.48,472.23 L88.57,472.38 L89.65,472.53 L90.73,472.65 L91.82,472.75 L92.90,472.80Z" fill="#111"/>
<rect x="50.9" y="384.6" width="89.0" height="88.2" fill="none" stroke="#000" stroke-width="1.3"/>
<path d="M47.90 472.80H50.90M50.90 472.80V475.80M48.80 468.37H50.90M55.37 472.80V475.00M48.80 465.79H50.90M57.98 472.80V475.00M48.80 463.95H50.90M59.83 472.80V475.00M48.80 462.53H50.90M61.27 472.80V475.00M48.80 461.36H50.90M62.44 472.80V475.00M48.80 460.38H50.90M63.44 472.80V475.00M48.80 459.52H50.90M64.30 472.80V475.00M48.80 458.77H50.90M65.05 472.80V475.00M47.90 458.10H50.90M65.73 472.80V475.80M48.80 453.67H50.90M70.20 472.80V475.00M48.80 451.09H50.90M72.81 472.80V475.00M48.80 449.25H50.90M74.66 472.80V475.00M48.80 447.83H50.90M76.10 472.80V475.00M48.80 446.66H50.90M77.28 472.80V475.00M48.80 445.68H50.90M78.27 472.80V475.00M48.80 444.82H50.90M79.13 472.80V475.00M48.80 444.07H50.90M79.89 472.80V475.00M47.90 443.40H50.90M80.57 472.80V475.80M48.80 438.97H50.90M85.03 472.80V475.00M48.80 436.39H50.90M87.64 472.80V475.00M48.80 434.55H50.90M89.50 472.80V475.00M48.80 433.13H50.90M90.93 472.80V475.00M48.80 431.96H50.90M92.11 472.80V475.00M48.80 430.98H50.90M93.10 472.80V475.00M48.80 430.12H50.90M93.96 472.80V475.00M48.80 429.37H50.90M94.72 472.80V475.00M47.90 428.70H50.90M95.40 472.80V475.80M48.80 424.27H50.90M99.87 472.80V475.00M48.80 421.69H50.90M102.48 472.80V475.00M48.80 419.85H50.90M104.33 472.80V475.00M48.80 418.43H50.90M105.77 472.80V475.00M48.80 417.26H50.90M106.94 472.80V475.00M48.80 416.28H50.90M107.94 472.80V475.00M48.80 415.42H50.90M108.80 472.80V475.00M48.80 414.67H50.90M109.55 472.80V475.00M47.90 414.00H50.90M110.23 472.80V475.80M48.80 409.57H50.90M114.70 472.80V475.00M48.80 406.99H50.90M117.31 472.80V475.00M48.80 405.15H50.90M119.16 472.80V475.00M48.80 403.73H50.90M120.60 472.80V475.00M48.80 402.56H50.90M121.78 472.80V475.00M48.80 401.58H50.90M122.77 472.80V475.00M48.80 400.72H50.90M123.63 472.80V475.00M48.80 399.97H50.90M124.39 472.80V475.00M47.90 399.30H50.90M125.07 472.80V475.80M48.80 394.87H50.90M129.53 472.80V475.00M48.80 392.29H50.90M132.14 472.80V475.00M48.80 390.45H50.90M134.00 472.80V475.00M48.80 389.03H50.90M135.43 472.80V475.00M48.80 387.86H50.90M136.61 472.80V475.00M48.80 386.88H50.90M137.60 472.80V475.00M48.80 386.02H50.90M138.46 472.80V475.00M48.80 385.27H50.90M139.22 472.80V475.00M47.90 384.60H50.90M139.90 472.80V475.80" stroke="#000" stroke-width="1" fill="none"/>
<g font-size="7.1" fill="#111" stroke="#111" stroke-width="0.12"><text x="33.00" y="475.40" textLength="7.9" lengthAdjust="spacingAndGlyphs">10</text><text x="40.80" y="472.50" font-size="5.5">0</text><text x="45.20" y="487.10" textLength="7.9" lengthAdjust="spacingAndGlyphs">10</text><text x="53.10" y="484.40" font-size="5.5">0</text><text x="33.00" y="460.70" textLength="7.9" lengthAdjust="spacingAndGlyphs">10</text><text x="40.80" y="457.80" font-size="5.5">1</text><text x="59.80" y="487.10" textLength="7.9" lengthAdjust="spacingAndGlyphs">10</text><text x="67.70" y="484.40" font-size="5.5">1</text><text x="33.00" y="446.00" textLength="7.9" lengthAdjust="spacingAndGlyphs">10</text><text x="40.80" y="443.10" font-size="5.5">2</text><text x="74.40" y="487.10" textLength="7.9" lengthAdjust="spacingAndGlyphs">10</text><text x="82.30" y="484.40" font-size="5.5">2</text><text x="33.00" y="431.30" textLength="7.9" lengthAdjust="spacingAndGlyphs">10</text><text x="40.80" y="428.40" font-size="5.5">3</text><text x="89.00" y="487.10" textLength="7.9" lengthAdjust="spacingAndGlyphs">10</text><text x="96.90" y="484.40" font-size="5.5">3</text><text x="33.00" y="416.60" textLength="7.9" lengthAdjust="spacingAndGlyphs">10</text><text x="40.80" y="413.70" font-size="5.5">4</text><text x="103.60" y="487.10" textLength="7.9" lengthAdjust="spacingAndGlyphs">10</text><text x="111.50" y="484.40" font-size="5.5">4</text><text x="33.00" y="401.90" textLength="7.9" lengthAdjust="spacingAndGlyphs">10</text><text x="40.80" y="399.00" font-size="5.5">5</text><text x="118.20" y="487.10" textLength="7.9" lengthAdjust="spacingAndGlyphs">10</text><text x="126.10" y="484.40" font-size="5.5">5</text><text x="33.00" y="387.20" textLength="7.9" lengthAdjust="spacingAndGlyphs">10</text><text x="40.80" y="384.30" font-size="5.5">6</text><text x="132.80" y="487.10" textLength="7.9" lengthAdjust="spacingAndGlyphs">10</text><text x="140.70" y="484.40" font-size="5.5">6</text></g>
<g font-size="7.6" fill="#1a1a1a" stroke="#1a1a1a" stroke-width="0.1">
<text x="53.80" y="395.80" font-size="7.6" fill="#1a1a1a" stroke="#1a1a1a" stroke-width="0.15" >5.85</text>
<text x="129.90" y="395.80" font-size="7.6" text-anchor="end" fill="#1a1a1a" stroke="#1a1a1a" stroke-width="0.15" >12.5</text>
<text x="53.30" y="466.50" font-size="7.6" fill="#1a1a1a" stroke="#1a1a1a" stroke-width="0.15" >70.1</text>
<text x="129.90" y="466.50" font-size="7.6" text-anchor="end" fill="#1a1a1a" stroke="#1a1a1a" stroke-width="0.15" >11.6</text>
</g>
<path d="M203.4 454.6 200.9 454.3 197.7 452.8 193.2 450.0 189.4 447.1 187.6 445.1 186.9 443.6 186.9 442.1 187.7 440.4 189.4 438.5 191.7 436.8 199.9 433.1 203.3 430.9 206.2 428.1 213.0 419.9 216.4 416.9 219.7 414.5 223.7 412.5 227.2 411.5 230.4 411.5 232.9 412.6 234.3 413.9 235.3 415.6 235.9 417.6 236.0 419.9 235.7 421.9 235.1 424.1 233.9 426.6 232.3 429.1 228.2 434.0 218.2 443.5 206.7 453.2 204.9 454.2 203.4 454.6Z M203.2 452.1 201.2 452.0 198.2 450.8 194.9 449.1 192.3 447.1 190.5 445.4 189.6 443.9 189.4 442.4 190.2 440.9 191.6 439.4 193.4 438.0 202.5 433.6 207.7 430.1 210.3 427.6 217.1 419.4 219.4 417.1 221.7 415.5 224.7 413.9 227.7 413.0 230.2 413.1 232.2 414.0 233.2 415.1 234.0 416.6 234.4 418.1 234.5 419.9 234.2 421.6 233.6 423.4 231.6 426.9 228.9 429.8 223.4 434.9 217.4 441.4 214.2 444.5 206.4 450.6 204.7 451.7 203.2 452.1Z M203.4 450.6 201.7 450.7 199.2 449.9 196.2 448.5 193.7 446.7 192.1 445.1 191.2 443.6 191.2 442.4 192.0 440.9 193.2 439.7 194.9 438.5 203.9 434.1 208.7 431.4 211.2 429.6 213.6 427.1 218.9 419.6 220.9 417.6 222.9 416.1 225.4 414.8 227.9 414.1 229.9 414.2 231.7 415.1 232.4 415.9 233.1 417.1 233.4 419.9 232.7 422.9 230.9 425.9 228.2 428.6 221.7 433.6 216.3 440.6 212.6 444.4 206.7 449.0 204.9 450.0 203.4 450.6Z M203.2 449.6 201.4 449.7 199.2 449.0 196.7 447.8 194.7 446.4 193.2 444.9 192.5 443.6 192.5 442.4 193.1 441.1 194.4 439.9 196.2 438.7 209.7 432.1 213.4 429.9 215.5 427.6 219.8 420.4 221.5 418.4 223.4 416.8 225.7 415.6 227.9 415.0 229.7 415.0 231.2 415.8 232.3 417.6 232.6 420.1 231.9 422.6 230.2 425.2 227.4 427.8 222.0 431.1 220.4 432.4 219.0 434.1 215.3 440.1 211.4 444.3 206.2 448.3 204.4 449.2 203.2 449.6Z M203.2 448.9 201.7 448.9 199.7 448.4 197.4 447.4 195.4 446.0 194.1 444.6 193.5 443.4 193.6 442.1 194.3 441.1 195.7 439.9 198.2 438.4 213.2 431.6 215.4 430.3 216.9 428.4 218.8 423.9 220.3 421.1 221.9 419.1 224.0 417.4 225.9 416.3 227.9 415.7 229.4 415.8 230.7 416.5 231.7 418.1 231.8 420.1 231.2 422.4 229.7 424.6 228.2 426.1 226.4 427.4 220.4 430.2 218.9 431.2 217.8 432.9 215.4 438.4 212.9 441.9 210.6 444.1 207.9 446.3 204.9 448.2 203.2 448.9Z M220.9 428.4 219.9 428.3 219.4 427.9 219.3 426.4 220.1 423.4 221.8 420.4 223.8 418.4 226.2 416.9 228.2 416.4 229.9 416.9 230.9 418.1 231.2 419.9 230.7 421.9 229.5 423.9 227.9 425.4 225.9 426.7 223.4 427.8 220.9 428.4Z M203.4 448.2 201.9 448.3 200.2 448.0 198.2 447.1 196.3 445.9 195.1 444.6 194.5 443.6 194.5 442.4 195.0 441.4 196.2 440.3 198.2 439.0 206.9 435.0 212.7 433.0 214.2 432.7 215.2 432.9 215.6 434.1 215.3 436.4 214.3 438.6 212.8 440.9 210.8 443.1 208.4 445.2 205.4 447.3 203.4 448.2Z M223.2 426.9 221.4 426.8 220.9 426.5 220.7 425.9 220.9 423.6 222.1 421.1 223.9 419.1 225.9 417.7 227.9 417.1 229.4 417.5 230.2 418.4 230.5 419.9 230.2 421.4 229.4 422.9 228.2 424.3 226.7 425.4 224.9 426.3 223.2 426.9Z M203.4 447.6 201.9 447.8 200.4 447.5 198.7 446.8 196.9 445.6 195.9 444.6 195.3 443.6 195.2 442.6 195.7 441.6 196.9 440.4 198.9 439.2 206.9 435.6 211.4 434.2 212.9 434.1 213.8 434.4 214.3 435.4 214.1 437.1 213.2 439.1 211.9 441.1 210.1 443.1 207.9 445.0 205.4 446.7 203.4 447.6Z M223.2 425.9 222.2 425.5 221.7 424.4 222.1 422.6 223.1 420.9 224.5 419.4 226.2 418.2 227.7 417.8 229.0 418.1 229.6 418.9 229.8 420.1 229.5 421.4 228.7 422.8 227.7 423.9 226.2 425.0 224.7 425.6 223.2 425.9Z M203.4 447.1 202.2 447.3 200.7 447.1 198.9 446.3 197.4 445.4 196.5 444.4 196.0 443.4 196.0 442.4 196.5 441.6 197.7 440.5 199.9 439.2 206.7 436.2 210.7 435.1 211.9 435.0 212.8 435.4 213.2 436.4 213.0 437.9 212.2 439.6 211.0 441.4 207.4 444.8 205.2 446.3 203.4 447.1Z M224.9 424.7 223.7 424.8 222.9 424.2 222.9 423.1 223.4 421.6 224.6 420.1 225.9 419.1 227.4 418.6 228.4 418.8 228.9 419.4 229.0 420.1 228.4 422.0 226.9 423.6 224.9 424.7Z M203.4 446.7 202.2 446.8 200.9 446.7 198.2 445.4 197.4 444.6 196.7 443.6 196.7 442.6 197.0 441.9 198.1 440.9 199.9 439.7 205.9 437.0 209.7 435.9 210.9 435.8 211.8 436.1 212.3 436.9 212.2 438.1 211.6 439.6 210.4 441.4 207.2 444.5 204.9 446.0 203.4 446.7Z M225.2 423.6 224.4 423.6 224.0 423.1 224.0 422.4 224.5 421.4 226.2 419.8 226.9 419.5 227.7 419.6 228.1 420.6 227.7 421.9 226.4 423.1 225.2 423.6Z M202.7 446.4 200.4 446.1 198.1 444.6 197.5 443.9 197.3 443.1 197.4 442.4 198.0 441.6 200.9 439.6 205.9 437.4 209.2 436.5 210.2 436.5 211.1 436.9 211.4 437.6 211.3 438.9 210.5 440.4 209.4 441.9 205.9 444.9 204.2 445.9 202.7 446.4Z M203.2 445.9 201.2 445.9 198.9 444.7 198.0 443.4 198.0 442.6 198.4 441.9 200.8 440.1 204.9 438.3 208.4 437.2 209.4 437.2 210.2 437.4 210.6 438.1 210.5 439.1 209.1 441.6 206.2 444.3 204.4 445.4 203.2 445.9Z M202.2 445.6 200.4 445.2 199.0 444.1 198.6 442.9 199.2 441.8 201.4 440.2 204.9 438.7 207.9 437.9 209.5 438.1 209.8 438.9 209.6 439.9 207.8 442.4 204.7 444.8 203.4 445.4 202.2 445.6Z M202.9 445.1 201.2 445.0 199.7 444.1 199.3 443.1 199.8 441.9 201.7 440.5 204.7 439.2 207.2 438.5 208.2 438.5 208.7 438.8 209.0 439.4 208.8 440.1 207.5 442.1 205.2 444.1 202.9 445.1Z M203.2 444.7 201.7 444.7 200.5 444.1 199.9 443.1 200.3 442.1 201.9 440.9 204.1 439.9 206.4 439.2 207.7 439.4 208.0 439.9 208.0 440.4 206.9 442.1 204.9 443.8 203.2 444.7Z M203.4 444.1 202.2 444.3 201.1 443.9 200.7 443.1 201.0 442.1 202.4 441.1 204.0 440.4 205.9 439.9 206.9 440.1 207.0 440.9 206.3 442.1 204.9 443.4 203.4 444.1Z M203.2 443.7 202.2 443.7 201.7 443.4 201.5 442.9 201.9 442.1 203.9 441.0 204.9 440.7 205.7 440.9 205.9 441.4 205.3 442.4 204.4 443.1 203.2 443.7Z" fill="none" stroke="#484848" stroke-width="0.5"/>
<line x1="206.5" y1="384.6" x2="206.5" y2="472.8" stroke="#222" stroke-width="1.1"/>
<line x1="173.2" y1="431.5" x2="262.2" y2="431.5" stroke="#222" stroke-width="1.1"/>
<path d="M172.60,384.60 L173.84,384.60 L173.47,386.07 L173.83,387.54 L173.56,389.01 L173.61,390.48 L173.87,391.95 L173.79,393.42 L173.47,394.89 L173.61,396.36 L173.67,397.83 L173.59,399.30 L173.54,400.77 L173.63,402.24 L173.86,403.71 L173.54,405.18 L173.85,406.65 L173.83,408.12 L173.68,409.59 L173.89,411.06 L174.10,412.53 L174.12,414.00 L173.98,415.47 L174.53,416.94 L174.52,418.41 L174.71,419.88 L174.38,421.35 L174.56,422.82 L174.55,424.29 L175.02,425.76 L174.86,427.23 L174.88,428.70 L175.12,430.17 L175.43,431.64 L175.45,433.11 L175.22,434.58 L175.20,436.05 L175.61,437.52 L175.43,438.99 L175.49,440.46 L175.15,441.93 L175.10,443.40 L175.35,444.87 L175.15,446.34 L174.90,447.81 L175.24,449.28 L174.99,450.75 L174.98,452.22 L174.52,453.69 L174.80,455.16 L174.30,456.63 L174.60,458.10 L174.30,459.57 L174.16,461.04 L174.18,462.51 L174.29,463.98 L173.89,465.45 L173.76,466.92 L173.90,468.39 L173.71,469.86 L173.60,471.33 L173.59,472.80 L172.60,472.80Z" fill="#000"/>
<path d="M183.50,472.80 L183.50,472.80 L184.66,472.68 L185.81,472.48 L186.97,472.23 L188.13,471.96 L189.28,471.69 L190.44,471.43 L191.60,471.22 L192.75,471.05 L193.91,470.94 L195.07,470.90 L196.22,470.91 L197.38,470.93 L198.54,470.97 L199.69,471.03 L200.85,471.11 L202.01,471.19 L203.16,471.30 L204.32,471.41 L205.48,471.53 L206.63,471.66 L207.79,471.80 L208.95,471.94 L210.10,472.08 L211.26,472.21 L212.42,472.35 L213.57,472.47 L214.73,472.58 L215.89,472.68 L217.04,472.76 L218.20,472.80Z" fill="#111"/>
<rect x="173.2" y="384.6" width="89.0" height="88.2" fill="none" stroke="#000" stroke-width="1.3"/>
<path d="M170.20 472.80H173.20M173.20 472.80V475.80M171.10 468.37H173.20M177.67 472.80V475.00M171.10 465.79H173.20M180.28 472.80V475.00M171.10 463.95H173.20M182.13 472.80V475.00M171.10 462.53H173.20M183.57 472.80V475.00M171.10 461.36H173.20M184.74 472.80V475.00M171.10 460.38H173.20M185.74 472.80V475.00M171.10 459.52H173.20M186.60 472.80V475.00M171.10 458.77H173.20M187.35 472.80V475.00M170.20 458.10H173.20M188.03 472.80V475.80M171.10 453.67H173.20M192.50 472.80V475.00M171.10 451.09H173.20M195.11 472.80V475.00M171.10 449.25H173.20M196.96 472.80V475.00M171.10 447.83H173.20M198.40 472.80V475.00M171.10 446.66H173.20M199.58 472.80V475.00M171.10 445.68H173.20M200.57 472.80V475.00M171.10 444.82H173.20M201.43 472.80V475.00M171.10 444.07H173.20M202.19 472.80V475.00M170.20 443.40H173.20M202.87 472.80V475.80M171.10 438.97H173.20M207.33 472.80V475.00M171.10 436.39H173.20M209.94 472.80V475.00M171.10 434.55H173.20M211.80 472.80V475.00M171.10 433.13H173.20M213.23 472.80V475.00M171.10 431.96H173.20M214.41 472.80V475.00M171.10 430.98H173.20M215.40 472.80V475.00M171.10 430.12H173.20M216.26 472.80V475.00M171.10 429.37H173.20M217.02 472.80V475.00M170.20 428.70H173.20M217.70 472.80V475.80M171.10 424.27H173.20M222.17 472.80V475.00M171.10 421.69H173.20M224.78 472.80V475.00M171.10 419.85H173.20M226.63 472.80V475.00M171.10 418.43H173.20M228.07 472.80V475.00M171.10 417.26H173.20M229.24 472.80V475.00M171.10 416.28H173.20M230.24 472.80V475.00M171.10 415.42H173.20M231.10 472.80V475.00M171.10 414.67H173.20M231.85 472.80V475.00M170.20 414.00H173.20M232.53 472.80V475.80M171.10 409.57H173.20M237.00 472.80V475.00M171.10 406.99H173.20M239.61 472.80V475.00M171.10 405.15H173.20M241.46 472.80V475.00M171.10 403.73H173.20M242.90 472.80V475.00M171.10 402.56H173.20M244.08 472.80V475.00M171.10 401.58H173.20M245.07 472.80V475.00M171.10 400.72H173.20M245.93 472.80V475.00M171.10 399.97H173.20M246.69 472.80V475.00M170.20 399.30H173.20M247.37 472.80V475.80M171.10 394.87H173.20M251.83 472.80V475.00M171.10 392.29H173.20M254.44 472.80V475.00M171.10 390.45H173.20M256.30 472.80V475.00M171.10 389.03H173.20M257.73 472.80V475.00M171.10 387.86H173.20M258.91 472.80V475.00M171.10 386.88H173.20M259.90 472.80V475.00M171.10 386.02H173.20M260.76 472.80V475.00M171.10 385.27H173.20M261.52 472.80V475.00M170.20 384.60H173.20M262.20 472.80V475.80" stroke="#000" stroke-width="1" fill="none"/>
<g font-size="7.1" fill="#111" stroke="#111" stroke-width="0.12"><text x="155.30" y="475.40" textLength="7.9" lengthAdjust="spacingAndGlyphs">10</text><text x="163.10" y="472.50" font-size="5.5">0</text><text x="167.50" y="487.10" textLength="7.9" lengthAdjust="spacingAndGlyphs">10</text><text x="175.40" y="484.40" font-size="5.5">0</text><text x="155.30" y="460.70" textLength="7.9" lengthAdjust="spacingAndGlyphs">10</text><text x="163.10" y="457.80" font-size="5.5">1</text><text x="182.10" y="487.10" textLength="7.9" lengthAdjust="spacingAndGlyphs">10</text><text x="190.00" y="484.40" font-size="5.5">1</text><text x="155.30" y="446.00" textLength="7.9" lengthAdjust="spacingAndGlyphs">10</text><text x="163.10" y="443.10" font-size="5.5">2</text><text x="196.70" y="487.10" textLength="7.9" lengthAdjust="spacingAndGlyphs">10</text><text x="204.60" y="484.40" font-size="5.5">2</text><text x="155.30" y="431.30" textLength="7.9" lengthAdjust="spacingAndGlyphs">10</text><text x="163.10" y="428.40" font-size="5.5">3</text><text x="211.30" y="487.10" textLength="7.9" lengthAdjust="spacingAndGlyphs">10</text><text x="219.20" y="484.40" font-size="5.5">3</text><text x="155.30" y="416.60" textLength="7.9" lengthAdjust="spacingAndGlyphs">10</text><text x="163.10" y="413.70" font-size="5.5">4</text><text x="225.90" y="487.10" textLength="7.9" lengthAdjust="spacingAndGlyphs">10</text><text x="233.80" y="484.40" font-size="5.5">4</text><text x="155.30" y="401.90" textLength="7.9" lengthAdjust="spacingAndGlyphs">10</text><text x="163.10" y="399.00" font-size="5.5">5</text><text x="240.50" y="487.10" textLength="7.9" lengthAdjust="spacingAndGlyphs">10</text><text x="248.40" y="484.40" font-size="5.5">5</text><text x="155.30" y="387.20" textLength="7.9" lengthAdjust="spacingAndGlyphs">10</text><text x="163.10" y="384.30" font-size="5.5">6</text><text x="255.10" y="487.10" textLength="7.9" lengthAdjust="spacingAndGlyphs">10</text><text x="263.00" y="484.40" font-size="5.5">6</text></g>
<g font-size="7.6" fill="#1a1a1a" stroke="#1a1a1a" stroke-width="0.1">
<text x="176.10" y="395.80" font-size="7.6" fill="#1a1a1a" stroke="#1a1a1a" stroke-width="0.15" >8.60</text>
<text x="252.20" y="395.80" font-size="7.6" text-anchor="end" fill="#1a1a1a" stroke="#1a1a1a" stroke-width="0.15" >21.0</text>
<text x="175.60" y="466.50" font-size="7.6" fill="#1a1a1a" stroke="#1a1a1a" stroke-width="0.15" >53.3</text>
<text x="252.20" y="466.50" font-size="7.6" text-anchor="end" fill="#1a1a1a" stroke="#1a1a1a" stroke-width="0.15" >17.0</text>
</g>
<path d="M334.1 450.6 332.3 450.5 330.6 450.1 328.6 449.3 326.6 448.1 324.6 446.5 322.8 444.6 321.7 443.1 321.1 441.6 321.0 440.1 321.4 438.4 324.8 432.9 326.2 429.6 326.5 426.4 326.0 421.1 326.5 419.1 327.9 417.4 330.6 415.6 335.6 413.2 340.6 411.5 344.6 410.6 348.1 410.3 351.1 410.6 353.6 411.5 355.1 412.4 356.5 413.9 357.4 415.4 358.0 417.1 358.2 419.1 358.1 421.4 357.6 423.4 356.7 425.6 347.6 440.1 344.4 444.4 341.6 447.1 339.1 448.9 336.6 450.1 334.1 450.6Z M334.8 448.4 333.3 448.5 331.6 448.2 328.3 446.7 326.6 445.4 325.2 443.9 324.2 442.4 323.8 441.1 323.8 439.9 324.2 438.6 327.8 432.6 329.0 429.9 329.3 426.9 329.0 421.9 329.4 420.4 330.9 418.6 334.1 416.5 338.1 414.3 341.6 412.9 344.8 412.1 347.8 411.8 350.6 412.0 352.8 412.8 354.3 413.8 355.3 414.8 356.1 416.1 356.6 417.6 356.8 419.4 356.6 421.1 355.4 424.6 353.6 427.4 349.3 432.9 345.6 439.6 343.3 442.9 341.3 444.9 339.1 446.6 337.1 447.7 334.8 448.4Z M334.3 447.1 331.6 446.8 328.8 445.4 326.5 443.1 325.8 441.9 325.5 440.9 325.6 439.6 326.1 438.4 330.0 431.9 331.0 429.6 331.3 427.1 331.1 422.6 331.6 420.9 333.2 419.1 336.3 416.7 339.3 415.0 342.3 413.7 345.3 413.0 348.1 412.8 350.6 413.0 352.6 413.8 353.7 414.6 354.6 415.6 355.6 418.1 355.6 421.1 354.5 424.1 352.6 426.9 347.7 432.4 344.6 438.9 342.2 442.4 340.3 444.2 338.3 445.7 336.3 446.7 334.3 447.1Z M334.6 446.1 332.1 445.9 329.6 444.7 327.5 442.6 326.8 440.6 326.9 439.4 327.4 438.1 331.5 431.6 332.5 429.6 332.8 427.6 332.6 423.1 333.1 421.4 334.5 419.6 337.1 417.4 339.8 415.7 342.6 414.5 345.3 413.7 347.8 413.5 350.1 413.7 352.1 414.4 353.9 416.1 354.9 418.4 354.8 421.1 353.7 423.9 351.7 426.6 346.6 431.9 345.7 433.4 343.8 438.4 341.7 441.6 340.0 443.4 338.1 444.8 336.3 445.7 334.6 446.1Z M334.3 445.4 332.1 445.1 330.1 444.0 328.3 442.1 327.8 440.4 328.0 439.1 328.6 437.6 332.7 431.6 333.6 429.9 334.0 427.9 333.7 423.4 334.4 421.4 335.8 419.6 338.1 417.6 340.3 416.2 342.8 415.1 345.3 414.4 347.8 414.1 350.1 414.4 351.8 415.0 353.5 416.6 354.2 418.6 354.1 421.1 353.1 423.6 351.1 426.4 346.6 430.4 345.5 431.6 344.7 433.1 343.1 438.1 341.0 441.4 339.3 443.0 337.6 444.2 335.8 445.0 334.3 445.4Z M334.8 444.6 332.8 444.6 330.7 443.6 329.1 441.9 328.6 440.1 328.8 438.9 329.7 437.1 333.6 431.6 334.6 429.9 334.9 428.1 334.6 423.6 335.3 421.6 336.6 419.9 338.5 418.1 340.6 416.7 342.8 415.7 345.3 414.9 347.6 414.7 349.6 414.8 351.3 415.4 352.8 416.7 353.6 418.6 353.6 420.9 352.6 423.4 350.3 426.3 345.7 430.1 344.5 431.4 343.8 432.9 342.5 437.6 340.6 440.9 337.8 443.3 336.3 444.2 334.8 444.6Z M335.3 443.9 333.3 444.0 331.3 443.2 329.7 441.6 329.3 439.9 329.6 438.6 330.5 436.9 334.7 431.4 335.5 429.9 335.8 428.1 335.4 423.9 336.0 421.9 337.3 420.1 339.1 418.4 341.0 417.1 343.1 416.1 345.3 415.4 347.6 415.1 349.6 415.3 351.1 415.9 352.4 417.1 353.1 418.9 353.1 420.9 352.2 423.1 349.8 426.1 343.8 430.9 343.0 432.4 342.0 437.1 340.8 439.6 338.3 442.3 336.8 443.3 335.3 443.9Z M335.1 443.4 333.3 443.5 331.6 442.7 330.3 441.4 330.0 439.6 330.4 438.1 331.5 436.4 335.4 431.6 336.3 430.1 336.6 428.4 336.1 424.1 336.7 421.9 338.0 420.1 339.6 418.7 341.3 417.4 343.3 416.5 345.6 415.8 347.6 415.6 349.3 415.7 350.8 416.3 352.1 417.5 352.6 419.1 352.5 421.1 351.7 423.1 350.6 424.6 349.1 426.1 344.0 429.6 342.9 430.6 342.2 432.1 341.4 436.9 340.4 439.1 339.3 440.6 338.0 441.9 336.6 442.8 335.1 443.4Z M335.1 442.9 333.3 442.9 331.8 442.2 330.9 441.1 330.6 439.6 331.0 438.1 332.0 436.4 336.4 431.4 337.2 430.1 337.3 428.6 336.7 424.4 336.9 423.1 337.4 421.9 338.5 420.4 340.1 418.9 341.8 417.7 343.6 416.8 345.6 416.2 347.6 416.0 349.3 416.2 350.6 416.7 351.7 417.9 352.2 419.4 352.1 421.1 351.3 422.9 350.3 424.4 348.6 426.0 343.2 429.4 341.8 430.6 341.2 432.1 341.0 436.4 340.1 438.6 339.1 440.1 337.8 441.4 336.6 442.2 335.1 442.9Z M334.8 442.4 333.3 442.3 332.1 441.7 331.3 440.6 331.1 439.4 331.6 437.9 333.0 435.9 337.7 431.1 338.3 430.4 338.3 429.4 337.2 424.6 337.5 423.1 338.0 421.9 339.1 420.4 340.4 419.1 342.1 418.0 343.8 417.1 345.8 416.6 347.6 416.4 349.1 416.5 350.3 417.1 351.3 418.1 351.8 419.6 351.6 421.1 350.9 422.9 349.6 424.5 347.8 426.1 341.9 429.4 340.6 430.4 340.1 431.4 340.5 435.6 339.8 438.1 338.9 439.6 337.7 440.9 336.3 441.8 334.8 442.4Z M341.1 428.9 340.1 429.0 339.3 428.7 338.6 427.6 337.9 425.9 337.8 424.6 337.9 423.4 339.3 420.9 341.8 418.6 344.8 417.2 348.1 416.8 349.3 417.0 350.3 417.6 351.2 418.9 351.4 420.4 350.9 422.1 349.8 423.7 348.3 425.2 346.3 426.6 341.1 428.9Z M334.8 441.9 333.3 441.8 332.3 441.1 331.7 439.9 331.9 438.4 333.1 436.4 335.1 434.2 337.1 432.7 338.6 432.3 339.3 433.0 339.7 434.4 339.8 436.1 339.4 437.6 338.6 439.1 337.5 440.4 336.2 441.4 334.8 441.9Z M340.8 428.1 340.1 428.0 339.2 427.4 338.6 426.1 338.3 424.9 338.8 422.6 340.3 420.4 342.8 418.4 345.6 417.3 348.3 417.2 349.3 417.5 350.2 418.1 350.9 419.4 350.9 420.9 350.3 422.4 349.1 424.0 347.3 425.5 345.3 426.7 342.8 427.7 340.8 428.1Z M334.6 441.4 333.3 441.2 332.5 440.4 332.2 439.4 332.6 438.1 333.8 436.2 335.6 434.5 337.1 433.6 338.3 433.6 338.8 434.2 339.1 435.4 339.1 436.8 338.6 438.1 337.8 439.4 336.8 440.3 335.6 441.1 334.6 441.4Z M342.1 427.4 340.8 427.4 340.1 427.1 339.3 426.4 338.9 425.4 338.8 424.4 339.1 423.1 340.4 420.9 342.6 419.0 345.3 417.8 348.1 417.5 349.8 418.3 350.5 419.4 350.5 420.6 350.2 421.9 349.2 423.4 347.8 424.7 346.1 425.9 344.1 426.8 342.1 427.4Z M335.3 440.6 334.3 440.8 333.3 440.4 332.9 439.6 333.0 438.4 333.8 436.9 335.1 435.6 336.6 434.6 337.6 434.5 338.1 434.9 338.4 435.6 338.2 437.6 337.1 439.4 335.3 440.6Z M341.8 426.9 340.8 426.8 340.1 426.4 339.4 424.9 339.7 422.9 341.2 420.6 343.1 419.1 345.6 418.0 347.8 417.9 348.8 418.1 349.5 418.6 350.1 419.6 350.1 420.9 349.6 422.3 348.6 423.6 347.3 424.7 345.6 425.7 343.6 426.5 341.8 426.9Z M335.3 439.9 334.6 440.0 333.8 439.7 333.5 439.1 333.7 438.1 335.3 436.1 336.3 435.5 337.1 435.5 337.6 436.4 337.5 437.6 336.6 439.1 335.3 439.9Z M343.6 426.1 341.3 426.3 340.6 425.9 340.1 425.4 339.9 423.6 341.0 421.4 342.8 419.7 345.1 418.5 347.3 418.2 349.1 418.8 349.6 419.6 349.7 420.6 349.5 421.6 348.8 422.8 346.6 424.8 343.6 426.1Z M335.3 438.9 334.8 438.9 334.6 438.6 334.8 437.9 335.6 437.0 336.3 436.8 336.5 437.4 336.4 437.9 335.3 438.9Z M343.8 425.6 341.8 425.8 340.7 425.1 340.4 424.4 340.5 423.4 341.5 421.4 343.2 419.9 345.3 418.8 347.3 418.6 348.7 419.1 349.2 419.9 349.3 420.6 349.1 421.6 348.5 422.6 346.6 424.4 343.8 425.6Z M342.8 425.4 341.6 425.0 341.2 424.6 341.0 423.9 341.4 422.4 342.5 420.9 344.1 419.7 345.8 419.1 347.6 419.0 348.6 419.6 348.9 420.4 348.8 421.1 348.4 422.1 347.6 423.1 345.3 424.7 342.8 425.4Z M344.3 424.7 342.8 424.8 341.9 424.4 341.6 423.4 342.2 421.9 343.4 420.6 345.1 419.7 346.6 419.4 347.8 419.6 348.2 420.1 348.4 420.9 347.8 422.3 346.3 423.7 344.3 424.7Z M344.6 424.1 343.3 424.3 342.5 423.9 342.3 422.9 342.8 421.9 343.8 420.9 345.1 420.1 346.3 419.8 347.4 420.1 347.8 420.6 347.8 421.1 347.3 422.3 346.1 423.4 344.6 424.1Z M344.6 423.6 343.8 423.7 343.2 423.4 343.1 422.6 343.5 421.9 345.1 420.6 346.1 420.4 346.9 420.6 347.2 421.4 346.8 422.1 345.8 423.1 344.6 423.6Z" fill="none" stroke="#404040" stroke-width="0.5"/>
<line x1="329.5" y1="384.6" x2="329.5" y2="472.8" stroke="#222" stroke-width="1.1"/>
<line x1="295.8" y1="431.5" x2="384.8" y2="431.5" stroke="#222" stroke-width="1.1"/>
<path d="M295.20,384.60 L296.00,384.60 L296.06,386.07 L296.12,387.54 L296.12,389.01 L296.35,390.48 L296.12,391.95 L296.24,393.42 L296.09,394.89 L296.20,396.36 L296.06,397.83 L296.20,399.30 L296.13,400.77 L296.53,402.24 L296.50,403.71 L296.39,405.18 L296.62,406.65 L296.95,408.12 L296.64,409.59 L297.12,411.06 L297.06,412.53 L297.24,414.00 L297.56,415.47 L297.49,416.94 L297.70,418.41 L297.94,419.88 L298.22,421.35 L298.03,422.82 L298.38,424.29 L298.41,425.76 L298.43,427.23 L298.35,428.70 L298.32,430.17 L298.15,431.64 L298.13,433.11 L298.02,434.58 L298.26,436.05 L297.89,437.52 L297.71,438.99 L297.52,440.46 L297.75,441.93 L297.61,443.40 L297.36,444.87 L297.02,446.34 L296.86,447.81 L296.76,449.28 L296.73,450.75 L296.48,452.22 L296.54,453.69 L296.37,455.16 L296.66,456.63 L296.62,458.10 L296.36,459.57 L296.18,461.04 L296.51,462.51 L296.16,463.98 L296.17,465.45 L296.00,466.92 L296.16,468.39 L296.20,469.86 L296.21,471.33 L296.06,472.80 L295.20,472.80Z" fill="#000"/>
<path d="M315.00,472.80 L315.00,472.80 L316.00,472.70 L317.00,472.52 L318.00,472.30 L319.00,472.04 L320.00,471.77 L321.00,471.50 L322.00,471.23 L323.00,470.97 L324.00,470.75 L325.00,470.55 L326.00,470.39 L327.00,470.28 L328.00,470.22 L329.00,470.20 L330.00,470.23 L331.00,470.29 L332.00,470.38 L333.00,470.51 L334.00,470.67 L335.00,470.85 L336.00,471.06 L337.00,471.28 L338.00,471.51 L339.00,471.74 L340.00,471.97 L341.00,472.20 L342.00,472.40 L343.00,472.58 L344.00,472.72 L345.00,472.80Z" fill="#111"/>
<rect x="295.8" y="384.6" width="89.0" height="88.2" fill="none" stroke="#000" stroke-width="1.3"/>
<path d="M292.80 472.80H295.80M295.80 472.80V475.80M293.70 468.37H295.80M300.27 472.80V475.00M293.70 465.79H295.80M302.88 472.80V475.00M293.70 463.95H295.80M304.73 472.80V475.00M293.70 462.53H295.80M306.17 472.80V475.00M293.70 461.36H295.80M307.34 472.80V475.00M293.70 460.38H295.80M308.34 472.80V475.00M293.70 459.52H295.80M309.20 472.80V475.00M293.70 458.77H295.80M309.95 472.80V475.00M292.80 458.10H295.80M310.63 472.80V475.80M293.70 453.67H295.80M315.10 472.80V475.00M293.70 451.09H295.80M317.71 472.80V475.00M293.70 449.25H295.80M319.56 472.80V475.00M293.70 447.83H295.80M321.00 472.80V475.00M293.70 446.66H295.80M322.18 472.80V475.00M293.70 445.68H295.80M323.17 472.80V475.00M293.70 444.82H295.80M324.03 472.80V475.00M293.70 444.07H295.80M324.79 472.80V475.00M292.80 443.40H295.80M325.47 472.80V475.80M293.70 438.97H295.80M329.93 472.80V475.00M293.70 436.39H295.80M332.54 472.80V475.00M293.70 434.55H295.80M334.40 472.80V475.00M293.70 433.13H295.80M335.83 472.80V475.00M293.70 431.96H295.80M337.01 472.80V475.00M293.70 430.98H295.80M338.00 472.80V475.00M293.70 430.12H295.80M338.86 472.80V475.00M293.70 429.37H295.80M339.62 472.80V475.00M292.80 428.70H295.80M340.30 472.80V475.80M293.70 424.27H295.80M344.77 472.80V475.00M293.70 421.69H295.80M347.38 472.80V475.00M293.70 419.85H295.80M349.23 472.80V475.00M293.70 418.43H295.80M350.67 472.80V475.00M293.70 417.26H295.80M351.84 472.80V475.00M293.70 416.28H295.80M352.84 472.80V475.00M293.70 415.42H295.80M353.70 472.80V475.00M293.70 414.67H295.80M354.45 472.80V475.00M292.80 414.00H295.80M355.13 472.80V475.80M293.70 409.57H295.80M359.60 472.80V475.00M293.70 406.99H295.80M362.21 472.80V475.00M293.70 405.15H295.80M364.06 472.80V475.00M293.70 403.73H295.80M365.50 472.80V475.00M293.70 402.56H295.80M366.68 472.80V475.00M293.70 401.58H295.80M367.67 472.80V475.00M293.70 400.72H295.80M368.53 472.80V475.00M293.70 399.97H295.80M369.29 472.80V475.00M292.80 399.30H295.80M369.97 472.80V475.80M293.70 394.87H295.80M374.43 472.80V475.00M293.70 392.29H295.80M377.04 472.80V475.00M293.70 390.45H295.80M378.90 472.80V475.00M293.70 389.03H295.80M380.33 472.80V475.00M293.70 387.86H295.80M381.51 472.80V475.00M293.70 386.88H295.80M382.50 472.80V475.00M293.70 386.02H295.80M383.36 472.80V475.00M293.70 385.27H295.80M384.12 472.80V475.00M292.80 384.60H295.80M384.80 472.80V475.80" stroke="#000" stroke-width="1" fill="none"/>
<g font-size="7.1" fill="#111" stroke="#111" stroke-width="0.12"><text x="277.90" y="475.40" textLength="7.9" lengthAdjust="spacingAndGlyphs">10</text><text x="285.70" y="472.50" font-size="5.5">0</text><text x="290.10" y="487.10" textLength="7.9" lengthAdjust="spacingAndGlyphs">10</text><text x="298.00" y="484.40" font-size="5.5">0</text><text x="277.90" y="460.70" textLength="7.9" lengthAdjust="spacingAndGlyphs">10</text><text x="285.70" y="457.80" font-size="5.5">1</text><text x="304.70" y="487.10" textLength="7.9" lengthAdjust="spacingAndGlyphs">10</text><text x="312.60" y="484.40" font-size="5.5">1</text><text x="277.90" y="446.00" textLength="7.9" lengthAdjust="spacingAndGlyphs">10</text><text x="285.70" y="443.10" font-size="5.5">2</text><text x="319.30" y="487.10" textLength="7.9" lengthAdjust="spacingAndGlyphs">10</text><text x="327.20" y="484.40" font-size="5.5">2</text><text x="277.90" y="431.30" textLength="7.9" lengthAdjust="spacingAndGlyphs">10</text><text x="285.70" y="428.40" font-size="5.5">3</text><text x="333.90" y="487.10" textLength="7.9" lengthAdjust="spacingAndGlyphs">10</text><text x="341.80" y="484.40" font-size="5.5">3</text><text x="277.90" y="416.60" textLength="7.9" lengthAdjust="spacingAndGlyphs">10</text><text x="285.70" y="413.70" font-size="5.5">4</text><text x="348.50" y="487.10" textLength="7.9" lengthAdjust="spacingAndGlyphs">10</text><text x="356.40" y="484.40" font-size="5.5">4</text><text x="277.90" y="401.90" textLength="7.9" lengthAdjust="spacingAndGlyphs">10</text><text x="285.70" y="399.00" font-size="5.5">5</text><text x="363.10" y="487.10" textLength="7.9" lengthAdjust="spacingAndGlyphs">10</text><text x="371.00" y="484.40" font-size="5.5">5</text><text x="277.90" y="387.20" textLength="7.9" lengthAdjust="spacingAndGlyphs">10</text><text x="285.70" y="384.30" font-size="5.5">6</text><text x="377.70" y="487.10" textLength="7.9" lengthAdjust="spacingAndGlyphs">10</text><text x="385.60" y="484.40" font-size="5.5">6</text></g>
<g font-size="7.6" fill="#1a1a1a" stroke="#1a1a1a" stroke-width="0.1">
<text x="298.70" y="395.80" font-size="7.6" fill="#1a1a1a" stroke="#1a1a1a" stroke-width="0.15" >12.9</text>
<text x="374.80" y="395.80" font-size="7.6" text-anchor="end" fill="#1a1a1a" stroke="#1a1a1a" stroke-width="0.15" >42.0</text>
<text x="298.20" y="466.50" font-size="7.6" fill="#1a1a1a" stroke="#1a1a1a" stroke-width="0.15" >15.2</text>
<text x="374.80" y="466.50" font-size="7.6" text-anchor="end" fill="#1a1a1a" stroke="#1a1a1a" stroke-width="0.15" >29.9</text>
</g>
<path d="M457.4 449.4 453.9 449.0 450.9 447.6 448.2 445.1 446.5 442.1 446.0 439.9 446.0 437.1 446.5 434.9 447.8 430.6 448.1 428.6 447.9 426.6 447.0 422.4 447.1 420.1 448.2 418.4 450.4 416.5 453.4 414.8 456.9 413.5 460.7 412.5 464.4 412.0 467.2 412.1 469.9 412.7 471.9 413.6 473.5 414.9 474.7 416.4 475.6 418.4 476.1 420.6 476.3 423.1 475.9 426.1 475.1 428.9 471.0 439.1 469.5 441.9 467.8 444.1 465.7 446.1 462.9 447.8 460.2 448.9 457.4 449.4Z M458.7 447.1 455.7 447.1 452.9 446.0 450.5 443.9 449.1 441.4 448.7 439.4 448.7 437.1 450.3 431.6 450.6 429.4 450.4 427.1 449.5 422.6 449.6 420.9 450.5 419.4 452.4 417.7 454.9 416.2 457.7 415.0 460.7 414.2 463.9 413.7 466.4 413.7 468.9 414.2 470.7 415.0 471.9 415.9 473.0 417.1 473.8 418.6 474.3 420.4 474.5 422.4 474.4 424.4 473.9 426.6 471.1 432.9 469.0 438.6 467.0 442.1 465.4 443.9 463.4 445.4 461.2 446.5 458.7 447.1Z M459.2 445.6 456.4 445.6 454.2 444.9 452.1 443.1 450.8 440.9 450.4 439.1 450.5 437.4 451.9 432.1 452.2 430.1 452.1 427.9 451.1 423.1 451.2 421.4 451.9 420.0 453.4 418.5 455.7 417.1 458.2 416.0 460.9 415.2 463.7 414.8 466.2 414.8 468.4 415.3 469.9 415.9 471.2 416.8 472.1 417.9 472.8 419.1 473.4 422.4 472.8 425.9 469.5 432.9 467.5 438.6 466.1 441.1 464.7 442.8 463.2 444.0 461.2 445.0 459.2 445.6Z M459.7 444.4 457.2 444.5 454.9 443.9 453.1 442.4 451.9 440.4 451.7 438.9 451.7 437.4 453.2 432.4 453.5 430.4 453.3 428.4 452.2 423.6 452.4 421.6 453.1 420.4 454.4 419.0 456.4 417.7 458.7 416.6 461.2 415.9 463.7 415.6 465.9 415.6 467.9 416.0 469.2 416.5 470.4 417.3 471.9 419.4 472.5 422.4 472.1 425.4 471.1 427.6 468.4 432.4 466.6 437.9 465.3 440.4 464.2 441.8 462.9 442.9 461.4 443.7 459.7 444.4Z M459.4 443.4 457.2 443.5 455.4 443.0 453.8 441.6 452.9 439.9 452.7 438.6 452.8 437.1 454.2 432.6 454.5 430.6 454.3 428.6 453.2 423.9 453.3 421.9 454.0 420.6 455.2 419.4 456.9 418.2 459.2 417.2 461.4 416.5 463.7 416.2 465.7 416.2 467.7 416.6 469.9 417.8 471.2 419.6 471.8 422.4 471.4 425.1 470.3 427.6 467.4 432.4 465.7 437.6 464.5 439.9 462.4 442.1 460.9 442.9 459.4 443.4Z M458.7 442.6 456.9 442.5 455.4 441.9 454.4 440.9 453.7 439.4 453.7 437.1 455.1 432.9 455.4 430.9 455.2 428.9 453.9 424.1 454.0 422.1 454.7 420.9 456.0 419.6 457.7 418.5 459.7 417.6 461.7 417.1 463.9 416.8 465.9 416.8 467.7 417.2 469.6 418.4 470.8 420.1 471.2 422.6 470.6 425.4 469.5 427.6 466.4 432.4 464.8 437.4 463.7 439.5 462.7 440.7 461.4 441.7 460.2 442.3 458.7 442.6Z M459.2 441.7 457.7 441.8 456.2 441.3 455.1 440.4 454.5 439.1 454.5 436.9 455.9 432.9 456.2 431.1 455.9 429.1 454.6 424.4 454.7 422.4 455.3 421.1 456.4 420.0 457.9 419.0 459.9 418.1 463.9 417.3 465.7 417.3 467.4 417.7 469.2 418.7 470.2 420.4 470.6 422.6 470.1 425.1 469.0 427.4 465.5 432.4 464.0 437.1 463.1 438.9 461.4 440.7 459.2 441.7Z M458.7 440.9 457.4 440.8 456.4 440.5 455.6 439.6 455.2 438.6 455.3 436.9 456.7 432.9 456.9 431.1 456.7 429.4 455.2 424.6 455.1 423.4 455.3 422.4 455.9 421.3 457.2 420.1 460.4 418.4 464.2 417.7 465.9 417.8 467.4 418.2 468.9 419.2 469.9 420.9 470.1 422.9 469.6 425.1 468.4 427.4 464.8 432.1 463.2 436.9 462.3 438.6 460.7 440.1 458.7 440.9Z M458.9 439.9 457.9 440.0 456.9 439.7 456.3 439.1 456.0 438.1 456.1 436.6 457.3 433.1 457.6 431.4 457.4 429.6 455.8 424.9 455.6 423.6 455.8 422.6 456.4 421.6 457.4 420.5 460.4 418.9 463.9 418.1 466.9 418.5 468.4 419.4 469.4 420.9 469.6 422.9 469.2 424.9 467.8 427.4 464.0 432.1 462.4 436.6 461.7 438.0 460.4 439.2 458.9 439.9Z M458.9 438.9 458.2 438.9 457.4 438.7 456.9 437.6 457.0 436.4 458.1 433.1 458.4 431.6 458.1 429.9 456.3 424.9 456.2 423.6 456.4 422.6 457.0 421.6 458.1 420.6 460.9 419.1 464.2 418.5 466.9 419.0 468.2 419.9 469.0 421.4 469.2 423.1 468.6 425.1 467.2 427.5 463.1 432.1 460.9 437.4 460.0 438.4 458.9 438.9Z M459.4 437.1 458.7 437.3 458.2 436.9 458.2 436.0 459.1 433.6 459.3 432.1 458.9 430.4 456.8 425.4 456.6 424.1 456.8 422.9 458.2 421.1 460.9 419.5 463.9 418.9 466.7 419.3 467.9 420.1 468.6 421.4 468.7 423.1 468.3 424.9 466.5 427.6 461.8 432.4 461.1 433.6 460.3 436.1 459.4 437.1Z M461.4 431.2 460.7 431.3 460.2 431.0 458.2 427.7 457.2 424.9 457.1 423.9 457.4 422.9 458.9 421.1 461.2 419.9 463.9 419.3 466.4 419.7 467.5 420.4 468.2 421.6 468.3 423.1 467.9 424.9 467.0 426.4 465.7 427.9 463.2 430.0 461.4 431.2Z M461.7 430.1 460.9 430.2 460.2 429.8 458.5 427.4 457.6 424.9 457.6 423.9 457.9 422.9 459.4 421.2 461.7 420.1 464.2 419.7 466.4 420.1 467.4 420.9 467.9 422.1 467.8 423.6 467.3 425.1 466.4 426.6 464.9 428.0 463.2 429.4 461.7 430.1Z M461.9 429.4 461.2 429.4 460.4 429.1 459.0 427.4 458.0 424.9 458.3 423.1 459.4 421.7 461.4 420.6 463.9 420.1 466.0 420.4 466.9 421.1 467.5 422.1 467.5 423.4 467.0 424.9 466.2 426.2 464.9 427.5 463.4 428.7 461.9 429.4Z M462.4 428.7 460.9 428.7 459.6 427.6 458.5 425.4 458.4 424.4 458.7 423.4 459.9 421.9 461.7 420.9 463.9 420.4 465.7 420.7 466.4 421.2 467.0 422.1 467.1 423.4 466.7 424.6 466.0 425.9 464.9 427.0 462.4 428.7Z M462.4 428.2 460.9 428.1 459.8 427.1 459.0 425.4 459.1 423.6 460.0 422.4 461.7 421.3 463.7 420.8 465.4 421.1 466.2 421.6 466.6 422.4 466.7 423.4 466.3 424.6 464.7 426.8 462.4 428.2Z M462.4 427.7 461.2 427.7 460.0 426.6 459.4 425.1 459.6 423.6 460.4 422.5 461.9 421.6 463.7 421.2 465.2 421.4 465.8 421.9 466.2 422.6 466.2 423.6 465.9 424.6 464.4 426.5 462.4 427.7Z M462.7 427.1 461.4 427.2 460.4 426.5 459.8 425.1 460.0 423.9 460.7 422.9 461.9 422.1 463.4 421.7 464.9 421.9 465.4 422.3 465.7 422.9 465.6 424.4 464.4 426.0 462.7 427.1Z M462.7 426.6 461.7 426.7 460.8 426.1 460.4 425.1 460.5 424.1 461.2 423.1 462.2 422.5 463.4 422.1 464.4 422.3 465.2 423.1 465.1 424.4 464.2 425.6 462.7 426.6Z M462.9 425.9 462.2 426.1 461.4 425.8 461.0 425.1 461.0 424.4 461.5 423.6 462.2 423.1 463.2 422.7 463.9 422.8 464.5 423.4 464.6 424.1 464.0 425.1 462.9 425.9Z" fill="none" stroke="#404040" stroke-width="0.5"/>
<line x1="451.5" y1="384.6" x2="451.5" y2="472.8" stroke="#222" stroke-width="1.1"/>
<line x1="418.2" y1="431.5" x2="507.2" y2="431.5" stroke="#222" stroke-width="1.1"/>
<path d="M417.60,384.60 L418.61,384.60 L418.40,386.07 L418.50,387.54 L418.42,389.01 L418.59,390.48 L418.42,391.95 L418.43,393.42 L418.59,394.89 L418.58,396.36 L418.79,397.83 L418.80,399.30 L418.96,400.77 L418.97,402.24 L419.07,403.71 L419.23,405.18 L419.07,406.65 L419.14,408.12 L419.57,409.59 L419.27,411.06 L419.68,412.53 L419.78,414.00 L419.61,415.47 L420.15,416.94 L420.31,418.41 L420.31,419.88 L420.49,421.35 L420.65,422.82 L420.41,424.29 L420.69,425.76 L420.74,427.23 L420.95,428.70 L420.95,430.17 L420.96,431.64 L420.81,433.11 L420.91,434.58 L420.73,436.05 L420.65,437.52 L420.31,438.99 L420.09,440.46 L420.01,441.93 L419.99,443.40 L419.72,444.87 L419.95,446.34 L419.68,447.81 L419.58,449.28 L419.46,450.75 L419.37,452.22 L419.17,453.69 L418.84,455.16 L419.15,456.63 L419.06,458.10 L418.87,459.57 L418.83,461.04 L418.85,462.51 L418.52,463.98 L418.82,465.45 L418.56,466.92 L418.45,468.39 L418.53,469.86 L418.75,471.33 L418.48,472.80 L417.60,472.80Z" fill="#000"/>
<path d="M440.20,472.80 L440.20,472.80 L441.12,472.71 L442.03,472.55 L442.95,472.35 L443.87,472.13 L444.78,471.88 L445.70,471.64 L446.62,471.39 L447.53,471.16 L448.45,470.95 L449.37,470.77 L450.28,470.62 L451.20,470.50 L452.12,470.43 L453.03,470.40 L453.95,470.41 L454.87,470.46 L455.78,470.54 L456.70,470.65 L457.62,470.79 L458.53,470.96 L459.45,471.15 L460.37,471.35 L461.28,471.57 L462.20,471.79 L463.12,472.01 L464.03,472.22 L464.95,472.42 L465.87,472.59 L466.78,472.73 L467.70,472.80Z" fill="#111"/>
<rect x="418.2" y="384.6" width="89.0" height="88.2" fill="none" stroke="#000" stroke-width="1.3"/>
<path d="M415.20 472.80H418.20M418.20 472.80V475.80M416.10 468.37H418.20M422.67 472.80V475.00M416.10 465.79H418.20M425.28 472.80V475.00M416.10 463.95H418.20M427.13 472.80V475.00M416.10 462.53H418.20M428.57 472.80V475.00M416.10 461.36H418.20M429.74 472.80V475.00M416.10 460.38H418.20M430.74 472.80V475.00M416.10 459.52H418.20M431.60 472.80V475.00M416.10 458.77H418.20M432.35 472.80V475.00M415.20 458.10H418.20M433.03 472.80V475.80M416.10 453.67H418.20M437.50 472.80V475.00M416.10 451.09H418.20M440.11 472.80V475.00M416.10 449.25H418.20M441.96 472.80V475.00M416.10 447.83H418.20M443.40 472.80V475.00M416.10 446.66H418.20M444.58 472.80V475.00M416.10 445.68H418.20M445.57 472.80V475.00M416.10 444.82H418.20M446.43 472.80V475.00M416.10 444.07H418.20M447.19 472.80V475.00M415.20 443.40H418.20M447.87 472.80V475.80M416.10 438.97H418.20M452.33 472.80V475.00M416.10 436.39H418.20M454.94 472.80V475.00M416.10 434.55H418.20M456.80 472.80V475.00M416.10 433.13H418.20M458.23 472.80V475.00M416.10 431.96H418.20M459.41 472.80V475.00M416.10 430.98H418.20M460.40 472.80V475.00M416.10 430.12H418.20M461.26 472.80V475.00M416.10 429.37H418.20M462.02 472.80V475.00M415.20 428.70H418.20M462.70 472.80V475.80M416.10 424.27H418.20M467.17 472.80V475.00M416.10 421.69H418.20M469.78 472.80V475.00M416.10 419.85H418.20M471.63 472.80V475.00M416.10 418.43H418.20M473.07 472.80V475.00M416.10 417.26H418.20M474.24 472.80V475.00M416.10 416.28H418.20M475.24 472.80V475.00M416.10 415.42H418.20M476.10 472.80V475.00M416.10 414.67H418.20M476.85 472.80V475.00M415.20 414.00H418.20M477.53 472.80V475.80M416.10 409.57H418.20M482.00 472.80V475.00M416.10 406.99H418.20M484.61 472.80V475.00M416.10 405.15H418.20M486.46 472.80V475.00M416.10 403.73H418.20M487.90 472.80V475.00M416.10 402.56H418.20M489.08 472.80V475.00M416.10 401.58H418.20M490.07 472.80V475.00M416.10 400.72H418.20M490.93 472.80V475.00M416.10 399.97H418.20M491.69 472.80V475.00M415.20 399.30H418.20M492.37 472.80V475.80M416.10 394.87H418.20M496.83 472.80V475.00M416.10 392.29H418.20M499.44 472.80V475.00M416.10 390.45H418.20M501.30 472.80V475.00M416.10 389.03H418.20M502.73 472.80V475.00M416.10 387.86H418.20M503.91 472.80V475.00M416.10 386.88H418.20M504.90 472.80V475.00M416.10 386.02H418.20M505.76 472.80V475.00M416.10 385.27H418.20M506.52 472.80V475.00M415.20 384.60H418.20M507.20 472.80V475.80" stroke="#000" stroke-width="1" fill="none"/>
<g font-size="7.1" fill="#111" stroke="#111" stroke-width="0.12"><text x="400.30" y="475.40" textLength="7.9" lengthAdjust="spacingAndGlyphs">10</text><text x="408.10" y="472.50" font-size="5.5">0</text><text x="412.50" y="487.10" textLength="7.9" lengthAdjust="spacingAndGlyphs">10</text><text x="420.40" y="484.40" font-size="5.5">0</text><text x="400.30" y="460.70" textLength="7.9" lengthAdjust="spacingAndGlyphs">10</text><text x="408.10" y="457.80" font-size="5.5">1</text><text x="427.10" y="487.10" textLength="7.9" lengthAdjust="spacingAndGlyphs">10</text><text x="435.00" y="484.40" font-size="5.5">1</text><text x="400.30" y="446.00" textLength="7.9" lengthAdjust="spacingAndGlyphs">10</text><text x="408.10" y="443.10" font-size="5.5">2</text><text x="441.70" y="487.10" textLength="7.9" lengthAdjust="spacingAndGlyphs">10</text><text x="449.60" y="484.40" font-size="5.5">2</text><text x="400.30" y="431.30" textLength="7.9" lengthAdjust="spacingAndGlyphs">10</text><text x="408.10" y="428.40" font-size="5.5">3</text><text x="456.30" y="487.10" textLength="7.9" lengthAdjust="spacingAndGlyphs">10</text><text x="464.20" y="484.40" font-size="5.5">3</text><text x="400.30" y="416.60" textLength="7.9" lengthAdjust="spacingAndGlyphs">10</text><text x="408.10" y="413.70" font-size="5.5">4</text><text x="470.90" y="487.10" textLength="7.9" lengthAdjust="spacingAndGlyphs">10</text><text x="478.80" y="484.40" font-size="5.5">4</text><text x="400.30" y="401.90" textLength="7.9" lengthAdjust="spacingAndGlyphs">10</text><text x="408.10" y="399.00" font-size="5.5">5</text><text x="485.50" y="487.10" textLength="7.9" lengthAdjust="spacingAndGlyphs">10</text><text x="493.40" y="484.40" font-size="5.5">5</text><text x="400.30" y="387.20" textLength="7.9" lengthAdjust="spacingAndGlyphs">10</text><text x="408.10" y="384.30" font-size="5.5">6</text><text x="500.10" y="487.10" textLength="7.9" lengthAdjust="spacingAndGlyphs">10</text><text x="508.00" y="484.40" font-size="5.5">6</text></g>
<g font-size="7.6" fill="#1a1a1a" stroke="#1a1a1a" stroke-width="0.1">
<text x="421.10" y="395.80" font-size="7.6" fill="#1a1a1a" stroke="#1a1a1a" stroke-width="0.15" >20.1</text>
<text x="497.20" y="395.80" font-size="7.6" text-anchor="end" fill="#1a1a1a" stroke="#1a1a1a" stroke-width="0.15" >45.7</text>
<text x="420.60" y="466.50" font-size="7.6" fill="#1a1a1a" stroke="#1a1a1a" stroke-width="0.15" >11.1</text>
<text x="497.20" y="466.50" font-size="7.6" text-anchor="end" fill="#1a1a1a" stroke="#1a1a1a" stroke-width="0.15" >23.1</text>
</g>
<path d="M80.2 575.2 77.7 575.1 74.2 573.8 69.7 571.4 65.7 568.5 62.9 566.0 61.2 563.7 60.8 562.0 61.4 560.2 63.5 558.2 66.9 556.3 69.9 555.3 79.7 552.5 82.9 550.8 85.3 548.2 88.7 542.2 91.6 538.0 94.2 535.2 97.2 533.1 100.4 531.6 103.9 530.8 107.4 530.9 109.9 531.8 111.2 532.9 111.9 534.2 112.4 536.0 112.5 538.0 112.2 540.2 111.6 542.7 110.6 545.0 109.2 547.2 103.9 553.5 96.2 561.2 86.4 571.4 82.9 574.2 81.7 574.8 80.2 575.2Z M80.4 571.7 78.4 571.9 75.9 571.3 72.9 570.1 69.9 568.4 67.4 566.3 65.6 564.2 65.0 562.7 65.4 561.2 67.4 559.5 70.7 557.8 74.9 556.3 83.4 554.0 85.3 553.2 86.8 552.2 88.1 551.0 89.3 549.2 94.8 538.7 96.4 536.7 98.4 535.1 100.9 533.9 103.7 533.3 106.2 533.4 108.2 534.2 109.1 535.2 109.6 536.2 109.9 539.0 109.2 542.2 107.5 545.2 105.9 547.0 100.1 552.0 95.4 556.6 93.7 558.7 90.1 563.7 86.7 567.4 83.2 570.3 80.4 571.7Z M78.9 570.2 76.9 570.0 74.2 569.1 72.2 568.1 70.1 566.7 68.6 565.2 67.7 563.7 67.5 562.5 68.2 561.2 70.4 559.5 74.2 557.8 78.2 556.7 86.2 555.1 88.4 554.3 89.9 553.5 91.2 552.2 92.4 550.2 93.9 546.6 95.7 540.5 96.5 539.0 97.7 537.5 99.9 535.7 102.4 534.8 105.2 534.7 107.2 535.5 107.8 536.2 108.3 537.2 108.5 539.5 107.8 542.2 106.4 544.5 104.2 546.5 98.0 550.0 94.7 552.7 92.5 555.2 89.6 561.5 86.9 565.2 84.8 567.2 82.7 568.9 80.7 569.9 78.9 570.2Z M98.9 547.2 97.2 547.1 96.6 546.5 96.3 545.5 96.5 542.0 97.0 540.5 97.7 539.0 99.4 537.1 101.7 535.9 104.2 535.6 106.2 536.1 107.1 537.2 107.5 539.0 107.3 541.0 106.3 543.0 105.1 544.5 103.4 545.7 101.4 546.6 98.9 547.2Z M79.9 569.0 78.2 569.1 76.2 568.8 73.9 567.9 71.9 566.7 70.4 565.5 69.4 564.0 69.2 562.7 69.6 561.7 70.6 560.7 72.4 559.6 77.4 557.7 80.7 557.1 84.9 556.6 87.2 556.6 88.4 556.9 89.0 558.0 88.9 559.5 88.2 561.5 87.0 563.5 85.3 565.5 83.4 567.1 81.7 568.3 79.9 569.0Z M100.7 545.7 98.7 545.6 98.1 545.2 97.7 544.5 97.5 542.2 98.3 539.7 99.7 538.0 101.4 536.8 103.7 536.4 105.4 536.8 106.3 537.7 106.7 539.0 106.6 540.5 106.0 542.0 105.2 543.2 103.9 544.4 102.4 545.2 100.7 545.7Z M79.7 568.2 78.2 568.3 76.4 568.0 74.4 567.3 72.7 566.3 71.4 565.2 70.6 564.0 70.4 563.0 70.8 562.0 71.8 561.0 73.4 560.0 77.9 558.3 83.7 557.6 85.7 557.7 86.9 558.2 87.4 559.0 87.4 560.2 87.0 561.7 85.9 563.5 84.5 565.2 82.9 566.6 81.2 567.7 79.7 568.2Z M101.2 544.7 99.7 544.6 98.6 543.7 98.4 542.0 99.0 540.0 100.1 538.5 101.7 537.5 103.4 537.1 104.9 537.4 105.7 538.2 106.0 539.2 105.9 540.5 105.4 541.7 103.7 543.7 102.4 544.4 101.2 544.7Z M79.9 567.5 78.4 567.7 76.9 567.5 75.2 566.9 73.7 566.1 72.5 565.2 71.7 564.2 71.5 563.2 71.8 562.2 72.7 561.2 74.2 560.3 78.2 558.9 82.9 558.3 84.7 558.5 85.7 558.9 86.2 559.5 86.3 560.5 86.0 561.7 85.2 563.2 82.7 566.0 79.9 567.5Z M101.9 543.7 100.7 543.9 99.7 543.4 99.2 542.2 99.4 540.7 100.2 539.4 101.4 538.4 102.9 537.8 104.2 538.0 104.8 538.5 105.2 539.1 105.0 541.0 103.8 542.7 101.9 543.7Z M79.7 567.0 78.4 567.1 77.2 567.0 75.7 566.5 74.1 565.7 73.2 564.9 72.6 564.0 72.4 563.0 72.8 562.2 74.9 560.6 78.4 559.4 82.2 559.0 83.7 559.1 84.7 559.5 85.2 560.2 85.3 561.0 85.1 562.0 84.5 563.2 82.2 565.7 79.7 567.0Z M101.7 543.0 100.7 542.8 100.2 542.2 100.1 541.5 100.3 540.5 100.9 539.6 101.8 539.0 102.7 538.6 103.7 538.7 104.2 539.1 104.4 539.7 104.2 541.1 103.2 542.3 101.7 543.0Z M79.4 566.5 77.2 566.5 74.8 565.5 73.4 564.0 73.3 563.2 73.6 562.5 75.4 561.0 78.4 559.9 81.7 559.6 82.9 559.7 83.9 560.1 84.3 560.7 84.4 561.5 83.6 563.5 81.6 565.5 79.4 566.5Z M102.2 541.8 101.4 541.6 101.3 540.7 101.9 540.0 102.9 539.7 103.3 540.2 103.3 540.7 102.9 541.3 102.2 541.8Z M79.4 566.0 77.4 566.0 75.4 565.2 74.3 564.0 74.2 563.2 74.4 562.6 75.9 561.4 78.4 560.4 81.2 560.1 82.9 560.5 83.6 561.5 83.5 562.2 83.0 563.2 81.4 565.0 79.4 566.0Z M79.4 565.5 77.7 565.5 76.1 565.0 75.1 564.0 75.0 563.2 75.2 562.7 76.4 561.7 78.4 561.0 80.7 560.7 82.2 561.1 82.7 562.0 82.3 563.2 80.9 564.7 79.4 565.5Z M79.2 565.0 77.7 565.0 76.5 564.5 76.0 563.7 76.2 562.8 77.2 562.0 78.7 561.5 80.2 561.3 81.4 561.7 81.8 562.5 81.4 563.5 80.3 564.5 79.2 565.0Z M79.4 564.2 78.4 564.4 77.7 564.2 77.1 563.7 77.1 563.2 77.5 562.7 78.4 562.2 79.4 562.0 80.3 562.2 80.7 562.7 80.6 563.2 79.4 564.2Z" fill="none" stroke="#b0b0b0" stroke-width="0.55"/>
<line x1="84.5" y1="506.2" x2="84.5" y2="594.4" stroke="#999" stroke-width="1.1"/>
<line x1="50.9" y1="553.5" x2="139.9" y2="553.5" stroke="#999" stroke-width="1.1"/>
<line x1="53.3" y1="531.2" x2="53.3" y2="577.2" stroke="#aaa" stroke-width="0.9"/>
<line x1="67.9" y1="591.1999999999999" x2="84.4" y2="591.1999999999999" stroke="#aaa" stroke-width="1.3"/>
<rect x="50.9" y="506.2" width="89.0" height="88.2" fill="none" stroke="#000" stroke-width="1.3"/>
<path d="M47.90 594.40H50.90M50.90 594.40V597.40M48.80 589.97H50.90M55.37 594.40V596.60M48.80 587.39H50.90M57.98 594.40V596.60M48.80 585.55H50.90M59.83 594.40V596.60M48.80 584.13H50.90M61.27 594.40V596.60M48.80 582.96H50.90M62.44 594.40V596.60M48.80 581.98H50.90M63.44 594.40V596.60M48.80 581.12H50.90M64.30 594.40V596.60M48.80 580.37H50.90M65.05 594.40V596.60M47.90 579.70H50.90M65.73 594.40V597.40M48.80 575.27H50.90M70.20 594.40V596.60M48.80 572.69H50.90M72.81 594.40V596.60M48.80 570.85H50.90M74.66 594.40V596.60M48.80 569.43H50.90M76.10 594.40V596.60M48.80 568.26H50.90M77.28 594.40V596.60M48.80 567.28H50.90M78.27 594.40V596.60M48.80 566.42H50.90M79.13 594.40V596.60M48.80 565.67H50.90M79.89 594.40V596.60M47.90 565.00H50.90M80.57 594.40V597.40M48.80 560.57H50.90M85.03 594.40V596.60M48.80 557.99H50.90M87.64 594.40V596.60M48.80 556.15H50.90M89.50 594.40V596.60M48.80 554.73H50.90M90.93 594.40V596.60M48.80 553.56H50.90M92.11 594.40V596.60M48.80 552.58H50.90M93.10 594.40V596.60M48.80 551.72H50.90M93.96 594.40V596.60M48.80 550.97H50.90M94.72 594.40V596.60M47.90 550.30H50.90M95.40 594.40V597.40M48.80 545.87H50.90M99.87 594.40V596.60M48.80 543.29H50.90M102.48 594.40V596.60M48.80 541.45H50.90M104.33 594.40V596.60M48.80 540.03H50.90M105.77 594.40V596.60M48.80 538.86H50.90M106.94 594.40V596.60M48.80 537.88H50.90M107.94 594.40V596.60M48.80 537.02H50.90M108.80 594.40V596.60M48.80 536.27H50.90M109.55 594.40V596.60M47.90 535.60H50.90M110.23 594.40V597.40M48.80 531.17H50.90M114.70 594.40V596.60M48.80 528.59H50.90M117.31 594.40V596.60M48.80 526.75H50.90M119.16 594.40V596.60M48.80 525.33H50.90M120.60 594.40V596.60M48.80 524.16H50.90M121.78 594.40V596.60M48.80 523.18H50.90M122.77 594.40V596.60M48.80 522.32H50.90M123.63 594.40V596.60M48.80 521.57H50.90M124.39 594.40V596.60M47.90 520.90H50.90M125.07 594.40V597.40M48.80 516.47H50.90M129.53 594.40V596.60M48.80 513.89H50.90M132.14 594.40V596.60M48.80 512.05H50.90M134.00 594.40V596.60M48.80 510.63H50.90M135.43 594.40V596.60M48.80 509.46H50.90M136.61 594.40V596.60M48.80 508.48H50.90M137.60 594.40V596.60M48.80 507.62H50.90M138.46 594.40V596.60M48.80 506.87H50.90M139.22 594.40V596.60M47.90 506.20H50.90M139.90 594.40V597.40" stroke="#000" stroke-width="1" fill="none"/>
<g font-size="7.1" fill="#111" stroke="#111" stroke-width="0.12"><text x="33.00" y="597.00" textLength="7.9" lengthAdjust="spacingAndGlyphs">10</text><text x="40.80" y="594.10" font-size="5.5">0</text><text x="45.20" y="608.70" textLength="7.9" lengthAdjust="spacingAndGlyphs">10</text><text x="53.10" y="606.00" font-size="5.5">0</text><text x="33.00" y="582.30" textLength="7.9" lengthAdjust="spacingAndGlyphs">10</text><text x="40.80" y="579.40" font-size="5.5">1</text><text x="59.80" y="608.70" textLength="7.9" lengthAdjust="spacingAndGlyphs">10</text><text x="67.70" y="606.00" font-size="5.5">1</text><text x="33.00" y="567.60" textLength="7.9" lengthAdjust="spacingAndGlyphs">10</text><text x="40.80" y="564.70" font-size="5.5">2</text><text x="74.40" y="608.70" textLength="7.9" lengthAdjust="spacingAndGlyphs">10</text><text x="82.30" y="606.00" font-size="5.5">2</text><text x="33.00" y="552.90" textLength="7.9" lengthAdjust="spacingAndGlyphs">10</text><text x="40.80" y="550.00" font-size="5.5">3</text><text x="89.00" y="608.70" textLength="7.9" lengthAdjust="spacingAndGlyphs">10</text><text x="96.90" y="606.00" font-size="5.5">3</text><text x="33.00" y="538.20" textLength="7.9" lengthAdjust="spacingAndGlyphs">10</text><text x="40.80" y="535.30" font-size="5.5">4</text><text x="103.60" y="608.70" textLength="7.9" lengthAdjust="spacingAndGlyphs">10</text><text x="111.50" y="606.00" font-size="5.5">4</text><text x="33.00" y="523.50" textLength="7.9" lengthAdjust="spacingAndGlyphs">10</text><text x="40.80" y="520.60" font-size="5.5">5</text><text x="118.20" y="608.70" textLength="7.9" lengthAdjust="spacingAndGlyphs">10</text><text x="126.10" y="606.00" font-size="5.5">5</text><text x="33.00" y="508.80" textLength="7.9" lengthAdjust="spacingAndGlyphs">10</text><text x="40.80" y="505.90" font-size="5.5">6</text><text x="132.80" y="608.70" textLength="7.9" lengthAdjust="spacingAndGlyphs">10</text><text x="140.70" y="606.00" font-size="5.5">6</text></g>
<g font-size="7.6" fill="#1a1a1a" stroke="#1a1a1a" stroke-width="0.1">
<text x="53.80" y="517.40" font-size="7.6" fill="#1a1a1a" stroke="#1a1a1a" stroke-width="0.15" >6.44</text>
<text x="129.90" y="517.40" font-size="7.6" text-anchor="end" fill="#1a1a1a" stroke="#1a1a1a" stroke-width="0.15" >14.6</text>
<text x="53.30" y="588.10" font-size="7.6" fill="#1a1a1a" stroke="#1a1a1a" stroke-width="0.15" >71.2</text>
<text x="129.90" y="588.10" font-size="7.6" text-anchor="end" fill="#1a1a1a" stroke="#1a1a1a" stroke-width="0.15" >7.74</text>
</g>
<path d="M205.2 570.0 203.2 570.2 200.9 570.0 198.4 569.3 195.7 568.2 193.6 567.0 191.9 565.5 190.8 564.0 190.3 562.5 190.4 560.7 191.5 558.7 193.2 556.8 197.2 553.0 198.5 551.2 199.0 549.5 199.6 544.2 200.9 541.5 203.2 539.2 206.7 537.1 210.9 535.4 215.9 534.1 221.2 533.3 224.9 533.3 228.7 533.9 231.4 535.2 232.7 536.5 233.4 537.7 233.8 539.2 233.9 541.0 233.6 543.0 233.0 545.0 230.9 548.7 227.2 552.6 211.7 566.4 208.2 568.8 205.2 570.0Z M204.4 567.3 201.2 567.3 199.2 566.8 197.4 566.1 195.9 565.1 194.7 564.0 194.1 563.0 193.9 561.7 194.4 560.2 195.4 558.7 200.9 553.7 202.3 552.0 203.1 550.0 203.6 545.5 204.8 543.2 207.2 541.2 210.7 539.1 214.2 537.6 218.2 536.4 221.7 535.8 224.7 535.8 227.7 536.4 229.7 537.5 230.9 539.2 231.1 541.7 230.3 544.7 228.5 547.5 225.4 550.3 217.2 556.2 212.0 562.2 209.4 564.7 206.9 566.3 204.4 567.3Z M203.9 566.0 200.9 565.9 198.2 564.8 196.3 563.2 196.0 562.5 195.9 561.5 196.5 560.0 197.7 558.5 203.6 553.7 205.2 552.0 205.8 550.2 206.2 546.2 206.8 545.0 207.5 544.0 209.8 542.0 212.4 540.1 215.2 538.8 218.2 537.8 221.4 537.2 224.2 537.2 226.7 537.6 228.4 538.6 229.5 540.2 229.6 542.2 228.7 544.7 227.1 547.0 223.7 549.8 215.2 554.6 213.9 555.9 211.5 560.2 209.5 562.7 206.7 564.9 203.9 566.0Z M203.9 565.0 201.4 565.0 198.9 564.0 197.6 562.7 197.3 562.0 197.3 561.0 198.2 559.5 199.7 557.9 205.8 553.7 207.2 552.5 207.9 551.0 207.9 547.7 208.1 546.5 208.7 545.2 209.9 543.7 211.9 542.0 213.9 540.5 216.4 539.3 218.9 538.5 221.4 538.1 223.9 538.1 226.2 538.6 227.6 539.5 228.4 541.0 228.3 542.7 227.6 544.7 226.2 546.5 224.4 548.1 222.2 549.5 219.4 550.9 214.7 552.7 213.0 553.7 212.1 555.0 210.8 559.0 209.3 561.5 206.7 563.8 203.9 565.0Z M212.2 552.0 210.9 552.1 210.2 551.5 209.5 549.7 209.3 547.7 209.6 546.5 210.4 545.0 213.0 542.2 216.7 540.0 220.7 538.9 222.7 538.8 224.4 539.0 225.9 539.5 226.9 540.2 227.5 541.7 227.1 543.7 225.9 545.6 224.2 547.3 221.9 548.8 219.2 550.0 212.2 552.0Z M203.9 564.2 201.4 564.2 199.3 563.2 198.7 562.5 198.4 561.7 198.7 560.2 200.4 558.2 203.2 556.3 207.4 554.4 208.7 554.1 209.4 554.2 209.9 555.2 210.1 556.7 209.8 558.5 209.2 560.0 208.2 561.5 206.9 562.7 205.4 563.7 203.9 564.2Z M213.7 550.5 212.4 550.4 211.4 550.0 210.8 549.0 210.6 547.7 210.8 546.5 211.4 545.2 212.6 543.7 213.9 542.4 217.2 540.5 220.7 539.6 222.4 539.4 224.2 539.6 225.4 540.1 226.2 540.7 226.7 542.0 226.3 543.7 225.2 545.5 223.7 546.9 221.7 548.2 219.2 549.3 216.4 550.1 213.7 550.5Z M204.2 563.5 202.2 563.6 200.2 562.8 199.4 561.7 199.7 560.2 201.2 558.5 203.4 557.0 206.2 555.9 207.9 555.9 208.6 556.5 208.9 557.5 208.7 558.7 208.3 560.0 206.5 562.2 204.2 563.5Z M215.7 549.5 212.9 549.3 212.2 548.8 211.8 548.0 211.8 546.7 212.3 545.5 214.4 543.0 217.2 541.2 220.4 540.2 223.4 540.2 224.7 540.5 225.4 541.1 225.9 542.2 225.7 543.5 224.9 545.0 223.7 546.2 221.9 547.4 219.9 548.4 215.7 549.5Z M203.4 563.0 201.9 562.8 200.7 562.1 200.3 561.2 200.7 560.0 201.9 558.7 203.9 557.5 205.9 556.9 207.2 557.1 207.7 557.7 207.8 558.5 207.1 560.5 205.4 562.2 203.4 563.0Z M216.2 548.7 213.9 548.6 213.2 548.1 212.8 547.5 212.8 546.5 213.2 545.5 215.0 543.2 217.4 541.6 220.2 540.7 222.9 540.7 223.9 541.0 224.7 541.5 225.1 542.5 225.0 543.5 224.3 544.7 223.2 545.9 221.7 547.0 219.9 547.8 216.2 548.7Z M203.7 562.2 202.5 562.2 201.7 561.8 201.3 561.0 201.5 560.2 202.4 559.2 203.7 558.3 205.2 557.9 206.2 558.0 206.6 558.5 206.7 559.0 206.4 560.2 205.2 561.5 203.7 562.2Z M217.4 548.0 215.2 548.0 214.4 547.7 213.9 547.2 213.8 546.5 214.1 545.5 215.4 543.6 217.7 542.1 220.2 541.3 222.4 541.2 223.4 541.5 224.1 542.0 224.4 542.7 224.3 543.5 223.8 544.5 222.9 545.5 220.4 547.0 217.4 548.0Z M203.9 561.3 202.8 561.2 202.5 560.7 202.6 560.2 203.9 559.1 205.2 559.1 205.4 559.5 205.3 560.2 204.7 560.9 203.9 561.3Z M218.2 547.3 216.2 547.4 215.0 546.7 214.9 545.5 216.0 544.0 217.7 542.7 219.7 541.9 221.7 541.7 223.2 542.3 223.5 542.7 223.6 543.5 222.7 545.0 220.7 546.4 218.2 547.3Z M218.9 546.5 217.2 546.7 216.2 546.3 215.9 545.5 216.7 544.2 217.9 543.2 219.7 542.5 221.2 542.3 222.3 542.7 222.7 543.5 222.1 544.7 220.7 545.8 218.9 546.5Z M219.2 545.7 217.5 545.7 217.2 545.2 217.4 544.7 218.2 543.9 219.4 543.3 220.7 543.1 221.4 543.5 221.5 544.0 221.0 544.7 219.2 545.7Z" fill="none" stroke="#b0b0b0" stroke-width="0.55"/>
<line x1="206.5" y1="506.2" x2="206.5" y2="594.4" stroke="#999" stroke-width="1.1"/>
<line x1="173.2" y1="553.5" x2="262.2" y2="553.5" stroke="#999" stroke-width="1.1"/>
<path d="M173.2,530.2 A3.4 23 0 0 1 173.2,576.2 Z" fill="#aaa" filter="url(#bl)"/>
<rect x="173.2" y="506.2" width="89.0" height="88.2" fill="none" stroke="#000" stroke-width="1.3"/>
<path d="M170.20 594.40H173.20M173.20 594.40V597.40M171.10 589.97H173.20M177.67 594.40V596.60M171.10 587.39H173.20M180.28 594.40V596.60M171.10 585.55H173.20M182.13 594.40V596.60M171.10 584.13H173.20M183.57 594.40V596.60M171.10 582.96H173.20M184.74 594.40V596.60M171.10 581.98H173.20M185.74 594.40V596.60M171.10 581.12H173.20M186.60 594.40V596.60M171.10 580.37H173.20M187.35 594.40V596.60M170.20 579.70H173.20M188.03 594.40V597.40M171.10 575.27H173.20M192.50 594.40V596.60M171.10 572.69H173.20M195.11 594.40V596.60M171.10 570.85H173.20M196.96 594.40V596.60M171.10 569.43H173.20M198.40 594.40V596.60M171.10 568.26H173.20M199.58 594.40V596.60M171.10 567.28H173.20M200.57 594.40V596.60M171.10 566.42H173.20M201.43 594.40V596.60M171.10 565.67H173.20M202.19 594.40V596.60M170.20 565.00H173.20M202.87 594.40V597.40M171.10 560.57H173.20M207.33 594.40V596.60M171.10 557.99H173.20M209.94 594.40V596.60M171.10 556.15H173.20M211.80 594.40V596.60M171.10 554.73H173.20M213.23 594.40V596.60M171.10 553.56H173.20M214.41 594.40V596.60M171.10 552.58H173.20M215.40 594.40V596.60M171.10 551.72H173.20M216.26 594.40V596.60M171.10 550.97H173.20M217.02 594.40V596.60M170.20 550.30H173.20M217.70 594.40V597.40M171.10 545.87H173.20M222.17 594.40V596.60M171.10 543.29H173.20M224.78 594.40V596.60M171.10 541.45H173.20M226.63 594.40V596.60M171.10 540.03H173.20M228.07 594.40V596.60M171.10 538.86H173.20M229.24 594.40V596.60M171.10 537.88H173.20M230.24 594.40V596.60M171.10 537.02H173.20M231.10 594.40V596.60M171.10 536.27H173.20M231.85 594.40V596.60M170.20 535.60H173.20M232.53 594.40V597.40M171.10 531.17H173.20M237.00 594.40V596.60M171.10 528.59H173.20M239.61 594.40V596.60M171.10 526.75H173.20M241.46 594.40V596.60M171.10 525.33H173.20M242.90 594.40V596.60M171.10 524.16H173.20M244.08 594.40V596.60M171.10 523.18H173.20M245.07 594.40V596.60M171.10 522.32H173.20M245.93 594.40V596.60M171.10 521.57H173.20M246.69 594.40V596.60M170.20 520.90H173.20M247.37 594.40V597.40M171.10 516.47H173.20M251.83 594.40V596.60M171.10 513.89H173.20M254.44 594.40V596.60M171.10 512.05H173.20M256.30 594.40V596.60M171.10 510.63H173.20M257.73 594.40V596.60M171.10 509.46H173.20M258.91 594.40V596.60M171.10 508.48H173.20M259.90 594.40V596.60M171.10 507.62H173.20M260.76 594.40V596.60M171.10 506.87H173.20M261.52 594.40V596.60M170.20 506.20H173.20M262.20 594.40V597.40" stroke="#000" stroke-width="1" fill="none"/>
<g font-size="7.1" fill="#111" stroke="#111" stroke-width="0.12"><text x="155.30" y="597.00" textLength="7.9" lengthAdjust="spacingAndGlyphs">10</text><text x="163.10" y="594.10" font-size="5.5">0</text><text x="167.50" y="608.70" textLength="7.9" lengthAdjust="spacingAndGlyphs">10</text><text x="175.40" y="606.00" font-size="5.5">0</text><text x="155.30" y="582.30" textLength="7.9" lengthAdjust="spacingAndGlyphs">10</text><text x="163.10" y="579.40" font-size="5.5">1</text><text x="182.10" y="608.70" textLength="7.9" lengthAdjust="spacingAndGlyphs">10</text><text x="190.00" y="606.00" font-size="5.5">1</text><text x="155.30" y="567.60" textLength="7.9" lengthAdjust="spacingAndGlyphs">10</text><text x="163.10" y="564.70" font-size="5.5">2</text><text x="196.70" y="608.70" textLength="7.9" lengthAdjust="spacingAndGlyphs">10</text><text x="204.60" y="606.00" font-size="5.5">2</text><text x="155.30" y="552.90" textLength="7.9" lengthAdjust="spacingAndGlyphs">10</text><text x="163.10" y="550.00" font-size="5.5">3</text><text x="211.30" y="608.70" textLength="7.9" lengthAdjust="spacingAndGlyphs">10</text><text x="219.20" y="606.00" font-size="5.5">3</text><text x="155.30" y="538.20" textLength="7.9" lengthAdjust="spacingAndGlyphs">10</text><text x="163.10" y="535.30" font-size="5.5">4</text><text x="225.90" y="608.70" textLength="7.9" lengthAdjust="spacingAndGlyphs">10</text><text x="233.80" y="606.00" font-size="5.5">4</text><text x="155.30" y="523.50" textLength="7.9" lengthAdjust="spacingAndGlyphs">10</text><text x="163.10" y="520.60" font-size="5.5">5</text><text x="240.50" y="608.70" textLength="7.9" lengthAdjust="spacingAndGlyphs">10</text><text x="248.40" y="606.00" font-size="5.5">5</text><text x="155.30" y="508.80" textLength="7.9" lengthAdjust="spacingAndGlyphs">10</text><text x="163.10" y="505.90" font-size="5.5">6</text><text x="255.10" y="608.70" textLength="7.9" lengthAdjust="spacingAndGlyphs">10</text><text x="263.00" y="606.00" font-size="5.5">6</text></g>
<g font-size="7.6" fill="#1a1a1a" stroke="#1a1a1a" stroke-width="0.1">
<text x="176.10" y="517.40" font-size="7.6" fill="#1a1a1a" stroke="#1a1a1a" stroke-width="0.15" >26.6</text>
<text x="252.20" y="517.40" font-size="7.6" text-anchor="end" fill="#1a1a1a" stroke="#1a1a1a" stroke-width="0.15" >30.6</text>
<text x="175.60" y="588.10" font-size="7.6" fill="#1a1a1a" stroke="#1a1a1a" stroke-width="0.15" >30.9</text>
<text x="252.20" y="588.10" font-size="7.6" text-anchor="end" fill="#1a1a1a" stroke="#1a1a1a" stroke-width="0.15" >11.9</text>
</g>
<path d="M335.8 565.7 332.6 565.8 329.3 564.8 326.6 563.0 324.7 560.7 323.7 558.0 321.4 545.7 321.3 543.5 321.9 541.5 323.6 539.0 326.6 536.5 330.6 534.3 334.6 532.9 339.1 532.0 343.6 531.8 347.3 532.3 350.6 533.4 352.3 534.4 353.6 535.5 354.5 537.0 355.2 538.7 355.5 540.7 355.3 542.7 354.9 544.7 353.9 547.2 352.2 550.5 349.6 554.7 347.1 558.2 345.1 560.5 342.8 562.6 340.6 564.1 338.3 565.1 335.8 565.7Z M336.3 562.5 333.8 562.6 331.6 562.0 329.5 560.7 328.2 559.0 327.5 557.2 326.8 551.5 325.3 545.5 325.2 543.7 325.7 542.2 327.3 540.0 329.8 537.8 332.8 536.1 336.1 534.9 339.6 534.2 342.8 534.0 345.8 534.4 348.8 535.3 351.2 537.0 351.9 538.0 352.4 539.2 352.6 542.0 351.6 545.2 350.0 548.0 346.2 553.0 343.7 557.2 342.4 559.0 341.1 560.3 339.6 561.3 336.3 562.5Z M336.1 560.7 334.1 560.7 332.3 560.2 331.0 559.2 330.0 557.7 329.6 556.0 329.3 551.2 327.5 545.2 327.5 543.7 328.0 542.5 329.4 540.5 331.6 538.6 334.1 537.1 336.8 536.1 339.8 535.4 342.8 535.3 345.6 535.7 348.1 536.6 349.9 538.0 350.9 540.0 350.9 542.2 350.1 544.7 348.3 547.5 344.0 552.2 341.8 556.5 340.6 558.2 338.6 559.8 336.1 560.7Z M336.1 559.2 334.6 559.3 333.3 558.9 332.2 558.2 331.4 557.0 331.1 555.5 331.1 551.0 329.1 545.2 329.1 544.0 329.5 542.7 330.7 541.0 332.7 539.2 335.1 537.8 337.6 536.9 340.3 536.3 342.8 536.3 345.1 536.6 347.3 537.5 348.9 538.7 349.7 540.2 349.7 542.2 348.9 544.5 346.9 547.2 342.1 552.0 340.2 556.0 339.3 557.3 337.8 558.6 336.1 559.2Z M336.1 557.7 335.1 557.8 334.1 557.6 333.3 557.1 332.7 556.2 332.6 555.2 332.7 552.2 332.6 551.0 330.4 545.5 330.4 544.0 330.9 542.7 332.2 541.0 333.8 539.6 335.8 538.4 338.1 537.6 340.6 537.1 342.8 537.1 345.1 537.5 346.8 538.3 348.1 539.3 348.8 540.7 348.7 542.5 348.0 544.2 345.8 547.0 340.6 551.5 339.8 552.7 338.2 556.2 337.3 557.1 336.1 557.7Z M335.6 555.7 334.8 555.6 334.4 555.0 334.1 551.2 331.5 546.0 331.5 544.2 332.2 542.5 333.3 541.1 334.8 539.9 336.8 538.8 338.8 538.2 340.8 537.9 342.8 537.9 344.8 538.3 346.3 539.0 347.4 540.0 347.9 541.2 347.8 542.7 347.0 544.5 344.6 547.2 338.7 551.5 337.7 552.7 336.7 555.0 335.6 555.7Z M337.1 550.7 336.1 550.7 335.1 550.1 333.6 548.2 332.7 546.5 332.4 545.2 332.5 544.2 333.7 542.0 334.8 540.9 336.3 539.9 338.1 539.1 339.8 538.7 341.6 538.5 343.3 538.7 344.8 539.1 346.1 539.8 346.9 541.0 347.1 542.2 346.6 543.7 345.6 545.2 344.1 546.7 342.3 548.0 337.1 550.7Z M338.1 549.3 336.8 549.4 335.8 549.1 334.8 548.3 333.9 547.0 333.4 545.7 333.4 544.5 333.8 543.3 334.5 542.2 336.8 540.4 339.8 539.3 342.8 539.3 344.3 539.7 345.3 540.2 346.1 541.2 346.3 542.2 345.9 543.5 345.1 544.8 343.8 546.1 342.1 547.4 338.1 549.3Z M337.8 548.5 336.8 548.4 335.8 548.0 335.0 547.2 334.5 546.2 334.3 545.2 334.4 544.2 335.6 542.2 337.7 540.7 340.3 539.9 342.8 540.0 344.8 540.9 345.3 541.7 345.4 542.7 345.0 543.7 344.2 545.0 341.3 547.1 339.3 548.1 337.8 548.5Z M338.8 547.5 337.8 547.6 336.8 547.5 335.7 546.5 335.3 544.7 336.1 543.0 337.8 541.5 339.8 540.7 342.1 540.6 343.8 541.2 344.4 542.0 344.6 542.7 343.8 544.5 341.6 546.3 338.8 547.5Z M338.8 546.7 337.3 546.5 336.5 545.7 336.4 544.5 337.2 543.0 338.6 541.9 340.3 541.4 342.1 541.4 343.2 542.0 343.5 542.5 343.6 543.2 342.8 544.5 340.9 546.0 338.8 546.7Z M340.1 545.5 338.8 545.7 338.1 545.3 337.8 544.7 338.1 543.7 338.8 543.0 339.8 542.4 340.8 542.3 341.8 542.5 342.3 543.0 342.1 544.0 341.3 544.8 340.1 545.5Z" fill="none" stroke="#b0b0b0" stroke-width="0.55"/>
<line x1="329.5" y1="506.2" x2="329.5" y2="594.4" stroke="#999" stroke-width="1.1"/>
<line x1="295.8" y1="553.5" x2="384.8" y2="553.5" stroke="#999" stroke-width="1.1"/>
<path d="M295.8,526.2 A3.2 21 0 0 1 295.8,568.2 Z" fill="#bbb" filter="url(#bl)"/>
<rect x="295.8" y="506.2" width="89.0" height="88.2" fill="none" stroke="#000" stroke-width="1.3"/>
<path d="M292.80 594.40H295.80M295.80 594.40V597.40M293.70 589.97H295.80M300.27 594.40V596.60M293.70 587.39H295.80M302.88 594.40V596.60M293.70 585.55H295.80M304.73 594.40V596.60M293.70 584.13H295.80M306.17 594.40V596.60M293.70 582.96H295.80M307.34 594.40V596.60M293.70 581.98H295.80M308.34 594.40V596.60M293.70 581.12H295.80M309.20 594.40V596.60M293.70 580.37H295.80M309.95 594.40V596.60M292.80 579.70H295.80M310.63 594.40V597.40M293.70 575.27H295.80M315.10 594.40V596.60M293.70 572.69H295.80M317.71 594.40V596.60M293.70 570.85H295.80M319.56 594.40V596.60M293.70 569.43H295.80M321.00 594.40V596.60M293.70 568.26H295.80M322.18 594.40V596.60M293.70 567.28H295.80M323.17 594.40V596.60M293.70 566.42H295.80M324.03 594.40V596.60M293.70 565.67H295.80M324.79 594.40V596.60M292.80 565.00H295.80M325.47 594.40V597.40M293.70 560.57H295.80M329.93 594.40V596.60M293.70 557.99H295.80M332.54 594.40V596.60M293.70 556.15H295.80M334.40 594.40V596.60M293.70 554.73H295.80M335.83 594.40V596.60M293.70 553.56H295.80M337.01 594.40V596.60M293.70 552.58H295.80M338.00 594.40V596.60M293.70 551.72H295.80M338.86 594.40V596.60M293.70 550.97H295.80M339.62 594.40V596.60M292.80 550.30H295.80M340.30 594.40V597.40M293.70 545.87H295.80M344.77 594.40V596.60M293.70 543.29H295.80M347.38 594.40V596.60M293.70 541.45H295.80M349.23 594.40V596.60M293.70 540.03H295.80M350.67 594.40V596.60M293.70 538.86H295.80M351.84 594.40V596.60M293.70 537.88H295.80M352.84 594.40V596.60M293.70 537.02H295.80M353.70 594.40V596.60M293.70 536.27H295.80M354.45 594.40V596.60M292.80 535.60H295.80M355.13 594.40V597.40M293.70 531.17H295.80M359.60 594.40V596.60M293.70 528.59H295.80M362.21 594.40V596.60M293.70 526.75H295.80M364.06 594.40V596.60M293.70 525.33H295.80M365.50 594.40V596.60M293.70 524.16H295.80M366.68 594.40V596.60M293.70 523.18H295.80M367.67 594.40V596.60M293.70 522.32H295.80M368.53 594.40V596.60M293.70 521.57H295.80M369.29 594.40V596.60M292.80 520.90H295.80M369.97 594.40V597.40M293.70 516.47H295.80M374.43 594.40V596.60M293.70 513.89H295.80M377.04 594.40V596.60M293.70 512.05H295.80M378.90 594.40V596.60M293.70 510.63H295.80M380.33 594.40V596.60M293.70 509.46H295.80M381.51 594.40V596.60M293.70 508.48H295.80M382.50 594.40V596.60M293.70 507.62H295.80M383.36 594.40V596.60M293.70 506.87H295.80M384.12 594.40V596.60M292.80 506.20H295.80M384.80 594.40V597.40" stroke="#000" stroke-width="1" fill="none"/>
<g font-size="7.1" fill="#111" stroke="#111" stroke-width="0.12"><text x="277.90" y="597.00" textLength="7.9" lengthAdjust="spacingAndGlyphs">10</text><text x="285.70" y="594.10" font-size="5.5">0</text><text x="290.10" y="608.70" textLength="7.9" lengthAdjust="spacingAndGlyphs">10</text><text x="298.00" y="606.00" font-size="5.5">0</text><text x="277.90" y="582.30" textLength="7.9" lengthAdjust="spacingAndGlyphs">10</text><text x="285.70" y="579.40" font-size="5.5">1</text><text x="304.70" y="608.70" textLength="7.9" lengthAdjust="spacingAndGlyphs">10</text><text x="312.60" y="606.00" font-size="5.5">1</text><text x="277.90" y="567.60" textLength="7.9" lengthAdjust="spacingAndGlyphs">10</text><text x="285.70" y="564.70" font-size="5.5">2</text><text x="319.30" y="608.70" textLength="7.9" lengthAdjust="spacingAndGlyphs">10</text><text x="327.20" y="606.00" font-size="5.5">2</text><text x="277.90" y="552.90" textLength="7.9" lengthAdjust="spacingAndGlyphs">10</text><text x="285.70" y="550.00" font-size="5.5">3</text><text x="333.90" y="608.70" textLength="7.9" lengthAdjust="spacingAndGlyphs">10</text><text x="341.80" y="606.00" font-size="5.5">3</text><text x="277.90" y="538.20" textLength="7.9" lengthAdjust="spacingAndGlyphs">10</text><text x="285.70" y="535.30" font-size="5.5">4</text><text x="348.50" y="608.70" textLength="7.9" lengthAdjust="spacingAndGlyphs">10</text><text x="356.40" y="606.00" font-size="5.5">4</text><text x="277.90" y="523.50" textLength="7.9" lengthAdjust="spacingAndGlyphs">10</text><text x="285.70" y="520.60" font-size="5.5">5</text><text x="363.10" y="608.70" textLength="7.9" lengthAdjust="spacingAndGlyphs">10</text><text x="371.00" y="606.00" font-size="5.5">5</text><text x="277.90" y="508.80" textLength="7.9" lengthAdjust="spacingAndGlyphs">10</text><text x="285.70" y="505.90" font-size="5.5">6</text><text x="377.70" y="608.70" textLength="7.9" lengthAdjust="spacingAndGlyphs">10</text><text x="385.60" y="606.00" font-size="5.5">6</text></g>
<g font-size="7.6" fill="#1a1a1a" stroke="#1a1a1a" stroke-width="0.1">
<text x="298.70" y="517.40" font-size="7.6" fill="#1a1a1a" stroke="#1a1a1a" stroke-width="0.15" >44.6</text>
<text x="374.80" y="517.40" font-size="7.6" text-anchor="end" fill="#1a1a1a" stroke="#1a1a1a" stroke-width="0.15" >35.4</text>
<text x="298.20" y="588.10" font-size="7.6" fill="#1a1a1a" stroke="#1a1a1a" stroke-width="0.15" >7.98</text>
<text x="374.80" y="588.10" font-size="7.6" text-anchor="end" fill="#1a1a1a" stroke="#1a1a1a" stroke-width="0.15" >12.0</text>
</g>
<path d="M464.9 559.7 461.4 559.8 458.4 559.4 455.4 558.2 452.9 556.5 451.0 554.2 449.6 551.2 449.0 548.2 449.1 545.2 450.0 542.5 451.4 540.2 453.4 538.2 456.2 536.3 459.4 534.9 463.2 533.9 466.4 533.5 469.7 533.8 472.2 534.5 474.4 535.5 476.1 536.7 477.5 538.2 478.6 540.2 479.4 542.7 479.7 545.2 479.5 547.7 478.8 550.0 477.9 552.0 476.5 554.0 474.7 555.7 472.7 557.1 470.4 558.3 467.9 559.1 464.9 559.7Z M464.4 557.5 461.4 557.4 458.7 556.9 456.2 555.7 454.2 554.1 452.8 552.2 451.8 549.7 451.5 547.0 451.9 544.5 453.0 542.2 454.5 540.5 456.9 538.6 459.4 537.4 462.7 536.3 465.9 535.8 468.7 535.9 471.4 536.6 473.2 537.3 474.7 538.3 475.9 539.7 476.8 541.2 477.5 543.0 477.8 545.0 477.7 547.0 477.3 548.7 476.6 550.5 475.6 552.0 474.3 553.5 472.7 554.7 470.9 555.8 468.9 556.6 464.4 557.5Z M465.7 556.0 462.9 556.1 460.4 555.8 458.2 555.0 456.2 553.8 454.6 552.2 453.6 550.2 453.1 548.0 453.2 545.7 453.9 543.7 455.2 542.0 456.9 540.4 459.2 539.0 461.7 538.0 464.7 537.4 467.2 537.2 469.7 537.5 472.9 538.8 474.2 539.7 475.2 541.0 475.9 542.5 476.4 544.0 476.5 545.7 476.3 547.5 475.1 550.5 474.0 552.0 472.7 553.2 469.4 555.0 465.7 556.0Z M465.7 555.0 463.2 555.1 460.9 554.8 458.7 554.1 456.9 553.0 455.5 551.5 454.6 549.7 454.2 547.7 454.4 545.7 455.1 544.0 456.2 542.5 457.9 541.0 459.9 539.8 462.4 538.9 464.9 538.3 467.4 538.2 469.7 538.5 472.5 539.7 473.7 540.7 474.4 541.7 475.1 543.2 475.5 544.7 475.3 547.7 474.0 550.5 471.9 552.6 469.2 554.1 465.7 555.0Z M465.4 554.2 463.2 554.3 460.9 554.0 458.9 553.2 457.4 552.2 456.1 550.7 455.4 549.0 455.2 547.2 455.5 545.5 456.2 544.0 457.5 542.5 459.2 541.1 461.2 540.1 463.4 539.4 465.7 539.0 467.9 539.0 469.9 539.4 472.2 540.5 473.9 542.5 474.7 545.2 474.4 548.0 473.2 550.2 471.1 552.2 468.4 553.6 465.4 554.2Z M466.2 553.5 463.9 553.6 461.9 553.5 459.9 552.9 458.4 552.1 457.3 551.0 456.4 549.5 456.0 548.0 456.1 546.2 456.6 544.7 457.5 543.5 458.9 542.2 460.7 541.1 464.7 539.8 466.7 539.6 468.7 539.8 471.2 540.7 472.9 542.2 473.8 544.5 473.9 547.0 473.0 549.2 471.3 551.2 468.9 552.7 466.2 553.5Z M465.4 553.0 463.4 553.0 461.4 552.7 459.7 552.1 458.4 551.2 457.4 550.0 456.9 548.7 456.7 547.2 456.9 545.7 457.6 544.5 458.7 543.2 460.2 542.1 462.2 541.1 464.2 540.5 466.2 540.2 467.9 540.3 469.7 540.7 471.6 541.7 472.8 543.5 473.3 545.5 473.0 547.7 471.9 549.7 470.2 551.3 467.9 552.4 465.4 553.0Z M465.2 552.5 461.7 552.2 460.2 551.7 458.9 550.9 458.0 549.7 457.4 548.5 457.3 547.0 457.6 545.7 458.3 544.5 459.4 543.3 460.9 542.3 462.7 541.5 466.4 540.7 468.2 540.8 469.7 541.2 471.4 542.4 472.4 544.0 472.7 546.0 472.3 548.0 471.2 549.7 469.7 551.0 467.7 552.0 465.2 552.5Z M465.4 552.0 461.9 551.8 460.7 551.3 459.4 550.6 458.7 549.7 458.0 548.5 457.9 547.2 458.1 546.0 458.8 544.7 459.8 543.7 462.7 542.0 466.2 541.2 467.7 541.2 469.2 541.6 470.7 542.5 471.8 544.0 472.1 545.7 471.8 547.7 470.9 549.2 469.4 550.6 467.7 551.4 465.4 552.0Z M465.7 551.5 462.4 551.4 461.1 551.0 459.9 550.3 459.1 549.5 458.6 548.5 458.4 547.5 458.6 546.2 459.1 545.2 460.0 544.2 462.7 542.5 465.9 541.7 468.7 541.9 470.2 542.7 471.2 544.0 471.6 545.5 471.4 547.2 470.7 548.7 469.4 550.0 467.7 550.9 465.7 551.5Z M465.9 551.0 462.9 551.0 460.7 550.2 459.8 549.5 459.2 548.5 459.0 547.5 459.1 546.5 460.2 544.6 462.4 543.1 465.4 542.2 468.2 542.3 469.7 543.0 470.6 544.0 471.1 545.5 470.9 547.0 470.3 548.5 469.2 549.6 467.7 550.5 465.9 551.0Z M466.2 550.5 463.4 550.6 461.2 550.0 460.2 549.2 459.7 548.5 459.5 546.7 460.5 545.0 462.4 543.5 465.2 542.6 467.7 542.6 468.9 543.0 470.0 544.0 470.5 545.2 470.5 546.7 469.9 548.0 468.9 549.2 467.7 550.0 466.2 550.5Z M465.4 550.2 463.2 550.2 461.2 549.4 460.2 548.2 460.0 547.5 460.1 546.5 461.2 544.9 463.4 543.5 465.9 542.9 468.2 543.2 469.2 543.8 469.8 544.7 470.1 546.0 469.8 547.2 469.2 548.3 468.2 549.2 466.9 549.8 465.4 550.2Z M465.9 549.7 463.7 549.8 461.7 549.2 460.7 548.1 460.6 546.7 461.4 545.3 463.2 544.1 465.4 543.4 467.4 543.4 468.4 543.8 469.2 544.6 469.6 545.7 469.5 546.7 469.0 547.7 468.2 548.6 465.9 549.7Z M466.2 549.2 463.9 549.4 461.9 548.8 461.4 548.2 461.1 547.5 461.1 546.7 461.5 546.0 462.9 544.7 464.7 543.9 466.7 543.7 468.1 544.2 469.0 545.5 468.9 547.0 467.9 548.3 466.2 549.2Z M465.2 549.0 463.7 548.9 462.4 548.5 461.7 547.5 461.8 546.5 462.7 545.4 464.4 544.5 466.2 544.2 467.4 544.4 468.1 545.0 468.4 545.6 468.2 547.2 466.9 548.4 465.2 549.0Z M465.4 548.5 463.9 548.5 462.9 548.1 462.4 547.5 462.5 546.5 463.2 545.6 464.4 544.9 465.7 544.6 466.9 544.8 467.8 545.7 467.7 546.9 466.8 548.0 465.4 548.5Z M464.9 548.0 463.9 547.8 463.3 547.5 463.1 547.0 463.4 546.2 464.2 545.6 465.2 545.3 466.7 545.5 467.1 546.2 466.9 547.0 466.0 547.7 464.9 548.0Z" fill="none" stroke="#707070" stroke-width="0.5"/>
<line x1="451.5" y1="506.2" x2="451.5" y2="594.4" stroke="#222" stroke-width="1.1"/>
<line x1="418.2" y1="553.5" x2="507.2" y2="553.5" stroke="#222" stroke-width="1.1"/>
<path d="M418.2,528.7 A4.6 17.5 0 0 1 418.2,563.7 Z" fill="#1a1a1a" filter="url(#bl)"/>
<path d="M456.70,534.20 A14.3 12.5 0 0 0 456.70,559.20M456.70,535.70 A12.1 11.0 0 0 0 456.70,557.70M456.70,537.20 A9.9 9.5 0 0 0 456.70,556.20M456.70,538.70 A7.7 8.0 0 0 0 456.70,554.70" fill="none" stroke="#707070" stroke-width="0.5"/>
<rect x="418.2" y="506.2" width="89.0" height="88.2" fill="none" stroke="#000" stroke-width="1.3"/>
<path d="M415.20 594.40H418.20M418.20 594.40V597.40M416.10 589.97H418.20M422.67 594.40V596.60M416.10 587.39H418.20M425.28 594.40V596.60M416.10 585.55H418.20M427.13 594.40V596.60M416.10 584.13H418.20M428.57 594.40V596.60M416.10 582.96H418.20M429.74 594.40V596.60M416.10 581.98H418.20M430.74 594.40V596.60M416.10 581.12H418.20M431.60 594.40V596.60M416.10 580.37H418.20M432.35 594.40V596.60M415.20 579.70H418.20M433.03 594.40V597.40M416.10 575.27H418.20M437.50 594.40V596.60M416.10 572.69H418.20M440.11 594.40V596.60M416.10 570.85H418.20M441.96 594.40V596.60M416.10 569.43H418.20M443.40 594.40V596.60M416.10 568.26H418.20M444.58 594.40V596.60M416.10 567.28H418.20M445.57 594.40V596.60M416.10 566.42H418.20M446.43 594.40V596.60M416.10 565.67H418.20M447.19 594.40V596.60M415.20 565.00H418.20M447.87 594.40V597.40M416.10 560.57H418.20M452.33 594.40V596.60M416.10 557.99H418.20M454.94 594.40V596.60M416.10 556.15H418.20M456.80 594.40V596.60M416.10 554.73H418.20M458.23 594.40V596.60M416.10 553.56H418.20M459.41 594.40V596.60M416.10 552.58H418.20M460.40 594.40V596.60M416.10 551.72H418.20M461.26 594.40V596.60M416.10 550.97H418.20M462.02 594.40V596.60M415.20 550.30H418.20M462.70 594.40V597.40M416.10 545.87H418.20M467.17 594.40V596.60M416.10 543.29H418.20M469.78 594.40V596.60M416.10 541.45H418.20M471.63 594.40V596.60M416.10 540.03H418.20M473.07 594.40V596.60M416.10 538.86H418.20M474.24 594.40V596.60M416.10 537.88H418.20M475.24 594.40V596.60M416.10 537.02H418.20M476.10 594.40V596.60M416.10 536.27H418.20M476.85 594.40V596.60M415.20 535.60H418.20M477.53 594.40V597.40M416.10 531.17H418.20M482.00 594.40V596.60M416.10 528.59H418.20M484.61 594.40V596.60M416.10 526.75H418.20M486.46 594.40V596.60M416.10 525.33H418.20M487.90 594.40V596.60M416.10 524.16H418.20M489.08 594.40V596.60M416.10 523.18H418.20M490.07 594.40V596.60M416.10 522.32H418.20M490.93 594.40V596.60M416.10 521.57H418.20M491.69 594.40V596.60M415.20 520.90H418.20M492.37 594.40V597.40M416.10 516.47H418.20M496.83 594.40V596.60M416.10 513.89H418.20M499.44 594.40V596.60M416.10 512.05H418.20M501.30 594.40V596.60M416.10 510.63H418.20M502.73 594.40V596.60M416.10 509.46H418.20M503.91 594.40V596.60M416.10 508.48H418.20M504.90 594.40V596.60M416.10 507.62H418.20M505.76 594.40V596.60M416.10 506.87H418.20M506.52 594.40V596.60M415.20 506.20H418.20M507.20 594.40V597.40" stroke="#000" stroke-width="1" fill="none"/>
<g font-size="7.1" fill="#111" stroke="#111" stroke-width="0.12"><text x="400.30" y="597.00" textLength="7.9" lengthAdjust="spacingAndGlyphs">10</text><text x="408.10" y="594.10" font-size="5.5">0</text><text x="412.50" y="608.70" textLength="7.9" lengthAdjust="spacingAndGlyphs">10</text><text x="420.40" y="606.00" font-size="5.5">0</text><text x="400.30" y="582.30" textLength="7.9" lengthAdjust="spacingAndGlyphs">10</text><text x="408.10" y="579.40" font-size="5.5">1</text><text x="427.10" y="608.70" textLength="7.9" lengthAdjust="spacingAndGlyphs">10</text><text x="435.00" y="606.00" font-size="5.5">1</text><text x="400.30" y="567.60" textLength="7.9" lengthAdjust="spacingAndGlyphs">10</text><text x="408.10" y="564.70" font-size="5.5">2</text><text x="441.70" y="608.70" textLength="7.9" lengthAdjust="spacingAndGlyphs">10</text><text x="449.60" y="606.00" font-size="5.5">2</text><text x="400.30" y="552.90" textLength="7.9" lengthAdjust="spacingAndGlyphs">10</text><text x="408.10" y="550.00" font-size="5.5">3</text><text x="456.30" y="608.70" textLength="7.9" lengthAdjust="spacingAndGlyphs">10</text><text x="464.20" y="606.00" font-size="5.5">3</text><text x="400.30" y="538.20" textLength="7.9" lengthAdjust="spacingAndGlyphs">10</text><text x="408.10" y="535.30" font-size="5.5">4</text><text x="470.90" y="608.70" textLength="7.9" lengthAdjust="spacingAndGlyphs">10</text><text x="478.80" y="606.00" font-size="5.5">4</text><text x="400.30" y="523.50" textLength="7.9" lengthAdjust="spacingAndGlyphs">10</text><text x="408.10" y="520.60" font-size="5.5">5</text><text x="485.50" y="608.70" textLength="7.9" lengthAdjust="spacingAndGlyphs">10</text><text x="493.40" y="606.00" font-size="5.5">5</text><text x="400.30" y="508.80" textLength="7.9" lengthAdjust="spacingAndGlyphs">10</text><text x="408.10" y="505.90" font-size="5.5">6</text><text x="500.10" y="608.70" textLength="7.9" lengthAdjust="spacingAndGlyphs">10</text><text x="508.00" y="606.00" font-size="5.5">6</text></g>
<g font-size="7.6" fill="#1a1a1a" stroke="#1a1a1a" stroke-width="0.1">
<text x="421.10" y="517.40" font-size="7.6" fill="#1a1a1a" stroke="#1a1a1a" stroke-width="0.15" >27.5</text>
<text x="497.20" y="517.40" font-size="7.6" text-anchor="end" fill="#1a1a1a" stroke="#1a1a1a" stroke-width="0.15" >58.2</text>
<text x="420.60" y="588.10" font-size="7.6" fill="#1a1a1a" stroke="#1a1a1a" stroke-width="0.15" >7.14</text>
<text x="497.20" y="588.10" font-size="7.6" text-anchor="end" fill="#1a1a1a" stroke="#1a1a1a" stroke-width="0.15" >7.23</text>
</g>
<path d="M22.7,620 L22.7,576" stroke="#000" stroke-width="1.5" fill="none"/>
<path d="M19.8,577.5 L22.7,571 L25.6,577.5 Z" fill="#000"/>
<path d="M22,620 L74,620" stroke="#000" stroke-width="1.5" fill="none"/>
<path d="M73,617 L80,620 L73,623 Z" fill="#000"/>
<text transform="translate(18.3,606.2) rotate(-90)" font-size="9.5" font-weight="bold" fill="#111" textLength="21.6" lengthAdjust="spacingAndGlyphs">Zombie</text>
<text x="36.50" y="631.50" font-size="9.5" font-weight="bold" fill="#111" stroke="#111" stroke-width="0.15" textLength="29.8" lengthAdjust="spacingAndGlyphs" >Annexin V</text>
</svg></body></html>
